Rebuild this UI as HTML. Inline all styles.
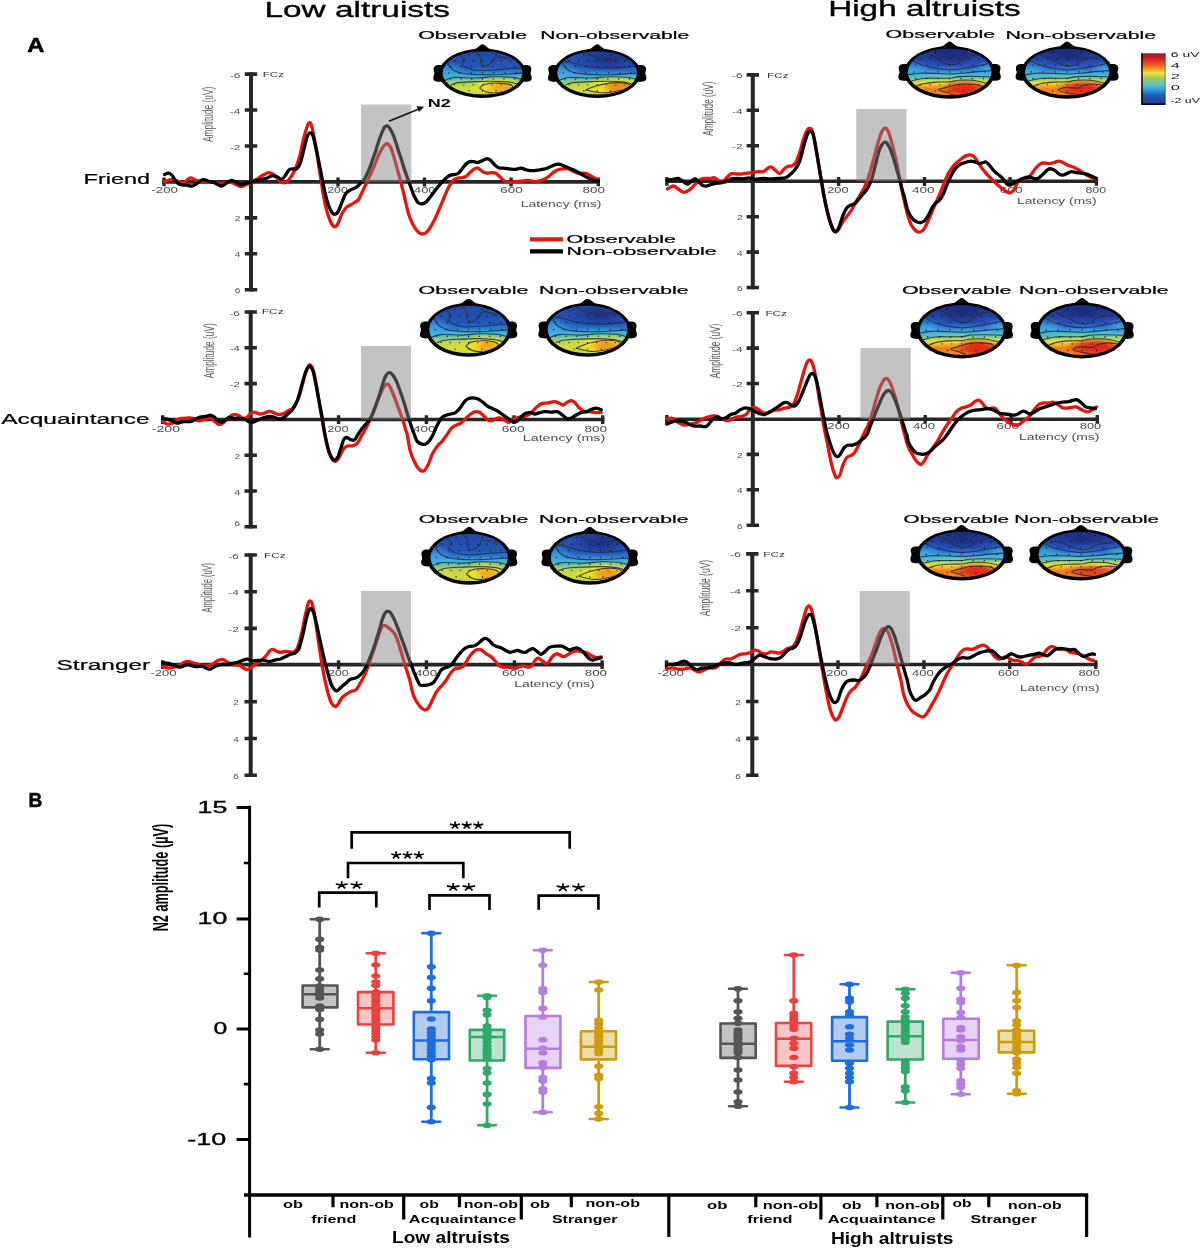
<!DOCTYPE html><html><head><meta charset="utf-8"><title>Figure</title><style>html,body{margin:0;padding:0;background:#fff}svg{display:block;will-change:transform;transform:translateZ(0)}text{font-family:"Liberation Sans",sans-serif}</style></head><body>
<svg width="1200" height="1248" viewBox="0 0 1200 1248">
<rect width="1200" height="1248" fill="#fff"/>
<text x="264.4" y="17.0" font-size="22.6" font-weight="normal" fill="#000" textLength="185.6" lengthAdjust="spacingAndGlyphs" stroke="#000" stroke-width="0.35">Low altruists</text>
<text x="828.2" y="16.2" font-size="22.6" font-weight="normal" fill="#000" textLength="192.4" lengthAdjust="spacingAndGlyphs" stroke="#000" stroke-width="0.35">High altruists</text>
<text x="27.3" y="52.0" font-size="21.0" font-weight="bold" fill="#000" textLength="17.1" lengthAdjust="spacingAndGlyphs" stroke="#000" stroke-width="0.6">A</text>
<text x="28.6" y="807.0" font-size="19.3" font-weight="bold" fill="#000" textLength="13.8" lengthAdjust="spacingAndGlyphs" stroke="#000" stroke-width="0.5">B</text>
<defs>
<clipPath id="tc0"><ellipse cx="482.5" cy="72.9" rx="39.8" ry="21.7"/></clipPath>
<linearGradient id="tg0" x1="0" y1="0" x2="0" y2="1"><stop offset="0" stop-color="#1f4aaa"/><stop offset="0.36" stop-color="#2456b9"/><stop offset="0.47" stop-color="#2a74ce"/><stop offset="0.55" stop-color="#39a9e0"/><stop offset="0.62" stop-color="#56bfb8"/><stop offset="0.7" stop-color="#94cc72"/><stop offset="0.78" stop-color="#c4d84a"/><stop offset="0.9" stop-color="#d4dd38"/><stop offset="1" stop-color="#c2d242"/></linearGradient>
<radialGradient id="th0"><stop offset="0" stop-color="#f6a816"/><stop offset="0.4" stop-color="#f6a816" stop-opacity="0.9"/><stop offset="1" stop-color="#f6a816" stop-opacity="0"/></radialGradient>
<radialGradient id="ty0"><stop offset="0" stop-color="#f4e224"/><stop offset="0.5" stop-color="#f0e026" stop-opacity="0.85"/><stop offset="1" stop-color="#e8e02a" stop-opacity="0"/></radialGradient>
<radialGradient id="tb0"><stop offset="0" stop-color="#3cace6" stop-opacity="0.95"/><stop offset="1" stop-color="#3cace6" stop-opacity="0"/></radialGradient>
<radialGradient id="td0"><stop offset="0" stop-color="#1a2f80" stop-opacity="0.95"/><stop offset="1" stop-color="#1a2f80" stop-opacity="0"/></radialGradient>
</defs>
<g fill="#000">
<path d="M442.1 65.0C434.8 64.4 433.6 66.8 433.6 69.1C433.6 71.1 434.4 72.1 434.4 73.3C434.4 74.5 433.3 75.7 433.3 77.9C433.3 80.3 435.0 82.2 442.1 81.7Z"/>
<path d="M522.9 65.0C530.2 64.4 531.4 66.8 531.4 69.1C531.4 71.1 530.6 72.1 530.6 73.3C530.6 74.5 531.7 75.7 531.7 77.9C531.7 80.3 530.0 82.2 522.9 81.7Z"/>
<path d="M472.5 51.2L480.3 45.2Q482.5 43.4 484.7 45.2L492.5 51.2Z"/>
<ellipse cx="482.5" cy="73.3" rx="43.4" ry="24.7"/>
</g>
<g clip-path="url(#tc0)">
<rect x="439.1" y="51.2" width="86.8" height="43.4" fill="url(#tg0)"/>
<ellipse cx="448.3" cy="72.5" rx="18.3" ry="10.8" fill="url(#tb0)"/>
<ellipse cx="498.4" cy="87.2" rx="28.9" ry="11.8" fill="url(#ty0)"/>
<ellipse cx="500.8" cy="87.7" rx="15.9" ry="7.3" fill="url(#th0)"/>
<g fill="none" stroke="#2b3038" stroke-width="1.1" stroke-opacity="0.9">
<path d="M475.3 51.5C476.1 52.2 479.1 54.0 480.0 55.9C480.9 57.8 480.2 61.0 480.8 62.7C481.4 64.4 482.1 65.5 483.3 65.9C484.6 66.2 486.6 65.7 488.4 64.9C490.2 64.0 492.8 62.0 493.9 60.7C494.9 59.5 493.5 58.2 494.7 57.6C495.9 57.0 498.5 56.8 501.1 57.1C503.6 57.4 508.4 59.1 509.9 59.5"/>
<path d="M460.1 55.4C460.8 56.1 464.1 58.0 464.4 59.5C464.6 61.0 461.3 63.0 461.8 64.4C462.3 65.8 464.6 67.0 467.3 68.0C470.0 69.1 473.4 70.1 477.9 70.5C482.3 70.8 488.3 70.3 493.9 70.0C499.5 69.7 506.8 68.8 511.6 68.5C516.4 68.2 520.8 68.1 522.6 68.0"/>
<path d="M447.5 61.7C448.0 62.8 449.1 66.3 450.9 68.0C452.6 69.8 454.6 71.1 458.0 72.2C461.5 73.2 465.6 73.9 471.5 74.4C477.5 74.8 485.2 75.0 493.9 74.8C502.5 74.6 518.5 73.4 523.4 73.1"/>
<path d="M444.5 80.4C446.1 79.9 448.5 77.9 453.8 77.5C459.1 77.1 469.5 78.1 476.2 78.0C482.9 77.9 488.0 76.9 493.9 76.8C499.8 76.7 507.0 76.8 511.6 77.3C516.3 77.7 520.0 79.1 521.7 79.5"/>
<path d="M450.4 85.1C451.7 84.6 453.7 83.2 458.0 82.6C462.3 82.1 470.2 81.9 476.2 81.6C482.1 81.4 488.3 81.1 493.9 81.2C499.5 81.2 505.9 81.6 509.9 82.1C513.9 82.7 516.6 84.0 517.9 84.3"/>
<path d="M479.5 88.0C480.5 87.4 481.9 85.1 485.0 84.3C488.2 83.5 494.1 82.9 498.5 83.1C503.0 83.3 509.7 84.3 511.6 85.3C513.5 86.3 512.1 87.7 509.9 88.9C507.7 90.2 502.4 92.1 498.5 92.6C494.7 93.1 489.9 92.9 486.7 92.1C483.6 91.3 480.7 88.7 479.5 88.0"/>
</g>
<path d="M469.0 54.7h0.01M496.0 54.7h0.01M454.6 60.7h0.01M463.9 60.7h0.01M473.2 60.7h0.01M482.5 60.7h0.01M491.8 60.7h0.01M501.1 60.7h0.01M510.4 60.7h0.01M450.3 66.6h0.01M461.0 66.6h0.01M471.8 66.6h0.01M482.5 66.6h0.01M493.2 66.6h0.01M504.0 66.6h0.01M514.7 66.6h0.01M448.7 72.9h0.01M459.9 72.9h0.01M471.2 72.9h0.01M482.5 72.9h0.01M493.8 72.9h0.01M505.1 72.9h0.01M516.3 72.9h0.01M450.3 79.0h0.01M461.0 79.0h0.01M471.8 79.0h0.01M482.5 79.0h0.01M493.2 79.0h0.01M504.0 79.0h0.01M514.7 79.0h0.01M454.6 84.8h0.01M463.9 84.8h0.01M473.2 84.8h0.01M482.5 84.8h0.01M491.8 84.8h0.01M501.1 84.8h0.01M510.4 84.8h0.01M469.0 90.7h0.01M482.5 90.7h0.01M496.0 90.7h0.01" stroke="#0c0c10" stroke-width="1.35" stroke-linecap="round" fill="none"/>
</g>
<defs>
<clipPath id="tc1"><ellipse cx="597.2" cy="72.9" rx="39.8" ry="21.7"/></clipPath>
<linearGradient id="tg1" x1="0" y1="0" x2="0" y2="1"><stop offset="0" stop-color="#1f4aaa"/><stop offset="0.36" stop-color="#2456b9"/><stop offset="0.47" stop-color="#2a74ce"/><stop offset="0.55" stop-color="#39a9e0"/><stop offset="0.62" stop-color="#56bfb8"/><stop offset="0.7" stop-color="#94cc72"/><stop offset="0.78" stop-color="#c4d84a"/><stop offset="0.9" stop-color="#d4dd38"/><stop offset="1" stop-color="#c2d242"/></linearGradient>
<radialGradient id="th1"><stop offset="0" stop-color="#f08a16"/><stop offset="0.4" stop-color="#f08a16" stop-opacity="0.9"/><stop offset="1" stop-color="#f08a16" stop-opacity="0"/></radialGradient>
<radialGradient id="ty1"><stop offset="0" stop-color="#f4e224"/><stop offset="0.5" stop-color="#f0e026" stop-opacity="0.85"/><stop offset="1" stop-color="#e8e02a" stop-opacity="0"/></radialGradient>
<radialGradient id="tb1"><stop offset="0" stop-color="#3cace6" stop-opacity="0.95"/><stop offset="1" stop-color="#3cace6" stop-opacity="0"/></radialGradient>
<radialGradient id="td1"><stop offset="0" stop-color="#1a2f80" stop-opacity="0.95"/><stop offset="1" stop-color="#1a2f80" stop-opacity="0"/></radialGradient>
</defs>
<g fill="#000">
<path d="M556.8 65.0C549.5 64.4 548.3 66.8 548.3 69.1C548.3 71.1 549.1 72.1 549.1 73.3C549.1 74.5 548.0 75.7 548.0 77.9C548.0 80.3 549.7 82.2 556.8 81.7Z"/>
<path d="M637.6 65.0C644.9 64.4 646.1 66.8 646.1 69.1C646.1 71.1 645.3 72.1 645.3 73.3C645.3 74.5 646.4 75.7 646.4 77.9C646.4 80.3 644.7 82.2 637.6 81.7Z"/>
<path d="M587.2 51.2L595.0 45.2Q597.2 43.4 599.4 45.2L607.2 51.2Z"/>
<ellipse cx="597.2" cy="73.3" rx="43.4" ry="24.7"/>
</g>
<g clip-path="url(#tc1)">
<rect x="553.8" y="51.2" width="86.8" height="43.4" fill="url(#tg1)"/>
<ellipse cx="563.0" cy="72.5" rx="18.3" ry="10.8" fill="url(#tb1)"/>
<ellipse cx="609.1" cy="59.4" rx="33.8" ry="13.0" fill="url(#td1)"/>
<ellipse cx="616.3" cy="86.8" rx="33.5" ry="11.8" fill="url(#ty1)"/>
<ellipse cx="618.7" cy="87.2" rx="18.5" ry="7.3" fill="url(#th1)"/>
<g fill="none" stroke="#2b3038" stroke-width="1.1" stroke-opacity="0.9">
<path d="M584.5 52.0C586.3 52.8 591.2 55.6 595.1 56.9C599.0 58.1 603.5 59.1 607.7 59.3C612.0 59.5 616.0 57.6 620.4 57.8C624.8 58.1 632.0 60.3 634.3 60.7"/>
<path d="M561.3 60.7C563.4 61.2 569.8 62.2 574.0 63.2C578.2 64.1 581.7 65.5 586.7 66.3C591.6 67.1 597.9 67.8 603.5 68.0C609.2 68.2 614.6 68.0 620.4 67.6C626.2 67.1 635.2 65.9 638.1 65.6"/>
<path d="M562.2 61.7C562.7 62.8 563.8 66.3 565.6 68.0C567.3 69.8 569.3 71.1 572.7 72.2C576.2 73.2 580.3 73.9 586.2 74.4C592.2 74.8 599.9 75.0 608.6 74.8C617.2 74.6 633.2 73.4 638.1 73.1"/>
<path d="M559.2 80.4C560.8 79.9 563.2 77.9 568.5 77.5C573.8 77.1 584.2 78.1 590.9 78.0C597.6 77.9 602.7 76.9 608.6 76.8C614.5 76.7 621.7 76.8 626.3 77.3C631.0 77.7 634.7 79.1 636.4 79.5"/>
<path d="M565.1 85.1C566.4 84.6 568.4 83.2 572.7 82.6C577.0 82.1 584.9 81.9 590.9 81.6C596.8 81.4 603.0 81.1 608.6 81.2C614.2 81.2 620.6 81.6 624.6 82.1C628.6 82.7 631.3 84.0 632.6 84.3"/>
<path d="M585.4 89.9C587.0 89.3 591.0 87.4 595.1 86.3C599.2 85.1 604.9 83.6 609.9 83.1C614.8 82.6 621.8 82.6 625.0 83.1C628.3 83.6 630.4 85.0 629.3 86.3C628.1 87.6 622.9 89.8 618.3 90.9C613.7 92.0 606.9 93.0 601.4 92.8C595.9 92.7 588.1 90.4 585.4 89.9"/>
</g>
<path d="M583.7 54.7h0.01M610.7 54.7h0.01M569.3 60.7h0.01M578.6 60.7h0.01M587.9 60.7h0.01M597.2 60.7h0.01M606.5 60.7h0.01M615.8 60.7h0.01M625.1 60.7h0.01M565.0 66.6h0.01M575.7 66.6h0.01M586.5 66.6h0.01M597.2 66.6h0.01M607.9 66.6h0.01M618.7 66.6h0.01M629.4 66.6h0.01M563.4 72.9h0.01M574.6 72.9h0.01M585.9 72.9h0.01M597.2 72.9h0.01M608.5 72.9h0.01M619.8 72.9h0.01M631.0 72.9h0.01M565.0 79.0h0.01M575.7 79.0h0.01M586.5 79.0h0.01M597.2 79.0h0.01M607.9 79.0h0.01M618.7 79.0h0.01M629.4 79.0h0.01M569.3 84.8h0.01M578.6 84.8h0.01M587.9 84.8h0.01M597.2 84.8h0.01M606.5 84.8h0.01M615.8 84.8h0.01M625.1 84.8h0.01M583.7 90.7h0.01M597.2 90.7h0.01M610.7 90.7h0.01" stroke="#0c0c10" stroke-width="1.35" stroke-linecap="round" fill="none"/>
</g>
<defs>
<clipPath id="tc2"><ellipse cx="949.6" cy="71.9" rx="41.8" ry="23.4"/></clipPath>
<linearGradient id="tg2" x1="0" y1="0" x2="0" y2="1"><stop offset="0" stop-color="#1d2f84"/><stop offset="0.2" stop-color="#20409e"/><stop offset="0.36" stop-color="#2452ba"/><stop offset="0.46" stop-color="#2c7ad2"/><stop offset="0.52" stop-color="#38a9e0"/><stop offset="0.58" stop-color="#52c1c6"/><stop offset="0.64" stop-color="#86ca8c"/><stop offset="0.69" stop-color="#c4d94e"/><stop offset="0.74" stop-color="#f1e02e"/><stop offset="0.8" stop-color="#f8ae20"/><stop offset="0.87" stop-color="#f27a20"/><stop offset="1" stop-color="#f38a22"/></linearGradient>
<radialGradient id="th2"><stop offset="0" stop-color="#e22818"/><stop offset="0.4" stop-color="#e22818" stop-opacity="0.9"/><stop offset="1" stop-color="#e22818" stop-opacity="0"/></radialGradient>
<radialGradient id="ty2"><stop offset="0" stop-color="#f4e224"/><stop offset="0.5" stop-color="#f0e026" stop-opacity="0.85"/><stop offset="1" stop-color="#e8e02a" stop-opacity="0"/></radialGradient>
<radialGradient id="tb2"><stop offset="0" stop-color="#3cace6" stop-opacity="0.95"/><stop offset="1" stop-color="#3cace6" stop-opacity="0"/></radialGradient>
<radialGradient id="td2"><stop offset="0" stop-color="#1b2a78" stop-opacity="0.95"/><stop offset="1" stop-color="#1b2a78" stop-opacity="0"/></radialGradient>
</defs>
<g fill="#000">
<path d="M907.2 64.0C899.9 63.4 898.7 65.8 898.7 68.1C898.7 70.1 899.5 71.1 899.5 72.3C899.5 73.5 898.4 74.7 898.4 76.9C898.4 79.3 900.1 81.2 907.2 80.7Z"/>
<path d="M992.0 64.0C999.3 63.4 1000.5 65.8 1000.5 68.1C1000.5 70.1 999.7 71.1 999.7 72.3C999.7 73.5 1000.8 74.7 1000.8 76.9C1000.8 79.3 999.1 81.2 992.0 80.7Z"/>
<path d="M939.6 48.5L947.4 42.5Q949.6 40.7 951.8 42.5L959.6 48.5Z"/>
<ellipse cx="949.6" cy="72.3" rx="45.4" ry="26.4"/>
</g>
<g clip-path="url(#tc2)">
<rect x="904.2" y="48.5" width="90.8" height="46.8" fill="url(#tg2)"/>
<ellipse cx="913.7" cy="71.4" rx="19.2" ry="11.7" fill="url(#tb2)"/>
<ellipse cx="987.2" cy="69.1" rx="15.0" ry="8.4" fill="url(#tb2)"/>
<ellipse cx="950.9" cy="55.5" rx="25.9" ry="11.7" fill="url(#td2)"/>
<ellipse cx="964.6" cy="88.7" rx="25.9" ry="9.4" fill="url(#th2)"/>
<g fill="none" stroke="#2b3038" stroke-width="1.1" stroke-opacity="0.9">
<path d="M923.9 52.0C925.7 52.9 931.8 55.5 935.0 57.2C938.2 59.0 940.4 61.2 943.0 62.5C945.5 63.7 947.5 64.6 950.0 64.8C952.6 65.0 955.7 64.6 958.0 63.5C960.4 62.4 961.8 59.3 964.2 58.0C966.7 56.7 970.2 56.1 972.6 55.7C975.1 55.2 977.8 55.2 978.8 55.1"/>
<path d="M911.5 59.8C913.4 60.8 918.8 63.9 923.0 65.3C927.2 66.8 932.2 67.8 936.8 68.5C941.3 69.2 945.6 69.8 950.0 69.8C954.5 69.8 958.8 69.1 963.3 68.5C967.8 67.9 972.6 67.0 977.1 66.1C981.6 65.3 988.1 63.7 990.4 63.3"/>
<path d="M906.6 75.0C908.6 74.7 913.6 73.5 918.6 73.2C923.6 72.9 931.5 73.3 936.8 73.5C942.0 73.6 945.6 74.0 950.0 74.0C954.5 74.0 958.8 73.6 963.3 73.2C967.8 72.8 972.2 72.1 977.1 71.6C981.9 71.2 990.0 70.8 992.6 70.6"/>
<path d="M909.7 81.3C911.9 80.9 918.5 79.0 923.0 78.5C927.5 77.9 932.2 78.2 936.8 78.2C941.3 78.1 946.4 78.5 950.0 78.2C953.7 77.9 955.1 76.9 958.9 76.6C962.7 76.3 967.3 76.3 972.6 76.4C978.0 76.4 987.8 76.8 990.8 76.9"/>
<path d="M915.9 86.6C917.1 86.1 919.5 84.4 923.0 83.7C926.5 83.0 932.2 82.4 936.8 82.1C941.3 81.8 946.4 82.2 950.0 81.9C953.7 81.6 955.1 80.5 958.9 80.3C962.7 80.0 968.1 79.8 972.6 80.3C977.1 80.7 983.7 82.5 985.9 82.9"/>
<path d="M953.6 94.7C952.4 94.3 949.0 93.2 946.5 92.3C944.0 91.5 938.5 90.6 938.5 89.7C938.5 88.9 943.4 88.2 946.5 87.4C949.6 86.5 953.6 85.0 957.1 84.5C960.7 83.9 964.1 83.9 967.8 84.0C971.4 84.0 976.5 84.5 978.8 85.0C981.2 85.5 981.4 86.8 981.9 87.1"/>
</g>
<path d="M935.4 52.2h0.01M963.8 52.2h0.01M920.3 58.8h0.01M930.1 58.8h0.01M939.8 58.8h0.01M949.6 58.8h0.01M959.4 58.8h0.01M969.1 58.8h0.01M978.9 58.8h0.01M915.7 65.1h0.01M927.0 65.1h0.01M938.3 65.1h0.01M949.6 65.1h0.01M960.9 65.1h0.01M972.2 65.1h0.01M983.5 65.1h0.01M914.1 71.9h0.01M925.9 71.9h0.01M937.8 71.9h0.01M949.6 71.9h0.01M961.4 71.9h0.01M973.3 71.9h0.01M985.1 71.9h0.01M915.7 78.5h0.01M927.0 78.5h0.01M938.3 78.5h0.01M949.6 78.5h0.01M960.9 78.5h0.01M972.2 78.5h0.01M983.5 78.5h0.01M920.3 84.8h0.01M930.1 84.8h0.01M939.8 84.8h0.01M949.6 84.8h0.01M959.4 84.8h0.01M969.1 84.8h0.01M978.9 84.8h0.01M935.4 91.1h0.01M949.6 91.1h0.01M963.8 91.1h0.01" stroke="#0c0c10" stroke-width="1.35" stroke-linecap="round" fill="none"/>
</g>
<defs>
<clipPath id="tc3"><ellipse cx="1067.1" cy="71.9" rx="42.1" ry="23.4"/></clipPath>
<linearGradient id="tg3" x1="0" y1="0" x2="0" y2="1"><stop offset="0" stop-color="#1d2f84"/><stop offset="0.2" stop-color="#20409e"/><stop offset="0.36" stop-color="#2452ba"/><stop offset="0.46" stop-color="#2c7ad2"/><stop offset="0.52" stop-color="#38a9e0"/><stop offset="0.58" stop-color="#52c1c6"/><stop offset="0.64" stop-color="#86ca8c"/><stop offset="0.69" stop-color="#c4d94e"/><stop offset="0.74" stop-color="#f1e02e"/><stop offset="0.8" stop-color="#f8ae20"/><stop offset="0.87" stop-color="#f27a20"/><stop offset="1" stop-color="#f38a22"/></linearGradient>
<radialGradient id="th3"><stop offset="0" stop-color="#e22818"/><stop offset="0.4" stop-color="#e22818" stop-opacity="0.9"/><stop offset="1" stop-color="#e22818" stop-opacity="0"/></radialGradient>
<radialGradient id="ty3"><stop offset="0" stop-color="#f4e224"/><stop offset="0.5" stop-color="#f0e026" stop-opacity="0.85"/><stop offset="1" stop-color="#e8e02a" stop-opacity="0"/></radialGradient>
<radialGradient id="tb3"><stop offset="0" stop-color="#3cace6" stop-opacity="0.95"/><stop offset="1" stop-color="#3cace6" stop-opacity="0"/></radialGradient>
<radialGradient id="td3"><stop offset="0" stop-color="#1b2a78" stop-opacity="0.95"/><stop offset="1" stop-color="#1b2a78" stop-opacity="0"/></radialGradient>
</defs>
<g fill="#000">
<path d="M1024.4 64.0C1017.1 63.4 1015.9 65.8 1015.9 68.1C1015.9 70.1 1016.7 71.1 1016.7 72.3C1016.7 73.5 1015.6 74.7 1015.6 76.9C1015.6 79.3 1017.3 81.2 1024.4 80.7Z"/>
<path d="M1109.8 64.0C1117.1 63.4 1118.3 65.8 1118.3 68.1C1118.3 70.1 1117.5 71.1 1117.5 72.3C1117.5 73.5 1118.6 74.7 1118.6 76.9C1118.6 79.3 1116.9 81.2 1109.8 80.7Z"/>
<path d="M1057.1 48.5L1064.9 42.5Q1067.1 40.7 1069.3 42.5L1077.1 48.5Z"/>
<ellipse cx="1067.1" cy="72.3" rx="45.7" ry="26.4"/>
</g>
<g clip-path="url(#tc3)">
<rect x="1021.4" y="48.5" width="91.4" height="46.8" fill="url(#tg3)"/>
<ellipse cx="1030.9" cy="71.4" rx="19.4" ry="11.7" fill="url(#tb3)"/>
<ellipse cx="1105.0" cy="69.1" rx="15.2" ry="8.4" fill="url(#tb3)"/>
<ellipse cx="1068.4" cy="55.5" rx="26.1" ry="9.9" fill="url(#td3)"/>
<ellipse cx="1082.3" cy="88.3" rx="27.8" ry="9.4" fill="url(#th3)"/>
<g fill="none" stroke="#2b3038" stroke-width="1.1" stroke-opacity="0.9">
<path d="M1041.2 55.0C1043.1 55.7 1049.2 57.9 1052.4 59.4C1055.6 60.9 1057.9 62.8 1060.4 63.9C1062.9 65.0 1065.0 65.7 1067.5 65.9C1070.1 66.0 1073.2 65.7 1075.6 64.8C1078.0 63.8 1079.4 61.2 1081.8 60.1C1084.3 59.0 1087.9 58.5 1090.3 58.1C1092.8 57.7 1095.5 57.7 1096.6 57.6"/>
<path d="M1028.7 59.8C1030.7 60.8 1036.1 63.9 1040.3 65.3C1044.6 66.8 1049.6 67.8 1054.2 68.5C1058.7 69.2 1063.1 69.8 1067.5 69.8C1072.0 69.8 1076.4 69.1 1080.9 68.5C1085.5 67.9 1090.2 67.0 1094.8 66.1C1099.3 65.3 1105.9 63.7 1108.2 63.3"/>
<path d="M1023.8 75.0C1025.8 74.7 1030.8 73.5 1035.9 73.2C1040.9 72.9 1048.9 73.3 1054.2 73.5C1059.4 73.6 1063.1 74.0 1067.5 74.0C1072.0 74.0 1076.4 73.6 1080.9 73.2C1085.5 72.8 1089.9 72.1 1094.8 71.6C1099.7 71.2 1107.8 70.8 1110.4 70.6"/>
<path d="M1026.9 81.3C1029.2 80.9 1035.8 79.0 1040.3 78.5C1044.9 77.9 1049.6 78.2 1054.2 78.2C1058.7 78.1 1063.8 78.5 1067.5 78.2C1071.3 77.9 1072.7 76.9 1076.5 76.6C1080.3 76.3 1085.0 76.3 1090.3 76.4C1095.7 76.4 1105.6 76.8 1108.6 76.9"/>
<path d="M1033.2 86.6C1034.4 86.1 1036.8 84.4 1040.3 83.7C1043.8 83.0 1049.6 82.4 1054.2 82.1C1058.7 81.8 1063.8 82.2 1067.5 81.9C1071.3 81.6 1072.7 80.5 1076.5 80.3C1080.3 80.0 1085.8 79.8 1090.3 80.3C1094.8 80.7 1101.5 82.5 1103.7 82.9"/>
<path d="M1080.5 95.0C1078.3 94.6 1070.8 93.7 1067.1 92.9C1063.4 92.1 1058.5 91.1 1058.2 90.2C1057.8 89.4 1061.5 88.0 1064.9 87.6C1068.2 87.3 1075.3 88.5 1078.3 88.1C1081.2 87.8 1080.1 86.2 1082.7 85.5C1085.3 84.8 1090.5 84.0 1093.9 84.0C1097.2 83.9 1101.3 84.8 1102.8 85.0"/>
</g>
<path d="M1052.8 52.2h0.01M1081.4 52.2h0.01M1037.6 58.8h0.01M1047.5 58.8h0.01M1057.3 58.8h0.01M1067.1 58.8h0.01M1076.9 58.8h0.01M1086.7 58.8h0.01M1096.6 58.8h0.01M1033.0 65.1h0.01M1044.4 65.1h0.01M1055.7 65.1h0.01M1067.1 65.1h0.01M1078.5 65.1h0.01M1089.8 65.1h0.01M1101.2 65.1h0.01M1031.3 71.9h0.01M1043.2 71.9h0.01M1055.2 71.9h0.01M1067.1 71.9h0.01M1079.0 71.9h0.01M1091.0 71.9h0.01M1102.9 71.9h0.01M1033.0 78.5h0.01M1044.4 78.5h0.01M1055.7 78.5h0.01M1067.1 78.5h0.01M1078.5 78.5h0.01M1089.8 78.5h0.01M1101.2 78.5h0.01M1037.6 84.8h0.01M1047.5 84.8h0.01M1057.3 84.8h0.01M1067.1 84.8h0.01M1076.9 84.8h0.01M1086.7 84.8h0.01M1096.6 84.8h0.01M1052.8 91.1h0.01M1067.1 91.1h0.01M1081.4 91.1h0.01" stroke="#0c0c10" stroke-width="1.35" stroke-linecap="round" fill="none"/>
</g>
<defs>
<clipPath id="tc4"><ellipse cx="468.6" cy="329.5" rx="39.3" ry="23.9"/></clipPath>
<linearGradient id="tg4" x1="0" y1="0" x2="0" y2="1"><stop offset="0" stop-color="#1f4aaa"/><stop offset="0.36" stop-color="#2456b9"/><stop offset="0.47" stop-color="#2a74ce"/><stop offset="0.55" stop-color="#39a9e0"/><stop offset="0.62" stop-color="#56bfb8"/><stop offset="0.7" stop-color="#94cc72"/><stop offset="0.78" stop-color="#c4d84a"/><stop offset="0.9" stop-color="#d4dd38"/><stop offset="1" stop-color="#c2d242"/></linearGradient>
<radialGradient id="th4"><stop offset="0" stop-color="#f6a816"/><stop offset="0.4" stop-color="#f6a816" stop-opacity="0.9"/><stop offset="1" stop-color="#f6a816" stop-opacity="0"/></radialGradient>
<radialGradient id="ty4"><stop offset="0" stop-color="#f4e224"/><stop offset="0.5" stop-color="#f0e026" stop-opacity="0.85"/><stop offset="1" stop-color="#e8e02a" stop-opacity="0"/></radialGradient>
<radialGradient id="tb4"><stop offset="0" stop-color="#3cace6" stop-opacity="0.95"/><stop offset="1" stop-color="#3cace6" stop-opacity="0"/></radialGradient>
<radialGradient id="td4"><stop offset="0" stop-color="#1a2f80" stop-opacity="0.95"/><stop offset="1" stop-color="#1a2f80" stop-opacity="0"/></radialGradient>
</defs>
<g fill="#000">
<path d="M428.7 321.6C421.4 321.0 420.2 323.4 420.2 325.7C420.2 327.7 421.0 328.7 421.0 329.9C421.0 331.1 419.9 332.3 419.9 334.5C419.9 336.9 421.6 338.8 428.7 338.3Z"/>
<path d="M508.5 321.6C515.8 321.0 517.0 323.4 517.0 325.7C517.0 327.7 516.2 328.7 516.2 329.9C516.2 331.1 517.3 332.3 517.3 334.5C517.3 336.9 515.6 338.8 508.5 338.3Z"/>
<path d="M458.6 305.6L466.4 299.6Q468.6 297.8 470.8 299.6L478.6 305.6Z"/>
<ellipse cx="468.6" cy="329.9" rx="42.9" ry="26.9"/>
</g>
<g clip-path="url(#tc4)">
<rect x="425.7" y="305.6" width="85.8" height="47.8" fill="url(#tg4)"/>
<ellipse cx="434.8" cy="329.0" rx="18.1" ry="11.9" fill="url(#tb4)"/>
<ellipse cx="485.1" cy="345.3" rx="25.1" ry="12.4" fill="url(#ty4)"/>
<ellipse cx="487.5" cy="345.8" rx="13.8" ry="7.6" fill="url(#th4)"/>
<g fill="none" stroke="#2b3038" stroke-width="1.1" stroke-opacity="0.9">
<path d="M461.5 305.9C462.3 306.7 465.2 308.7 466.1 310.8C467.0 312.8 466.4 316.4 466.9 318.3C467.5 320.1 468.2 321.3 469.4 321.7C470.7 322.1 472.7 321.6 474.4 320.7C476.2 319.7 478.8 317.5 479.8 316.1C480.9 314.8 479.5 313.3 480.7 312.6C481.9 312.0 484.4 311.7 486.9 312.1C489.4 312.5 494.2 314.3 495.7 314.8"/>
<path d="M446.5 310.2C447.2 311.0 450.4 313.1 450.7 314.8C451.0 316.4 447.7 318.6 448.2 320.1C448.7 321.7 451.0 323.0 453.6 324.1C456.2 325.3 459.6 326.5 464.0 326.8C468.4 327.2 474.3 326.6 479.8 326.3C485.4 325.9 492.6 325.0 497.3 324.7C502.1 324.3 506.4 324.2 508.2 324.1"/>
<path d="M434.0 317.2C434.6 318.3 435.6 322.2 437.4 324.1C439.1 326.1 441.0 327.5 444.4 328.7C447.8 329.9 451.9 330.6 457.8 331.1C463.7 331.6 471.3 331.9 479.8 331.6C488.4 331.4 504.1 330.1 509.0 329.8"/>
<path d="M431.1 337.8C432.6 337.3 435.1 335.0 440.3 334.6C445.5 334.1 455.8 335.3 462.4 335.1C468.9 335.0 474.0 333.9 479.8 333.8C485.7 333.6 492.8 333.8 497.3 334.3C501.9 334.8 505.7 336.3 507.3 336.7"/>
<path d="M436.9 342.9C438.2 342.4 440.2 340.8 444.4 340.2C448.7 339.6 456.4 339.4 462.4 339.1C468.3 338.9 474.3 338.5 479.8 338.6C485.4 338.7 491.7 339.1 495.7 339.7C499.6 340.3 502.3 341.7 503.6 342.1"/>
<path d="M465.7 346.1C466.6 345.4 468.0 343.0 471.1 342.1C474.2 341.2 480.1 340.6 484.4 340.7C488.8 340.9 495.5 342.1 497.3 343.2C499.2 344.2 497.8 345.8 495.7 347.2C493.5 348.5 488.2 350.6 484.4 351.2C480.6 351.8 475.9 351.5 472.8 350.6C469.6 349.8 466.9 346.9 465.7 346.1"/>
</g>
<path d="M455.2 309.4h0.01M482.0 309.4h0.01M441.1 316.1h0.01M450.3 316.1h0.01M459.4 316.1h0.01M468.6 316.1h0.01M477.8 316.1h0.01M486.9 316.1h0.01M496.1 316.1h0.01M436.8 322.6h0.01M447.4 322.6h0.01M458.0 322.6h0.01M468.6 322.6h0.01M479.2 322.6h0.01M489.8 322.6h0.01M500.4 322.6h0.01M435.2 329.5h0.01M446.3 329.5h0.01M457.5 329.5h0.01M468.6 329.5h0.01M479.7 329.5h0.01M490.9 329.5h0.01M502.0 329.5h0.01M436.8 336.2h0.01M447.4 336.2h0.01M458.0 336.2h0.01M468.6 336.2h0.01M479.2 336.2h0.01M489.8 336.2h0.01M500.4 336.2h0.01M441.1 342.6h0.01M450.3 342.6h0.01M459.4 342.6h0.01M468.6 342.6h0.01M477.8 342.6h0.01M486.9 342.6h0.01M496.1 342.6h0.01M455.2 349.1h0.01M468.6 349.1h0.01M482.0 349.1h0.01" stroke="#0c0c10" stroke-width="1.35" stroke-linecap="round" fill="none"/>
</g>
<defs>
<clipPath id="tc5"><ellipse cx="587.6" cy="329.5" rx="39.9" ry="23.9"/></clipPath>
<linearGradient id="tg5" x1="0" y1="0" x2="0" y2="1"><stop offset="0" stop-color="#1f4aaa"/><stop offset="0.36" stop-color="#2456b9"/><stop offset="0.47" stop-color="#2a74ce"/><stop offset="0.55" stop-color="#39a9e0"/><stop offset="0.62" stop-color="#56bfb8"/><stop offset="0.7" stop-color="#94cc72"/><stop offset="0.78" stop-color="#c4d84a"/><stop offset="0.9" stop-color="#d4dd38"/><stop offset="1" stop-color="#c2d242"/></linearGradient>
<radialGradient id="th5"><stop offset="0" stop-color="#f39a16"/><stop offset="0.4" stop-color="#f39a16" stop-opacity="0.9"/><stop offset="1" stop-color="#f39a16" stop-opacity="0"/></radialGradient>
<radialGradient id="ty5"><stop offset="0" stop-color="#f4e224"/><stop offset="0.5" stop-color="#f0e026" stop-opacity="0.85"/><stop offset="1" stop-color="#e8e02a" stop-opacity="0"/></radialGradient>
<radialGradient id="tb5"><stop offset="0" stop-color="#3cace6" stop-opacity="0.95"/><stop offset="1" stop-color="#3cace6" stop-opacity="0"/></radialGradient>
<radialGradient id="td5"><stop offset="0" stop-color="#1a2f80" stop-opacity="0.95"/><stop offset="1" stop-color="#1a2f80" stop-opacity="0"/></radialGradient>
</defs>
<g fill="#000">
<path d="M547.1 321.6C539.8 321.0 538.6 323.4 538.6 325.7C538.6 327.7 539.4 328.7 539.4 329.9C539.4 331.1 538.3 332.3 538.3 334.5C538.3 336.9 540.0 338.8 547.1 338.3Z"/>
<path d="M628.1 321.6C635.4 321.0 636.6 323.4 636.6 325.7C636.6 327.7 635.8 328.7 635.8 329.9C635.8 331.1 636.9 332.3 636.9 334.5C636.9 336.9 635.2 338.8 628.1 338.3Z"/>
<path d="M577.6 305.6L585.4 299.6Q587.6 297.8 589.8 299.6L597.6 305.6Z"/>
<ellipse cx="587.6" cy="329.9" rx="43.5" ry="26.9"/>
</g>
<g clip-path="url(#tc5)">
<rect x="544.1" y="305.6" width="87.0" height="47.8" fill="url(#tg5)"/>
<ellipse cx="553.3" cy="329.0" rx="18.4" ry="11.9" fill="url(#tb5)"/>
<ellipse cx="599.6" cy="314.7" rx="33.9" ry="14.3" fill="url(#td5)"/>
<ellipse cx="603.6" cy="345.3" rx="31.2" ry="12.4" fill="url(#ty5)"/>
<ellipse cx="606.0" cy="345.8" rx="17.2" ry="7.6" fill="url(#th5)"/>
<g fill="none" stroke="#2b3038" stroke-width="1.1" stroke-opacity="0.9">
<path d="M574.9 306.5C576.7 307.4 581.6 310.5 585.5 311.8C589.4 313.2 593.9 314.3 598.2 314.5C602.4 314.7 606.4 312.6 610.9 312.9C615.3 313.2 622.5 315.6 624.8 316.1"/>
<path d="M551.7 316.1C553.8 316.6 560.1 317.8 564.3 318.8C568.6 319.8 572.1 321.4 577.0 322.3C582.0 323.2 588.3 323.9 593.9 324.1C599.6 324.4 605.1 324.1 610.9 323.6C616.6 323.2 625.7 321.8 628.6 321.5"/>
<path d="M552.5 317.2C553.1 318.3 554.1 322.2 555.9 324.1C557.6 326.1 559.6 327.5 563.1 328.7C566.5 329.9 570.6 330.6 576.6 331.1C582.6 331.6 590.3 331.9 599.0 331.6C607.7 331.4 623.7 330.1 628.6 329.8"/>
<path d="M549.5 337.8C551.1 337.3 553.6 335.0 558.8 334.6C564.1 334.1 574.6 335.3 581.3 335.1C588.0 335.0 593.1 333.9 599.0 333.8C604.9 333.6 612.1 333.8 616.8 334.3C621.4 334.8 625.2 336.3 626.9 336.7"/>
<path d="M555.5 342.9C556.7 342.4 558.8 340.8 563.1 340.2C567.4 339.6 575.3 339.4 581.3 339.1C587.2 338.9 593.4 338.5 599.0 338.6C604.7 338.7 611.1 339.1 615.1 339.7C619.1 340.3 621.8 341.7 623.1 342.1"/>
<path d="M575.8 348.2C577.4 347.6 581.4 345.5 585.5 344.2C589.6 343.0 595.3 341.3 600.3 340.7C605.3 340.2 612.3 340.2 615.5 340.7C618.8 341.3 620.9 342.8 619.7 344.2C618.6 345.7 613.4 348.1 608.7 349.3C604.1 350.5 597.3 351.6 591.8 351.4C586.3 351.3 578.4 348.8 575.8 348.2"/>
</g>
<path d="M574.0 309.4h0.01M601.2 309.4h0.01M559.7 316.1h0.01M569.0 316.1h0.01M578.3 316.1h0.01M587.6 316.1h0.01M596.9 316.1h0.01M606.2 316.1h0.01M615.5 316.1h0.01M555.3 322.6h0.01M566.1 322.6h0.01M576.8 322.6h0.01M587.6 322.6h0.01M598.4 322.6h0.01M609.1 322.6h0.01M619.9 322.6h0.01M553.7 329.5h0.01M565.0 329.5h0.01M576.3 329.5h0.01M587.6 329.5h0.01M598.9 329.5h0.01M610.2 329.5h0.01M621.5 329.5h0.01M555.3 336.2h0.01M566.1 336.2h0.01M576.8 336.2h0.01M587.6 336.2h0.01M598.4 336.2h0.01M609.1 336.2h0.01M619.9 336.2h0.01M559.7 342.6h0.01M569.0 342.6h0.01M578.3 342.6h0.01M587.6 342.6h0.01M596.9 342.6h0.01M606.2 342.6h0.01M615.5 342.6h0.01M574.0 349.1h0.01M587.6 349.1h0.01M601.2 349.1h0.01" stroke="#0c0c10" stroke-width="1.35" stroke-linecap="round" fill="none"/>
</g>
<defs>
<clipPath id="tc6"><ellipse cx="961.7" cy="330.0" rx="41.9" ry="25.0"/></clipPath>
<linearGradient id="tg6" x1="0" y1="0" x2="0" y2="1"><stop offset="0" stop-color="#1d2f84"/><stop offset="0.2" stop-color="#20409e"/><stop offset="0.36" stop-color="#2452ba"/><stop offset="0.46" stop-color="#2c7ad2"/><stop offset="0.52" stop-color="#38a9e0"/><stop offset="0.58" stop-color="#52c1c6"/><stop offset="0.64" stop-color="#86ca8c"/><stop offset="0.69" stop-color="#c4d94e"/><stop offset="0.74" stop-color="#f1e02e"/><stop offset="0.8" stop-color="#f8ae20"/><stop offset="0.87" stop-color="#f27a20"/><stop offset="1" stop-color="#f38a22"/></linearGradient>
<radialGradient id="th6"><stop offset="0" stop-color="#e22818"/><stop offset="0.4" stop-color="#e22818" stop-opacity="0.9"/><stop offset="1" stop-color="#e22818" stop-opacity="0"/></radialGradient>
<radialGradient id="ty6"><stop offset="0" stop-color="#f4e224"/><stop offset="0.5" stop-color="#f0e026" stop-opacity="0.85"/><stop offset="1" stop-color="#e8e02a" stop-opacity="0"/></radialGradient>
<radialGradient id="tb6"><stop offset="0" stop-color="#3cace6" stop-opacity="0.95"/><stop offset="1" stop-color="#3cace6" stop-opacity="0"/></radialGradient>
<radialGradient id="td6"><stop offset="0" stop-color="#1b2a78" stop-opacity="0.95"/><stop offset="1" stop-color="#1b2a78" stop-opacity="0"/></radialGradient>
</defs>
<g fill="#000">
<path d="M919.2 322.1C911.9 321.5 910.7 323.9 910.7 326.2C910.7 328.2 911.5 329.2 911.5 330.4C911.5 331.6 910.4 332.8 910.4 335.0C910.4 337.4 912.1 339.3 919.2 338.8Z"/>
<path d="M1004.2 322.1C1011.5 321.5 1012.7 323.9 1012.7 326.2C1012.7 328.2 1011.9 329.2 1011.9 330.4C1011.9 331.6 1013.0 332.8 1013.0 335.0C1013.0 337.4 1011.3 339.3 1004.2 338.8Z"/>
<path d="M951.7 305.0L959.5 299.0Q961.7 297.2 963.9 299.0L971.7 305.0Z"/>
<ellipse cx="961.7" cy="330.4" rx="45.5" ry="28.0"/>
</g>
<g clip-path="url(#tc6)">
<rect x="916.2" y="305.0" width="91.0" height="50.0" fill="url(#tg6)"/>
<ellipse cx="925.7" cy="329.5" rx="19.3" ry="12.5" fill="url(#tb6)"/>
<ellipse cx="999.4" cy="327.0" rx="15.1" ry="9.0" fill="url(#tb6)"/>
<ellipse cx="963.0" cy="312.5" rx="26.0" ry="12.5" fill="url(#td6)"/>
<ellipse cx="977.6" cy="348.0" rx="25.1" ry="10.0" fill="url(#th6)"/>
<g fill="none" stroke="#2b3038" stroke-width="1.1" stroke-opacity="0.9">
<path d="M935.9 308.7C937.8 309.7 943.9 312.5 947.0 314.3C950.2 316.2 952.5 318.6 955.0 319.9C957.6 321.3 959.6 322.3 962.1 322.4C964.7 322.6 967.8 322.3 970.1 321.0C972.5 319.8 973.9 316.6 976.4 315.2C978.8 313.8 982.4 313.2 984.8 312.6C987.2 312.1 990.0 312.2 991.0 312.1"/>
<path d="M923.5 317.1C925.4 318.1 930.8 321.5 935.1 323.0C939.3 324.5 944.3 325.6 948.8 326.4C953.3 327.2 957.7 327.8 962.1 327.8C966.6 327.8 971.0 327.0 975.5 326.4C980.0 325.7 984.7 324.8 989.2 323.8C993.8 322.9 1000.3 321.3 1002.6 320.8"/>
<path d="M918.6 333.4C920.6 333.0 925.6 331.7 930.6 331.4C935.6 331.1 943.6 331.5 948.8 331.7C954.1 331.8 957.7 332.3 962.1 332.2C966.6 332.2 971.0 331.8 975.5 331.4C980.0 331.0 984.4 330.2 989.2 329.7C994.1 329.3 1002.2 328.8 1004.8 328.6"/>
<path d="M921.7 340.1C923.9 339.6 930.5 337.6 935.1 337.0C939.6 336.4 944.3 336.8 948.8 336.7C953.3 336.7 958.4 337.0 962.1 336.7C965.8 336.4 967.3 335.4 971.0 335.0C974.8 334.7 979.5 334.7 984.8 334.8C990.1 334.8 1000.0 335.2 1003.0 335.3"/>
<path d="M927.9 345.7C929.1 345.2 931.6 343.4 935.1 342.6C938.5 341.8 944.3 341.2 948.8 340.9C953.3 340.6 958.4 341.0 962.1 340.6C965.8 340.3 967.3 339.2 971.0 339.0C974.8 338.7 980.3 338.5 984.8 339.0C989.3 339.4 995.9 341.3 998.1 341.8"/>
<path d="M965.7 354.4C964.5 353.9 961.1 352.7 958.6 351.8C956.1 351.0 950.6 349.9 950.6 349.0C950.6 348.2 955.5 347.5 958.6 346.5C961.7 345.6 965.7 344.0 969.3 343.4C972.8 342.8 976.3 342.8 979.9 342.9C983.5 343.0 988.6 343.4 991.0 344.0C993.4 344.6 993.6 345.9 994.1 346.2"/>
</g>
<path d="M947.5 309.0h0.01M975.9 309.0h0.01M932.4 316.0h0.01M942.1 316.0h0.01M951.9 316.0h0.01M961.7 316.0h0.01M971.5 316.0h0.01M981.3 316.0h0.01M991.0 316.0h0.01M927.8 322.8h0.01M939.1 322.8h0.01M950.4 322.8h0.01M961.7 322.8h0.01M973.0 322.8h0.01M984.3 322.8h0.01M995.6 322.8h0.01M926.1 330.0h0.01M938.0 330.0h0.01M949.8 330.0h0.01M961.7 330.0h0.01M973.6 330.0h0.01M985.4 330.0h0.01M997.3 330.0h0.01M927.8 337.0h0.01M939.1 337.0h0.01M950.4 337.0h0.01M961.7 337.0h0.01M973.0 337.0h0.01M984.3 337.0h0.01M995.6 337.0h0.01M932.4 343.8h0.01M942.1 343.8h0.01M951.9 343.8h0.01M961.7 343.8h0.01M971.5 343.8h0.01M981.3 343.8h0.01M991.0 343.8h0.01M947.5 350.5h0.01M961.7 350.5h0.01M975.9 350.5h0.01" stroke="#0c0c10" stroke-width="1.35" stroke-linecap="round" fill="none"/>
</g>
<defs>
<clipPath id="tc7"><ellipse cx="1082.1" cy="330.0" rx="42.3" ry="25.0"/></clipPath>
<linearGradient id="tg7" x1="0" y1="0" x2="0" y2="1"><stop offset="0" stop-color="#1d2f84"/><stop offset="0.2" stop-color="#20409e"/><stop offset="0.36" stop-color="#2452ba"/><stop offset="0.46" stop-color="#2c7ad2"/><stop offset="0.52" stop-color="#38a9e0"/><stop offset="0.58" stop-color="#52c1c6"/><stop offset="0.64" stop-color="#86ca8c"/><stop offset="0.69" stop-color="#c4d94e"/><stop offset="0.74" stop-color="#f1e02e"/><stop offset="0.8" stop-color="#f8ae20"/><stop offset="0.87" stop-color="#f27a20"/><stop offset="1" stop-color="#f38a22"/></linearGradient>
<radialGradient id="th7"><stop offset="0" stop-color="#e02418"/><stop offset="0.4" stop-color="#e02418" stop-opacity="0.9"/><stop offset="1" stop-color="#e02418" stop-opacity="0"/></radialGradient>
<radialGradient id="ty7"><stop offset="0" stop-color="#f4e224"/><stop offset="0.5" stop-color="#f0e026" stop-opacity="0.85"/><stop offset="1" stop-color="#e8e02a" stop-opacity="0"/></radialGradient>
<radialGradient id="tb7"><stop offset="0" stop-color="#3cace6" stop-opacity="0.95"/><stop offset="1" stop-color="#3cace6" stop-opacity="0"/></radialGradient>
<radialGradient id="td7"><stop offset="0" stop-color="#1b2a78" stop-opacity="0.95"/><stop offset="1" stop-color="#1b2a78" stop-opacity="0"/></radialGradient>
</defs>
<g fill="#000">
<path d="M1039.2 322.1C1031.9 321.5 1030.7 323.9 1030.7 326.2C1030.7 328.2 1031.5 329.2 1031.5 330.4C1031.5 331.6 1030.4 332.8 1030.4 335.0C1030.4 337.4 1032.1 339.3 1039.2 338.8Z"/>
<path d="M1125.0 322.1C1132.3 321.5 1133.5 323.9 1133.5 326.2C1133.5 328.2 1132.7 329.2 1132.7 330.4C1132.7 331.6 1133.8 332.8 1133.8 335.0C1133.8 337.4 1132.1 339.3 1125.0 338.8Z"/>
<path d="M1072.1 305.0L1079.9 299.0Q1082.1 297.2 1084.3 299.0L1092.1 305.0Z"/>
<ellipse cx="1082.1" cy="330.4" rx="45.9" ry="28.0"/>
</g>
<g clip-path="url(#tc7)">
<rect x="1036.2" y="305.0" width="91.8" height="50.0" fill="url(#tg7)"/>
<ellipse cx="1045.7" cy="329.5" rx="19.5" ry="12.5" fill="url(#tb7)"/>
<ellipse cx="1120.2" cy="327.0" rx="15.2" ry="9.0" fill="url(#tb7)"/>
<ellipse cx="1083.4" cy="312.5" rx="26.2" ry="10.0" fill="url(#td7)"/>
<ellipse cx="1094.8" cy="347.0" rx="30.5" ry="10.0" fill="url(#th7)"/>
<g fill="none" stroke="#2b3038" stroke-width="1.1" stroke-opacity="0.9">
<path d="M1056.1 313.0C1058.0 313.7 1064.1 316.0 1067.3 317.5C1070.5 318.9 1072.8 320.9 1075.4 321.9C1077.9 323.0 1080.0 323.8 1082.5 324.0C1085.1 324.1 1088.2 323.8 1090.6 322.8C1093.0 321.9 1094.4 319.2 1096.9 318.1C1099.4 317.0 1102.9 316.5 1105.4 316.1C1107.9 315.7 1110.6 315.7 1111.7 315.7"/>
<path d="M1043.5 317.1C1045.5 318.1 1050.9 321.5 1055.2 323.0C1059.5 324.5 1064.5 325.6 1069.1 326.4C1073.7 327.2 1078.1 327.8 1082.5 327.8C1087.0 327.8 1091.4 327.0 1096.0 326.4C1100.6 325.7 1105.3 324.8 1109.9 323.8C1114.5 322.9 1121.1 321.3 1123.4 320.8"/>
<path d="M1038.6 333.4C1040.6 333.0 1045.6 331.7 1050.7 331.4C1055.8 331.1 1063.8 331.5 1069.1 331.7C1074.4 331.8 1078.1 332.3 1082.5 332.2C1087.0 332.2 1091.4 331.8 1096.0 331.4C1100.6 331.0 1105.0 330.2 1109.9 329.7C1114.8 329.3 1123.0 328.8 1125.6 328.6"/>
<path d="M1041.7 340.1C1044.0 339.6 1050.6 337.6 1055.2 337.0C1059.8 336.4 1064.5 336.8 1069.1 336.7C1073.7 336.7 1078.8 337.0 1082.5 336.7C1086.3 336.4 1087.7 335.4 1091.5 335.0C1095.3 334.7 1100.0 334.7 1105.4 334.8C1110.8 334.8 1120.7 335.2 1123.8 335.3"/>
<path d="M1048.0 345.7C1049.2 345.2 1051.7 343.4 1055.2 342.6C1058.7 341.8 1064.5 341.2 1069.1 340.9C1073.7 340.6 1078.8 341.0 1082.5 340.6C1086.3 340.3 1087.7 339.2 1091.5 339.0C1095.3 338.7 1100.9 338.5 1105.4 339.0C1110.0 339.4 1116.6 341.3 1118.9 341.8"/>
<path d="M1095.6 354.6C1093.3 354.3 1085.8 353.2 1082.1 352.4C1078.4 351.6 1073.5 350.5 1073.1 349.6C1072.8 348.7 1076.5 347.2 1079.9 346.8C1083.2 346.4 1090.3 347.7 1093.3 347.4C1096.3 347.0 1095.2 345.3 1097.8 344.6C1100.4 343.8 1105.6 343.0 1109.0 342.9C1112.4 342.8 1116.5 343.8 1118.0 344.0"/>
</g>
<path d="M1067.7 309.0h0.01M1096.5 309.0h0.01M1052.5 316.0h0.01M1062.4 316.0h0.01M1072.2 316.0h0.01M1082.1 316.0h0.01M1092.0 316.0h0.01M1101.8 316.0h0.01M1111.7 316.0h0.01M1047.8 322.8h0.01M1059.3 322.8h0.01M1070.7 322.8h0.01M1082.1 322.8h0.01M1093.5 322.8h0.01M1104.9 322.8h0.01M1116.4 322.8h0.01M1046.1 330.0h0.01M1058.1 330.0h0.01M1070.1 330.0h0.01M1082.1 330.0h0.01M1094.1 330.0h0.01M1106.1 330.0h0.01M1118.1 330.0h0.01M1047.8 337.0h0.01M1059.3 337.0h0.01M1070.7 337.0h0.01M1082.1 337.0h0.01M1093.5 337.0h0.01M1104.9 337.0h0.01M1116.4 337.0h0.01M1052.5 343.8h0.01M1062.4 343.8h0.01M1072.2 343.8h0.01M1082.1 343.8h0.01M1092.0 343.8h0.01M1101.8 343.8h0.01M1111.7 343.8h0.01M1067.7 350.5h0.01M1082.1 350.5h0.01M1096.5 350.5h0.01" stroke="#0c0c10" stroke-width="1.35" stroke-linecap="round" fill="none"/>
</g>
<defs>
<clipPath id="tc8"><ellipse cx="469.2" cy="557.5" rx="38.7" ry="23.8"/></clipPath>
<linearGradient id="tg8" x1="0" y1="0" x2="0" y2="1"><stop offset="0" stop-color="#1f4aaa"/><stop offset="0.36" stop-color="#2456b9"/><stop offset="0.47" stop-color="#2a74ce"/><stop offset="0.55" stop-color="#39a9e0"/><stop offset="0.62" stop-color="#56bfb8"/><stop offset="0.7" stop-color="#94cc72"/><stop offset="0.78" stop-color="#c4d84a"/><stop offset="0.9" stop-color="#d4dd38"/><stop offset="1" stop-color="#c2d242"/></linearGradient>
<radialGradient id="th8"><stop offset="0" stop-color="#f6a816"/><stop offset="0.4" stop-color="#f6a816" stop-opacity="0.9"/><stop offset="1" stop-color="#f6a816" stop-opacity="0"/></radialGradient>
<radialGradient id="ty8"><stop offset="0" stop-color="#f4e224"/><stop offset="0.5" stop-color="#f0e026" stop-opacity="0.85"/><stop offset="1" stop-color="#e8e02a" stop-opacity="0"/></radialGradient>
<radialGradient id="tb8"><stop offset="0" stop-color="#3cace6" stop-opacity="0.95"/><stop offset="1" stop-color="#3cace6" stop-opacity="0"/></radialGradient>
<radialGradient id="td8"><stop offset="0" stop-color="#1a2f80" stop-opacity="0.95"/><stop offset="1" stop-color="#1a2f80" stop-opacity="0"/></radialGradient>
</defs>
<g fill="#000">
<path d="M429.9 549.6C422.6 549.0 421.4 551.4 421.4 553.7C421.4 555.7 422.2 556.7 422.2 557.9C422.2 559.1 421.1 560.3 421.1 562.5C421.1 564.9 422.8 566.8 429.9 566.3Z"/>
<path d="M508.5 549.6C515.8 549.0 517.0 551.4 517.0 553.7C517.0 555.7 516.2 556.7 516.2 557.9C516.2 559.1 517.3 560.3 517.3 562.5C517.3 564.9 515.6 566.8 508.5 566.3Z"/>
<path d="M459.2 533.7L467.0 527.7Q469.2 525.9 471.4 527.7L479.2 533.7Z"/>
<ellipse cx="469.2" cy="557.9" rx="42.3" ry="26.8"/>
</g>
<g clip-path="url(#tc8)">
<rect x="426.9" y="533.7" width="84.6" height="47.6" fill="url(#tg8)"/>
<ellipse cx="435.9" cy="557.0" rx="17.8" ry="11.9" fill="url(#tb8)"/>
<ellipse cx="485.5" cy="573.2" rx="24.7" ry="12.4" fill="url(#ty8)"/>
<ellipse cx="487.8" cy="573.7" rx="13.6" ry="7.6" fill="url(#th8)"/>
<g fill="none" stroke="#2b3038" stroke-width="1.1" stroke-opacity="0.9">
<path d="M462.2 534.0C463.0 534.8 465.8 536.8 466.7 538.8C467.6 540.9 467.0 544.5 467.6 546.3C468.1 548.1 468.8 549.4 470.0 549.8C471.3 550.2 473.2 549.6 474.9 548.7C476.7 547.8 479.3 545.5 480.3 544.2C481.3 542.8 479.9 541.4 481.1 540.7C482.3 540.0 484.8 539.8 487.2 540.2C489.7 540.5 494.4 542.4 495.9 542.8"/>
<path d="M447.5 538.3C448.1 539.1 451.3 541.2 451.6 542.8C451.8 544.5 448.6 546.6 449.1 548.2C449.6 549.7 451.8 551.1 454.4 552.2C457.0 553.3 460.4 554.5 464.7 554.8C469.0 555.2 474.8 554.7 480.3 554.3C485.7 553.9 492.9 553.1 497.5 552.7C502.2 552.3 506.4 552.3 508.2 552.2"/>
<path d="M435.2 545.2C435.7 546.4 436.7 550.3 438.4 552.2C440.1 554.1 442.1 555.5 445.4 556.7C448.8 557.9 452.7 558.6 458.5 559.1C464.3 559.6 471.9 559.9 480.3 559.6C488.7 559.4 504.2 558.1 509.0 557.8"/>
<path d="M432.3 565.8C433.8 565.2 436.2 563.0 441.3 562.6C446.4 562.1 456.6 563.2 463.0 563.1C469.5 563.0 474.5 561.9 480.3 561.8C486.0 561.6 493.0 561.8 497.5 562.3C502.0 562.8 505.7 564.3 507.4 564.7"/>
<path d="M438.0 570.8C439.3 570.4 441.2 568.8 445.4 568.2C449.6 567.5 457.2 567.4 463.0 567.1C468.9 566.8 474.8 566.5 480.3 566.6C485.7 566.7 492.0 567.1 495.9 567.6C499.8 568.2 502.4 569.6 503.7 570.0"/>
<path d="M466.3 574.0C467.2 573.4 468.6 570.9 471.7 570.0C474.7 569.1 480.5 568.5 484.8 568.7C489.1 568.9 495.7 570.0 497.5 571.1C499.4 572.2 498.0 573.8 495.9 575.1C493.7 576.4 488.5 578.5 484.8 579.1C481.0 579.7 476.4 579.4 473.3 578.6C470.2 577.7 467.5 574.8 466.3 574.0"/>
</g>
<path d="M456.0 537.5h0.01M482.4 537.5h0.01M442.1 544.2h0.01M451.1 544.2h0.01M460.2 544.2h0.01M469.2 544.2h0.01M478.2 544.2h0.01M487.3 544.2h0.01M496.3 544.2h0.01M437.9 550.6h0.01M448.3 550.6h0.01M458.8 550.6h0.01M469.2 550.6h0.01M479.6 550.6h0.01M490.1 550.6h0.01M500.5 550.6h0.01M436.3 557.5h0.01M447.3 557.5h0.01M458.2 557.5h0.01M469.2 557.5h0.01M480.2 557.5h0.01M491.1 557.5h0.01M502.1 557.5h0.01M437.9 564.2h0.01M448.3 564.2h0.01M458.8 564.2h0.01M469.2 564.2h0.01M479.6 564.2h0.01M490.1 564.2h0.01M500.5 564.2h0.01M442.1 570.6h0.01M451.1 570.6h0.01M460.2 570.6h0.01M469.2 570.6h0.01M478.2 570.6h0.01M487.3 570.6h0.01M496.3 570.6h0.01M456.0 577.0h0.01M469.2 577.0h0.01M482.4 577.0h0.01" stroke="#0c0c10" stroke-width="1.35" stroke-linecap="round" fill="none"/>
</g>
<defs>
<clipPath id="tc9"><ellipse cx="589.8" cy="557.5" rx="38.9" ry="23.8"/></clipPath>
<linearGradient id="tg9" x1="0" y1="0" x2="0" y2="1"><stop offset="0" stop-color="#1f4aaa"/><stop offset="0.36" stop-color="#2456b9"/><stop offset="0.47" stop-color="#2a74ce"/><stop offset="0.55" stop-color="#39a9e0"/><stop offset="0.62" stop-color="#56bfb8"/><stop offset="0.7" stop-color="#94cc72"/><stop offset="0.78" stop-color="#c4d84a"/><stop offset="0.9" stop-color="#d4dd38"/><stop offset="1" stop-color="#c2d242"/></linearGradient>
<radialGradient id="th9"><stop offset="0" stop-color="#f39a16"/><stop offset="0.4" stop-color="#f39a16" stop-opacity="0.9"/><stop offset="1" stop-color="#f39a16" stop-opacity="0"/></radialGradient>
<radialGradient id="ty9"><stop offset="0" stop-color="#f4e224"/><stop offset="0.5" stop-color="#f0e026" stop-opacity="0.85"/><stop offset="1" stop-color="#e8e02a" stop-opacity="0"/></radialGradient>
<radialGradient id="tb9"><stop offset="0" stop-color="#3cace6" stop-opacity="0.95"/><stop offset="1" stop-color="#3cace6" stop-opacity="0"/></radialGradient>
<radialGradient id="td9"><stop offset="0" stop-color="#1a2f80" stop-opacity="0.95"/><stop offset="1" stop-color="#1a2f80" stop-opacity="0"/></radialGradient>
</defs>
<g fill="#000">
<path d="M550.3 549.6C543.0 549.0 541.8 551.4 541.8 553.7C541.8 555.7 542.6 556.7 542.6 557.9C542.6 559.1 541.5 560.3 541.5 562.5C541.5 564.9 543.2 566.8 550.3 566.3Z"/>
<path d="M629.3 549.6C636.6 549.0 637.8 551.4 637.8 553.7C637.8 555.7 637.0 556.7 637.0 557.9C637.0 559.1 638.1 560.3 638.1 562.5C638.1 564.9 636.4 566.8 629.3 566.3Z"/>
<path d="M579.8 533.7L587.6 527.7Q589.8 525.9 592.0 527.7L599.8 533.7Z"/>
<ellipse cx="589.8" cy="557.9" rx="42.5" ry="26.8"/>
</g>
<g clip-path="url(#tc9)">
<rect x="547.3" y="533.7" width="85.0" height="47.6" fill="url(#tg9)"/>
<ellipse cx="556.3" cy="557.0" rx="17.9" ry="11.9" fill="url(#tb9)"/>
<ellipse cx="601.5" cy="542.7" rx="33.1" ry="14.3" fill="url(#td9)"/>
<ellipse cx="605.4" cy="573.2" rx="31.6" ry="12.4" fill="url(#ty9)"/>
<ellipse cx="607.7" cy="573.7" rx="17.4" ry="7.6" fill="url(#th9)"/>
<g fill="none" stroke="#2b3038" stroke-width="1.1" stroke-opacity="0.9">
<path d="M577.4 534.6C579.1 535.5 584.0 538.6 587.7 539.9C591.5 541.2 596.0 542.4 600.1 542.6C604.2 542.8 608.1 540.7 612.5 541.0C616.8 541.2 623.8 543.6 626.1 544.2"/>
<path d="M554.8 544.2C556.8 544.6 563.0 545.8 567.1 546.8C571.2 547.9 574.7 549.4 579.5 550.3C584.3 551.2 590.5 551.9 596.0 552.2C601.5 552.4 606.8 552.1 612.5 551.6C618.1 551.2 626.9 549.9 629.8 549.5"/>
<path d="M555.6 545.2C556.1 546.4 557.2 550.3 558.9 552.2C560.6 554.1 562.5 555.5 565.9 556.7C569.3 557.9 573.2 558.6 579.1 559.1C584.9 559.6 592.5 559.9 600.9 559.6C609.4 559.4 625.0 558.1 629.8 557.8"/>
<path d="M552.7 565.8C554.2 565.2 556.6 563.0 561.8 562.6C566.9 562.1 577.1 563.2 583.6 563.1C590.1 563.0 595.2 561.9 600.9 561.8C606.7 561.6 613.7 561.8 618.3 562.3C622.8 562.8 626.5 564.3 628.1 564.7"/>
<path d="M558.5 570.8C559.7 570.4 561.7 568.8 565.9 568.2C570.1 567.5 577.8 567.4 583.6 567.1C589.5 566.8 595.4 566.5 600.9 566.6C606.4 566.7 612.7 567.1 616.6 567.6C620.5 568.2 623.1 569.6 624.4 570.0"/>
<path d="M578.3 576.2C579.8 575.5 583.8 573.4 587.7 572.2C591.7 570.9 597.3 569.3 602.2 568.7C607.0 568.1 613.9 568.1 617.0 568.7C620.2 569.3 622.2 570.7 621.1 572.2C620.0 573.6 615.0 576.0 610.4 577.2C605.9 578.4 599.3 579.5 593.9 579.4C588.6 579.2 580.9 576.7 578.3 576.2"/>
</g>
<path d="M576.6 537.5h0.01M603.0 537.5h0.01M562.6 544.2h0.01M571.6 544.2h0.01M580.7 544.2h0.01M589.8 544.2h0.01M598.9 544.2h0.01M608.0 544.2h0.01M617.0 544.2h0.01M558.3 550.6h0.01M568.8 550.6h0.01M579.3 550.6h0.01M589.8 550.6h0.01M600.3 550.6h0.01M610.8 550.6h0.01M621.3 550.6h0.01M556.7 557.5h0.01M567.8 557.5h0.01M578.8 557.5h0.01M589.8 557.5h0.01M600.8 557.5h0.01M611.8 557.5h0.01M622.9 557.5h0.01M558.3 564.2h0.01M568.8 564.2h0.01M579.3 564.2h0.01M589.8 564.2h0.01M600.3 564.2h0.01M610.8 564.2h0.01M621.3 564.2h0.01M562.6 570.6h0.01M571.6 570.6h0.01M580.7 570.6h0.01M589.8 570.6h0.01M598.9 570.6h0.01M608.0 570.6h0.01M617.0 570.6h0.01M576.6 577.0h0.01M589.8 577.0h0.01M603.0 577.0h0.01" stroke="#0c0c10" stroke-width="1.35" stroke-linecap="round" fill="none"/>
</g>
<defs>
<clipPath id="tc10"><ellipse cx="961.7" cy="554.4" rx="41.9" ry="22.6"/></clipPath>
<linearGradient id="tg10" x1="0" y1="0" x2="0" y2="1"><stop offset="0" stop-color="#1d2f84"/><stop offset="0.2" stop-color="#20409e"/><stop offset="0.36" stop-color="#2452ba"/><stop offset="0.46" stop-color="#2c7ad2"/><stop offset="0.52" stop-color="#38a9e0"/><stop offset="0.58" stop-color="#52c1c6"/><stop offset="0.64" stop-color="#86ca8c"/><stop offset="0.69" stop-color="#c4d94e"/><stop offset="0.74" stop-color="#f1e02e"/><stop offset="0.8" stop-color="#f8ae20"/><stop offset="0.87" stop-color="#f27a20"/><stop offset="1" stop-color="#f38a22"/></linearGradient>
<radialGradient id="th10"><stop offset="0" stop-color="#e22818"/><stop offset="0.4" stop-color="#e22818" stop-opacity="0.9"/><stop offset="1" stop-color="#e22818" stop-opacity="0"/></radialGradient>
<radialGradient id="ty10"><stop offset="0" stop-color="#f4e224"/><stop offset="0.5" stop-color="#f0e026" stop-opacity="0.85"/><stop offset="1" stop-color="#e8e02a" stop-opacity="0"/></radialGradient>
<radialGradient id="tb10"><stop offset="0" stop-color="#3cace6" stop-opacity="0.95"/><stop offset="1" stop-color="#3cace6" stop-opacity="0"/></radialGradient>
<radialGradient id="td10"><stop offset="0" stop-color="#1b2a78" stop-opacity="0.95"/><stop offset="1" stop-color="#1b2a78" stop-opacity="0"/></radialGradient>
</defs>
<g fill="#000">
<path d="M919.2 546.5C911.9 545.9 910.7 548.3 910.7 550.6C910.7 552.6 911.5 553.6 911.5 554.8C911.5 556.0 910.4 557.2 910.4 559.4C910.4 561.8 912.1 563.7 919.2 563.2Z"/>
<path d="M1004.2 546.5C1011.5 545.9 1012.7 548.3 1012.7 550.6C1012.7 552.6 1011.9 553.6 1011.9 554.8C1011.9 556.0 1013.0 557.2 1013.0 559.4C1013.0 561.8 1011.3 563.7 1004.2 563.2Z"/>
<path d="M951.7 531.8L959.5 525.8Q961.7 524.0 963.9 525.8L971.7 531.8Z"/>
<ellipse cx="961.7" cy="554.8" rx="45.5" ry="25.6"/>
</g>
<g clip-path="url(#tc10)">
<rect x="916.2" y="531.8" width="91.0" height="45.2" fill="url(#tg10)"/>
<ellipse cx="925.7" cy="553.9" rx="19.3" ry="11.3" fill="url(#tb10)"/>
<ellipse cx="999.4" cy="551.7" rx="15.1" ry="8.1" fill="url(#tb10)"/>
<ellipse cx="963.0" cy="538.6" rx="26.0" ry="11.3" fill="url(#td10)"/>
<ellipse cx="976.4" cy="571.1" rx="25.1" ry="8.6" fill="url(#th10)"/>
<g fill="none" stroke="#2b3038" stroke-width="1.1" stroke-opacity="0.9">
<path d="M935.9 535.2C937.8 536.0 943.9 538.5 947.0 540.2C950.2 541.9 952.5 544.1 955.0 545.3C957.6 546.5 959.6 547.4 962.1 547.6C964.7 547.7 967.8 547.4 970.1 546.3C972.5 545.2 973.9 542.3 976.4 541.0C978.8 539.7 982.4 539.2 984.8 538.7C987.2 538.2 990.0 538.3 991.0 538.2"/>
<path d="M923.5 542.8C925.4 543.6 930.8 546.7 935.1 548.1C939.3 549.5 944.3 550.4 948.8 551.1C953.3 551.8 957.7 552.4 962.1 552.4C966.6 552.4 971.0 551.7 975.5 551.1C980.0 550.5 984.7 549.7 989.2 548.8C993.8 548.0 1000.3 546.5 1002.6 546.0"/>
<path d="M918.6 557.4C920.6 557.1 925.6 555.9 930.6 555.7C935.6 555.4 943.6 555.8 948.8 555.9C954.1 556.0 957.7 556.5 962.1 556.4C966.6 556.4 971.0 556.0 975.5 555.7C980.0 555.3 984.4 554.6 989.2 554.1C994.1 553.7 1002.2 553.3 1004.8 553.1"/>
<path d="M921.7 563.5C923.9 563.0 930.5 561.2 935.1 560.7C939.6 560.2 944.3 560.5 948.8 560.5C953.3 560.4 958.4 560.7 962.1 560.5C965.8 560.2 967.3 559.3 971.0 559.0C974.8 558.7 979.5 558.7 984.8 558.7C990.1 558.7 1000.0 559.1 1003.0 559.2"/>
<path d="M927.9 568.6C929.1 568.1 931.6 566.5 935.1 565.8C938.5 565.1 944.3 564.6 948.8 564.3C953.3 564.0 958.4 564.3 962.1 564.0C965.8 563.7 967.3 562.8 971.0 562.5C974.8 562.2 980.3 562.1 984.8 562.5C989.3 562.9 995.9 564.6 998.1 565.0"/>
<path d="M965.7 576.4C964.5 576.0 961.1 574.9 958.6 574.1C956.1 573.3 950.6 572.4 950.6 571.6C950.6 570.8 955.5 570.2 958.6 569.3C961.7 568.5 965.7 567.1 969.3 566.5C972.8 566.0 976.3 566.0 979.9 566.0C983.5 566.1 988.6 566.5 991.0 567.1C993.4 567.6 993.6 568.7 994.1 569.1"/>
</g>
<path d="M947.5 535.4h0.01M975.9 535.4h0.01M932.4 541.7h0.01M942.1 541.7h0.01M951.9 541.7h0.01M961.7 541.7h0.01M971.5 541.7h0.01M981.3 541.7h0.01M991.0 541.7h0.01M927.8 547.8h0.01M939.1 547.8h0.01M950.4 547.8h0.01M961.7 547.8h0.01M973.0 547.8h0.01M984.3 547.8h0.01M995.6 547.8h0.01M926.1 554.4h0.01M938.0 554.4h0.01M949.8 554.4h0.01M961.7 554.4h0.01M973.6 554.4h0.01M985.4 554.4h0.01M997.3 554.4h0.01M927.8 560.7h0.01M939.1 560.7h0.01M950.4 560.7h0.01M961.7 560.7h0.01M973.0 560.7h0.01M984.3 560.7h0.01M995.6 560.7h0.01M932.4 566.8h0.01M942.1 566.8h0.01M951.9 566.8h0.01M961.7 566.8h0.01M971.5 566.8h0.01M981.3 566.8h0.01M991.0 566.8h0.01M947.5 572.9h0.01M961.7 572.9h0.01M975.9 572.9h0.01" stroke="#0c0c10" stroke-width="1.35" stroke-linecap="round" fill="none"/>
</g>
<defs>
<clipPath id="tc11"><ellipse cx="1080.9" cy="554.4" rx="42.3" ry="22.6"/></clipPath>
<linearGradient id="tg11" x1="0" y1="0" x2="0" y2="1"><stop offset="0" stop-color="#1d2f84"/><stop offset="0.2" stop-color="#20409e"/><stop offset="0.36" stop-color="#2452ba"/><stop offset="0.46" stop-color="#2c7ad2"/><stop offset="0.52" stop-color="#38a9e0"/><stop offset="0.58" stop-color="#52c1c6"/><stop offset="0.64" stop-color="#86ca8c"/><stop offset="0.69" stop-color="#c4d94e"/><stop offset="0.74" stop-color="#f1e02e"/><stop offset="0.8" stop-color="#f8ae20"/><stop offset="0.87" stop-color="#f27a20"/><stop offset="1" stop-color="#f38a22"/></linearGradient>
<radialGradient id="th11"><stop offset="0" stop-color="#e8401a"/><stop offset="0.4" stop-color="#e8401a" stop-opacity="0.9"/><stop offset="1" stop-color="#e8401a" stop-opacity="0"/></radialGradient>
<radialGradient id="ty11"><stop offset="0" stop-color="#f4e224"/><stop offset="0.5" stop-color="#f0e026" stop-opacity="0.85"/><stop offset="1" stop-color="#e8e02a" stop-opacity="0"/></radialGradient>
<radialGradient id="tb11"><stop offset="0" stop-color="#3cace6" stop-opacity="0.95"/><stop offset="1" stop-color="#3cace6" stop-opacity="0"/></radialGradient>
<radialGradient id="td11"><stop offset="0" stop-color="#1b2a78" stop-opacity="0.95"/><stop offset="1" stop-color="#1b2a78" stop-opacity="0"/></radialGradient>
</defs>
<g fill="#000">
<path d="M1038.0 546.5C1030.7 545.9 1029.5 548.3 1029.5 550.6C1029.5 552.6 1030.3 553.6 1030.3 554.8C1030.3 556.0 1029.2 557.2 1029.2 559.4C1029.2 561.8 1030.9 563.7 1038.0 563.2Z"/>
<path d="M1123.8 546.5C1131.1 545.9 1132.3 548.3 1132.3 550.6C1132.3 552.6 1131.5 553.6 1131.5 554.8C1131.5 556.0 1132.6 557.2 1132.6 559.4C1132.6 561.8 1130.9 563.7 1123.8 563.2Z"/>
<path d="M1070.9 531.8L1078.7 525.8Q1080.9 524.0 1083.1 525.8L1090.9 531.8Z"/>
<ellipse cx="1080.9" cy="554.8" rx="45.9" ry="25.6"/>
</g>
<g clip-path="url(#tc11)">
<rect x="1035.0" y="531.8" width="91.8" height="45.2" fill="url(#tg11)"/>
<ellipse cx="1044.5" cy="553.9" rx="19.5" ry="11.3" fill="url(#tb11)"/>
<ellipse cx="1119.0" cy="551.7" rx="15.2" ry="8.1" fill="url(#tb11)"/>
<ellipse cx="1082.2" cy="538.6" rx="26.2" ry="7.9" fill="url(#td11)"/>
<ellipse cx="1090.2" cy="571.6" rx="27.9" ry="7.7" fill="url(#th11)"/>
<g fill="none" stroke="#2b3038" stroke-width="1.1" stroke-opacity="0.9">
<path d="M1054.9 540.9C1056.8 541.5 1062.9 543.3 1066.1 544.5C1069.3 545.7 1071.6 547.2 1074.2 548.0C1076.7 548.9 1078.8 549.5 1081.3 549.6C1083.9 549.7 1087.0 549.5 1089.4 548.7C1091.8 548.0 1093.2 545.9 1095.7 545.0C1098.2 544.1 1101.7 543.7 1104.2 543.4C1106.7 543.1 1109.4 543.1 1110.5 543.1"/>
<path d="M1042.3 542.8C1044.3 543.6 1049.7 546.7 1054.0 548.1C1058.3 549.5 1063.3 550.4 1067.9 551.1C1072.5 551.8 1076.9 552.4 1081.3 552.4C1085.8 552.4 1090.2 551.7 1094.8 551.1C1099.4 550.5 1104.1 549.7 1108.7 548.8C1113.3 548.0 1119.9 546.5 1122.2 546.0"/>
<path d="M1037.4 557.4C1039.4 557.1 1044.4 555.9 1049.5 555.7C1054.6 555.4 1062.6 555.8 1067.9 555.9C1073.2 556.0 1076.9 556.5 1081.3 556.4C1085.8 556.4 1090.2 556.0 1094.8 555.7C1099.4 555.3 1103.8 554.6 1108.7 554.1C1113.6 553.7 1121.8 553.3 1124.4 553.1"/>
<path d="M1040.5 563.5C1042.8 563.0 1049.4 561.2 1054.0 560.7C1058.6 560.2 1063.3 560.5 1067.9 560.5C1072.5 560.4 1077.6 560.7 1081.3 560.5C1085.1 560.2 1086.5 559.3 1090.3 559.0C1094.1 558.7 1098.8 558.7 1104.2 558.7C1109.6 558.7 1119.5 559.1 1122.6 559.2"/>
<path d="M1046.8 568.6C1048.0 568.1 1050.5 566.5 1054.0 565.8C1057.5 565.1 1063.3 564.6 1067.9 564.3C1072.5 564.0 1077.6 564.3 1081.3 564.0C1085.1 563.7 1086.5 562.8 1090.3 562.5C1094.1 562.2 1099.7 562.1 1104.2 562.5C1108.8 562.9 1115.4 564.6 1117.7 565.0"/>
<path d="M1094.4 576.7C1092.1 576.3 1084.6 575.4 1080.9 574.6C1077.2 573.9 1072.3 573.0 1071.9 572.1C1071.6 571.3 1075.3 569.9 1078.7 569.6C1082.0 569.2 1089.1 570.4 1092.1 570.1C1095.1 569.8 1094.0 568.2 1096.6 567.6C1099.2 566.9 1104.4 566.1 1107.8 566.0C1111.2 566.0 1115.3 566.9 1116.8 567.1"/>
</g>
<path d="M1066.5 535.4h0.01M1095.3 535.4h0.01M1051.3 541.7h0.01M1061.2 541.7h0.01M1071.0 541.7h0.01M1080.9 541.7h0.01M1090.8 541.7h0.01M1100.6 541.7h0.01M1110.5 541.7h0.01M1046.6 547.8h0.01M1058.1 547.8h0.01M1069.5 547.8h0.01M1080.9 547.8h0.01M1092.3 547.8h0.01M1103.7 547.8h0.01M1115.2 547.8h0.01M1044.9 554.4h0.01M1056.9 554.4h0.01M1068.9 554.4h0.01M1080.9 554.4h0.01M1092.9 554.4h0.01M1104.9 554.4h0.01M1116.9 554.4h0.01M1046.6 560.7h0.01M1058.1 560.7h0.01M1069.5 560.7h0.01M1080.9 560.7h0.01M1092.3 560.7h0.01M1103.7 560.7h0.01M1115.2 560.7h0.01M1051.3 566.8h0.01M1061.2 566.8h0.01M1071.0 566.8h0.01M1080.9 566.8h0.01M1090.8 566.8h0.01M1100.6 566.8h0.01M1110.5 566.8h0.01M1066.5 572.9h0.01M1080.9 572.9h0.01M1095.3 572.9h0.01" stroke="#0c0c10" stroke-width="1.35" stroke-linecap="round" fill="none"/>
</g>
<text x="418.3" y="39.2" font-size="10.7" font-weight="normal" fill="#000" textLength="108.9" lengthAdjust="spacingAndGlyphs" stroke="#000" stroke-width="0.22">Observable</text>
<text x="540.3" y="39.2" font-size="10.7" font-weight="normal" fill="#000" textLength="148.9" lengthAdjust="spacingAndGlyphs" stroke="#000" stroke-width="0.22">Non-observable</text>
<text x="885.6" y="37.6" font-size="10.7" font-weight="normal" fill="#000" textLength="109.6" lengthAdjust="spacingAndGlyphs" stroke="#000" stroke-width="0.22">Observable</text>
<text x="1005.4" y="38.6" font-size="10.7" font-weight="normal" fill="#000" textLength="150.8" lengthAdjust="spacingAndGlyphs" stroke="#000" stroke-width="0.22">Non-observable</text>
<text x="418.6" y="293.6" font-size="10.7" font-weight="normal" fill="#000" textLength="109.8" lengthAdjust="spacingAndGlyphs" stroke="#000" stroke-width="0.22">Observable</text>
<text x="539.1" y="293.6" font-size="10.7" font-weight="normal" fill="#000" textLength="149.5" lengthAdjust="spacingAndGlyphs" stroke="#000" stroke-width="0.22">Non-observable</text>
<text x="901.9" y="293.6" font-size="10.7" font-weight="normal" fill="#000" textLength="109.6" lengthAdjust="spacingAndGlyphs" stroke="#000" stroke-width="0.22">Observable</text>
<text x="1019.1" y="293.6" font-size="10.7" font-weight="normal" fill="#000" textLength="149.5" lengthAdjust="spacingAndGlyphs" stroke="#000" stroke-width="0.22">Non-observable</text>
<text x="418.8" y="523.2" font-size="10.7" font-weight="normal" fill="#000" textLength="109.6" lengthAdjust="spacingAndGlyphs" stroke="#000" stroke-width="0.22">Observable</text>
<text x="539.1" y="523.2" font-size="10.7" font-weight="normal" fill="#000" textLength="149.5" lengthAdjust="spacingAndGlyphs" stroke="#000" stroke-width="0.22">Non-observable</text>
<text x="903.6" y="523.2" font-size="10.7" font-weight="normal" fill="#000" textLength="105.5" lengthAdjust="spacingAndGlyphs" stroke="#000" stroke-width="0.22">Observable</text>
<text x="1014.3" y="523.2" font-size="10.7" font-weight="normal" fill="#000" textLength="144.7" lengthAdjust="spacingAndGlyphs" stroke="#000" stroke-width="0.22">Non-observable</text>
<g stroke="#262626" stroke-width="4" fill="none">
<path d="M251.0 72.3V291.5"/>
<path d="M162.4 181.9H599.9" stroke-width="3.6"/>
<path d="M244.8 74.1h12.4M244.8 110.0h12.4M244.8 146.0h12.4M244.8 217.9h12.4M244.8 253.8h12.4M244.8 289.7h12.4" stroke-width="3.6"/>
<path d="M338.0 177.6v8.9M424.5 177.6v8.9M511.1 177.6v8.9M164.0 177.6v8.7M598.3 177.6v8.7" stroke-width="3.4"/>
</g>
<text x="229.8" y="77.6" font-size="7.7" font-weight="normal" fill="#4d4d4d" textLength="10.6" lengthAdjust="spacingAndGlyphs">-6</text>
<text x="229.8" y="113.5" font-size="7.7" font-weight="normal" fill="#4d4d4d" textLength="10.6" lengthAdjust="spacingAndGlyphs">-4</text>
<text x="229.8" y="149.5" font-size="7.7" font-weight="normal" fill="#4d4d4d" textLength="10.6" lengthAdjust="spacingAndGlyphs">-2</text>
<text x="234.8" y="221.4" font-size="7.7" font-weight="normal" fill="#4d4d4d" textLength="5.6" lengthAdjust="spacingAndGlyphs">2</text>
<text x="234.8" y="257.3" font-size="7.7" font-weight="normal" fill="#4d4d4d" textLength="5.6" lengthAdjust="spacingAndGlyphs">4</text>
<text x="234.8" y="293.2" font-size="7.7" font-weight="normal" fill="#4d4d4d" textLength="5.6" lengthAdjust="spacingAndGlyphs">6</text>
<text x="262.7" y="76.7" font-size="7.4" font-weight="normal" fill="#333" textLength="21.5" lengthAdjust="spacingAndGlyphs">FCz</text>
<text transform="translate(213.3,142.0) rotate(-90)" font-size="14.0" font-weight="normal" fill="#5a5a5a" textLength="55.3" lengthAdjust="spacingAndGlyphs">Amplitude (uV)</text>
<text x="151.5" y="193.0" font-size="8.5" font-weight="normal" fill="#4d4d4d" textLength="26.2" lengthAdjust="spacingAndGlyphs">-200</text>
<text x="327.2" y="193.0" font-size="8.5" font-weight="normal" fill="#4d4d4d" textLength="20.6" lengthAdjust="spacingAndGlyphs">200</text>
<text x="414.0" y="193.0" font-size="8.5" font-weight="normal" fill="#4d4d4d" textLength="21.5" lengthAdjust="spacingAndGlyphs">400</text>
<text x="500.2" y="193.0" font-size="8.5" font-weight="normal" fill="#4d4d4d" textLength="22.5" lengthAdjust="spacingAndGlyphs">600</text>
<text x="582.6" y="193.0" font-size="8.5" font-weight="normal" fill="#4d4d4d" textLength="22.5" lengthAdjust="spacingAndGlyphs">800</text>
<text x="520.8" y="207.1" font-size="8.7" font-weight="normal" fill="#4d4d4d" textLength="80.6" lengthAdjust="spacingAndGlyphs">Latency (ms)</text>
<path d="M164.6 181.6C165.9 181.2 169.9 179.3 172.2 179.3C174.6 179.3 177.0 181.2 179.0 181.6C180.9 182.1 181.8 182.8 183.8 182.2C185.7 181.6 188.4 178.1 190.5 177.8C192.5 177.5 194.1 179.6 196.2 180.3C198.3 181.0 200.2 181.9 202.9 182.2C205.6 182.5 209.6 182.0 212.5 182.2C215.4 182.4 217.5 183.6 220.2 183.6C222.9 183.6 226.4 182.2 228.8 182.2C231.2 182.2 232.5 182.8 234.5 183.6C236.6 184.3 238.9 186.7 241.2 186.6C243.6 186.6 246.4 184.4 248.9 183.2C251.5 182.0 254.3 180.6 256.6 179.3C258.8 178.1 260.3 176.6 262.3 175.5C264.4 174.4 267.0 172.6 269.0 172.6C271.1 172.6 273.0 174.1 274.8 175.5C276.5 176.9 278.0 179.7 279.6 180.9C281.2 182.1 282.8 183.0 284.4 182.8C286.0 182.5 287.4 181.5 289.2 179.3C290.9 177.2 293.2 173.6 294.9 169.8C296.7 165.9 298.3 161.4 299.7 156.3C301.1 151.2 302.3 144.2 303.5 139.1C304.8 134.0 306.4 128.4 307.4 125.7C308.3 123.0 308.7 123.0 309.3 122.8C309.9 122.6 310.4 122.3 311.2 124.7C312.0 127.1 313.0 131.3 314.1 137.2C315.2 143.1 316.6 152.2 317.9 160.2C319.2 168.2 320.5 177.4 321.8 185.1C323.0 192.7 324.1 200.1 325.6 206.2C327.0 212.2 328.9 218.1 330.4 221.5C331.9 224.9 333.3 226.5 334.6 226.9C335.9 227.2 336.8 225.6 338.0 223.4C339.3 221.2 340.4 216.5 341.9 213.8C343.3 211.1 344.9 208.8 346.7 207.1C348.4 205.5 350.5 205.0 352.4 203.9C354.3 202.7 356.8 201.5 358.2 200.0C359.6 198.6 359.7 197.3 360.8 195.0C361.9 192.8 363.6 188.9 364.8 186.4C366.0 183.9 367.0 182.2 368.0 180.0C369.1 177.7 370.2 175.0 371.2 172.8C372.2 170.5 373.1 168.6 374.0 166.3C375.0 164.1 375.9 161.4 376.9 159.1C377.8 156.9 378.8 154.5 379.7 152.7C380.5 150.9 381.3 149.6 382.1 148.3C382.9 147.0 383.7 145.9 384.5 145.1C385.2 144.3 385.9 143.9 386.5 143.7C387.1 143.6 387.5 143.6 388.1 144.1C388.7 144.5 389.4 145.1 390.1 146.3C390.7 147.5 391.4 149.2 392.1 151.1C392.8 153.0 393.4 155.3 394.1 157.5C394.8 159.8 395.4 162.3 396.1 164.7C396.8 167.1 397.4 169.5 398.1 172.0C398.8 174.4 399.5 176.9 400.1 179.2C400.7 181.4 401.2 183.4 401.7 185.6C402.2 187.7 402.9 190.4 403.3 192.0C403.7 193.6 403.2 191.4 404.1 195.0C405.0 198.7 407.0 208.8 408.5 213.8C410.1 218.9 411.7 222.3 413.3 225.3C414.9 228.4 416.6 230.6 418.1 232.0C419.7 233.5 421.1 234.0 422.5 234.0C424.0 234.0 425.2 233.5 426.8 232.0C428.3 230.6 429.9 228.0 431.5 225.3C433.1 222.6 434.6 219.6 436.3 215.8C438.1 211.9 440.2 206.8 442.1 202.3C444.0 197.9 446.1 192.4 447.8 188.9C449.6 185.4 451.2 183.0 452.6 181.2C454.1 179.5 455.0 178.9 456.5 178.4C457.9 177.8 459.7 178.1 461.2 177.8C462.8 177.5 464.4 177.5 466.0 176.5C467.6 175.4 469.4 172.9 470.8 171.7C472.3 170.4 473.5 169.4 474.7 168.8C475.8 168.2 476.6 168.1 477.5 168.2C478.5 168.4 479.3 169.0 480.4 169.8C481.5 170.5 483.0 172.1 484.2 172.6C485.5 173.2 486.8 173.2 488.1 173.2C489.4 173.2 490.6 172.6 491.9 172.6C493.2 172.6 494.5 172.6 495.8 173.2C497.0 173.8 498.3 175.3 499.6 176.5C500.9 177.6 502.1 179.3 503.4 180.3C504.7 181.3 505.7 181.9 507.2 182.2C508.8 182.5 510.8 182.4 513.0 182.2C515.2 182.0 518.1 181.6 520.7 181.2C523.2 180.9 525.8 180.2 528.3 180.3C530.9 180.4 533.8 181.6 536.0 181.6C538.2 181.6 539.8 181.0 541.8 180.3C543.7 179.6 545.6 178.7 547.5 177.4C549.4 176.1 551.5 173.9 553.2 172.6C555.0 171.3 556.3 170.4 558.0 169.8C559.8 169.1 562.0 169.0 563.8 168.8C565.5 168.6 566.8 168.3 568.6 168.8C570.3 169.3 572.6 170.9 574.3 171.7C576.1 172.5 577.5 173.3 579.1 173.6C580.7 173.8 582.3 173.0 583.9 173.2C585.5 173.4 587.1 173.8 588.7 174.5C590.3 175.2 591.9 176.6 593.5 177.4C595.1 178.3 597.5 179.3 598.3 179.7" fill="none" stroke="#e4140e" stroke-width="3.3" stroke-linecap="round" stroke-linejoin="round"/>
<path d="M164.6 174.5C165.2 174.3 167.1 173.0 168.4 173.2C169.7 173.4 171.0 174.1 172.2 175.5C173.5 176.9 174.6 180.1 176.1 181.6C177.5 183.2 179.1 184.1 180.9 184.7C182.6 185.3 184.7 184.9 186.6 185.1C188.5 185.3 190.6 186.4 192.4 186.0C194.1 185.7 195.4 184.2 197.2 183.2C198.9 182.1 201.0 180.0 202.9 179.7C204.8 179.4 206.8 180.7 208.7 181.2C210.6 181.8 212.3 182.0 214.4 182.8C216.5 183.6 219.0 186.0 221.1 186.0C223.2 186.0 225.1 183.7 226.9 182.8C228.6 181.8 230.2 180.4 231.7 180.3C233.1 180.2 234.1 181.5 235.5 182.2C236.9 182.9 238.7 184.5 240.3 184.7C241.9 184.9 243.3 184.0 245.1 183.6C246.8 183.1 248.6 182.8 250.8 182.2C253.1 181.7 255.9 180.9 258.5 180.3C261.1 179.7 263.9 179.1 266.2 178.4C268.4 177.6 270.2 176.2 271.9 175.9C273.7 175.6 275.1 175.9 276.7 176.5C278.3 177.0 280.1 179.5 281.5 179.3C282.9 179.2 284.1 177.1 285.3 175.5C286.6 173.9 287.9 170.9 289.2 169.8C290.4 168.6 291.7 169.0 293.0 168.8C294.3 168.6 295.6 169.9 296.8 168.8C298.1 167.7 299.4 165.8 300.7 162.1C301.9 158.4 303.4 151.1 304.5 146.8C305.6 142.4 306.4 138.5 307.4 136.2C308.3 133.9 309.3 132.9 310.2 132.9C311.2 132.9 312.0 133.0 313.1 136.2C314.2 139.5 315.7 146.6 317.0 152.5C318.2 158.4 319.5 165.3 320.8 171.7C322.1 178.1 323.3 185.2 324.6 190.8C325.9 196.4 327.2 201.5 328.5 205.2C329.7 208.9 331.2 211.4 332.3 212.9C333.4 214.4 334.2 214.4 335.2 214.2C336.1 214.1 336.9 213.9 338.0 211.9C339.2 209.9 340.6 205.4 341.9 202.3C343.2 199.3 344.3 195.8 345.7 193.7C347.1 191.6 348.7 190.9 350.5 189.9C352.3 188.8 354.3 188.7 356.2 187.4C358.2 186.1 360.7 183.3 362.0 182.0C363.4 180.6 363.7 180.3 364.4 179.2C365.2 178.0 365.5 177.2 366.4 175.2C367.4 173.2 369.0 169.8 370.0 167.1C371.1 164.5 371.9 161.8 372.8 159.1C373.8 156.5 374.8 153.8 375.7 151.1C376.5 148.4 377.2 145.8 378.1 143.1C378.9 140.4 379.9 137.5 380.9 135.1C381.8 132.7 382.9 130.1 383.7 128.7C384.4 127.2 384.9 127.0 385.4 126.5C386.0 126.0 386.4 125.9 386.9 125.9C387.4 125.9 387.8 126.0 388.3 126.5C388.9 127.0 389.3 127.2 390.1 128.7C390.9 130.1 392.3 132.7 393.3 135.1C394.3 137.5 395.2 140.4 396.1 143.1C397.0 145.8 397.6 148.4 398.5 151.1C399.4 153.8 400.4 156.5 401.3 159.1C402.2 161.8 402.8 164.5 403.7 167.1C404.6 169.8 405.6 172.7 406.5 175.2C407.4 177.6 408.0 179.6 408.9 182.0C409.8 184.4 410.9 187.4 411.7 189.6C412.5 191.8 412.7 192.9 413.7 195.0C414.8 197.2 416.8 201.2 418.1 202.7C419.5 204.2 420.7 203.9 422.0 203.9C423.2 203.8 424.4 203.5 425.8 202.3C427.2 201.1 428.8 198.8 430.6 196.6C432.3 194.3 434.4 191.3 436.3 188.9C438.2 186.5 440.3 184.1 442.1 182.2C443.8 180.3 445.4 178.6 446.9 177.4C448.3 176.2 449.4 175.6 450.7 175.1C452.0 174.6 453.3 174.9 454.5 174.5C455.8 174.2 457.1 174.2 458.4 173.2C459.7 172.2 460.9 170.3 462.2 168.8C463.5 167.3 464.8 165.2 466.0 164.0C467.3 162.8 468.6 162.1 469.9 161.7C471.2 161.3 472.4 161.6 473.7 161.7C475.0 161.8 476.3 162.6 477.5 162.5C478.8 162.4 480.1 161.7 481.4 161.1C482.7 160.6 484.1 159.6 485.2 159.2C486.3 158.8 487.1 158.6 488.1 158.8C489.0 159.0 489.8 159.5 491.0 160.6C492.1 161.6 493.5 163.7 494.8 165.0C496.1 166.2 497.2 167.3 498.6 167.8C500.1 168.4 501.7 168.1 503.4 168.2C505.2 168.4 507.2 168.6 509.2 168.8C511.1 169.0 513.0 169.5 514.9 169.4C516.8 169.3 518.8 168.2 520.7 168.2C522.6 168.3 524.5 169.3 526.4 169.8C528.3 170.2 529.9 170.7 532.2 170.7C534.4 170.7 537.6 170.1 539.8 169.8C542.1 169.4 543.7 169.4 545.6 168.8C547.5 168.2 549.6 167.0 551.3 166.3C553.1 165.6 554.7 164.7 556.1 164.4C557.6 164.1 558.5 164.1 560.0 164.4C561.4 164.7 563.0 165.6 564.8 166.3C566.5 167.0 568.6 168.0 570.5 168.8C572.4 169.6 574.3 170.3 576.2 171.3C578.2 172.2 580.1 173.5 582.0 174.5C583.9 175.6 585.8 176.8 587.8 177.8C589.7 178.8 591.7 179.8 593.5 180.3C595.3 180.8 597.5 180.8 598.3 180.9" fill="none" stroke="#000" stroke-width="3.3" stroke-linecap="round" stroke-linejoin="round"/>
<rect x="361.0" y="104.5" width="50.3" height="77.4" fill="#848484" fill-opacity="0.49"/>
<g stroke="#262626" stroke-width="4" fill="none">
<path d="M752.8 73.1V289.3"/>
<path d="M665.3 181.3H1098.0" stroke-width="3.6"/>
<path d="M746.6 74.9h12.4M746.6 110.3h12.4M746.6 145.8h12.4M746.6 216.7h12.4M746.6 252.1h12.4M746.6 287.5h12.4" stroke-width="3.6"/>
<path d="M838.6 177.0v8.9M924.5 177.0v8.9M1010.1 177.0v8.9M666.9 177.0v8.7M1096.4 177.0v8.7" stroke-width="3.4"/>
</g>
<text x="732.1" y="78.4" font-size="7.7" font-weight="normal" fill="#4d4d4d" textLength="10.6" lengthAdjust="spacingAndGlyphs">-6</text>
<text x="732.1" y="113.8" font-size="7.7" font-weight="normal" fill="#4d4d4d" textLength="10.6" lengthAdjust="spacingAndGlyphs">-4</text>
<text x="732.1" y="149.3" font-size="7.7" font-weight="normal" fill="#4d4d4d" textLength="10.6" lengthAdjust="spacingAndGlyphs">-2</text>
<text x="737.1" y="220.2" font-size="7.7" font-weight="normal" fill="#4d4d4d" textLength="5.6" lengthAdjust="spacingAndGlyphs">2</text>
<text x="737.1" y="255.6" font-size="7.7" font-weight="normal" fill="#4d4d4d" textLength="5.6" lengthAdjust="spacingAndGlyphs">4</text>
<text x="737.1" y="291.0" font-size="7.7" font-weight="normal" fill="#4d4d4d" textLength="5.6" lengthAdjust="spacingAndGlyphs">6</text>
<text x="767.1" y="77.9" font-size="7.4" font-weight="normal" fill="#333" textLength="21.7" lengthAdjust="spacingAndGlyphs">FCz</text>
<text transform="translate(712.5,135.8) rotate(-90)" font-size="14.0" font-weight="normal" fill="#5a5a5a" textLength="54.3" lengthAdjust="spacingAndGlyphs">Amplitude (uV)</text>
<text x="827.2" y="192.8" font-size="8.5" font-weight="normal" fill="#4d4d4d" textLength="21.5" lengthAdjust="spacingAndGlyphs">200</text>
<text x="912.0" y="192.8" font-size="8.5" font-weight="normal" fill="#4d4d4d" textLength="22.6" lengthAdjust="spacingAndGlyphs">400</text>
<text x="999.7" y="192.8" font-size="8.5" font-weight="normal" fill="#4d4d4d" textLength="23.0" lengthAdjust="spacingAndGlyphs">600</text>
<text x="1085.5" y="192.8" font-size="8.5" font-weight="normal" fill="#4d4d4d" textLength="20.6" lengthAdjust="spacingAndGlyphs">800</text>
<text x="1017.0" y="204.3" font-size="8.7" font-weight="normal" fill="#4d4d4d" textLength="79.6" lengthAdjust="spacingAndGlyphs">Latency (ms)</text>
<path d="M667.5 188.9C668.4 188.4 671.5 186.0 673.2 186.0C675.0 186.0 676.2 187.9 678.0 188.9C679.8 190.0 681.8 192.2 683.8 192.4C685.7 192.5 687.6 191.2 689.5 189.9C691.4 188.5 693.5 185.8 695.2 184.1C697.0 182.4 698.4 180.7 700.0 179.7C701.6 178.8 703.1 178.6 704.8 178.4C706.6 178.2 709.0 178.5 710.6 178.4C712.2 178.3 713.0 177.4 714.4 177.8C715.9 178.2 717.8 180.2 719.2 180.9C720.6 181.5 721.6 182.4 723.0 181.6C724.5 180.9 726.4 177.8 727.8 176.5C729.3 175.1 730.2 174.0 731.7 173.6C733.1 173.2 734.9 173.9 736.5 174.0C738.1 174.0 739.5 174.1 741.2 174.0C743.0 173.8 745.1 173.4 747.0 173.2C748.9 173.0 751.0 172.9 752.8 172.6C754.5 172.4 755.8 171.8 757.5 171.7C759.3 171.5 761.7 172.1 763.3 171.7C764.9 171.2 765.8 169.6 767.1 168.8C768.4 168.0 769.7 166.7 771.0 166.9C772.2 167.0 773.4 168.6 774.8 169.8C776.2 170.9 778.0 173.7 779.6 173.6C781.2 173.4 782.9 170.0 784.4 168.8C785.8 167.6 786.9 166.8 788.2 166.3C789.5 165.8 790.8 166.6 792.0 165.9C793.3 165.2 794.6 164.3 795.9 162.1C797.2 159.8 798.4 156.3 799.7 152.5C801.0 148.7 802.3 142.9 803.5 139.1C804.8 135.3 806.3 131.6 807.4 129.9C808.4 128.1 809.1 128.4 809.9 128.5C810.7 128.6 811.3 128.1 812.2 130.5C813.0 132.9 814.1 138.0 815.0 142.9C816.0 147.9 817.0 154.4 817.9 160.2C818.9 165.9 819.8 171.7 820.8 177.4C821.8 183.2 822.5 188.9 823.7 194.7C824.8 200.4 826.2 206.8 827.5 211.9C828.8 217.0 830.1 222.1 831.3 225.3C832.6 228.6 834.0 230.7 835.2 231.5C836.3 232.3 836.9 231.5 838.0 230.1C839.2 228.8 840.4 225.7 841.9 223.4C843.3 221.2 845.1 218.9 846.7 216.7C848.3 214.5 849.9 212.6 851.5 210.0C853.1 207.4 854.8 203.9 856.2 201.4C857.7 198.9 858.9 197.3 860.2 195.0C861.6 192.8 863.0 190.5 864.2 188.0C865.4 185.5 866.4 182.8 867.4 180.0C868.4 177.2 869.4 174.1 870.3 171.2C871.1 168.2 871.9 165.3 872.7 162.3C873.5 159.4 874.3 156.5 875.1 153.5C875.9 150.6 876.7 147.5 877.5 144.7C878.3 141.9 879.1 138.9 879.9 136.7C880.6 134.5 881.2 132.8 881.9 131.5C882.5 130.1 883.3 129.2 883.9 128.7C884.4 128.1 884.6 128.0 885.1 128.1C885.5 128.2 886.1 128.3 886.7 129.1C887.3 129.8 888.0 131.1 888.7 132.7C889.4 134.3 890.0 136.4 890.7 138.7C891.4 141.0 892.0 143.7 892.7 146.3C893.4 148.9 894.0 151.5 894.7 154.3C895.4 157.1 896.1 160.3 896.7 163.1C897.3 165.9 897.8 168.5 898.3 171.2C898.8 173.8 899.4 176.8 899.9 179.2C900.4 181.6 900.7 183.4 901.1 185.6C901.5 187.7 902.0 190.4 902.3 192.0C902.6 193.6 902.0 191.2 902.9 195.0C903.8 198.8 906.2 209.7 907.6 214.8C909.0 219.8 910.0 222.6 911.4 225.3C912.9 228.0 914.8 230.0 916.2 231.1C917.6 232.2 918.8 232.4 920.0 232.0C921.3 231.7 922.4 231.2 923.9 229.2C925.3 227.1 927.1 223.1 928.7 219.6C930.3 216.1 931.9 211.8 933.5 208.1C935.1 204.4 936.7 201.2 938.2 197.5C939.8 193.9 941.4 189.9 943.0 186.0C944.6 182.2 946.2 177.7 947.8 174.5C949.4 171.3 951.0 169.0 952.6 166.9C954.2 164.8 955.8 163.5 957.4 162.1C959.0 160.6 960.6 159.4 962.2 158.2C963.8 157.1 965.6 155.9 967.0 155.4C968.4 154.8 969.6 154.7 970.8 155.0C972.1 155.3 973.4 155.9 974.7 157.3C975.9 158.6 977.2 161.1 978.5 163.0C979.8 165.0 980.9 166.9 982.3 168.8C983.8 170.7 985.5 172.8 987.1 174.5C988.7 176.3 990.3 177.7 991.9 179.3C993.5 180.9 995.1 182.7 996.7 184.1C998.3 185.6 999.9 186.7 1001.5 188.0C1003.1 189.2 1004.9 191.0 1006.3 191.8C1007.7 192.6 1008.8 193.1 1010.1 192.8C1011.4 192.4 1012.7 191.6 1014.0 189.9C1015.2 188.1 1016.4 184.0 1017.8 182.2C1019.2 180.4 1021.0 179.6 1022.6 178.9C1024.2 178.3 1025.9 179.1 1027.4 178.4C1028.8 177.6 1029.8 176.3 1031.2 174.5C1032.6 172.8 1034.4 169.7 1036.0 167.8C1037.6 166.0 1039.4 164.4 1040.8 163.6C1042.2 162.8 1043.2 163.0 1044.6 163.0C1046.1 163.0 1047.8 163.7 1049.4 163.6C1051.0 163.5 1052.6 162.9 1054.2 162.5C1055.8 162.1 1057.4 161.0 1059.0 161.1C1060.6 161.2 1062.2 162.3 1063.8 163.0C1065.4 163.8 1066.8 164.8 1068.6 165.5C1070.3 166.3 1072.4 166.6 1074.3 167.4C1076.2 168.3 1078.2 169.5 1080.1 170.7C1082.0 171.9 1083.9 173.4 1085.8 174.5C1087.8 175.7 1089.8 176.7 1091.6 177.4C1093.3 178.2 1095.6 178.7 1096.4 178.9" fill="none" stroke="#e4140e" stroke-width="3.3" stroke-linecap="round" stroke-linejoin="round"/>
<path d="M667.5 180.3C668.4 180.1 671.5 179.7 673.2 179.3C675.0 179.0 676.4 178.1 678.0 178.4C679.6 178.7 681.2 180.3 682.8 181.2C684.4 182.2 686.0 184.3 687.6 184.1C689.2 184.0 691.1 181.2 692.4 180.3C693.7 179.4 694.1 178.6 695.2 178.9C696.4 179.3 697.8 181.1 699.1 182.2C700.4 183.3 701.6 184.8 702.9 185.5C704.2 186.1 705.2 186.3 706.8 186.0C708.3 185.8 710.3 184.7 712.5 184.1C714.7 183.6 717.9 183.2 720.2 182.8C722.4 182.4 724.0 182.3 725.9 181.6C727.8 181.0 729.8 179.5 731.7 178.9C733.6 178.4 735.5 178.4 737.4 178.4C739.3 178.4 741.2 179.0 743.2 178.9C745.1 178.9 747.0 177.7 748.9 177.8C750.8 177.9 752.4 179.2 754.7 179.3C756.9 179.4 759.8 178.4 762.3 178.4C764.9 178.3 767.4 178.9 770.0 178.9C772.6 178.9 775.1 178.6 777.7 178.4C780.2 178.2 783.3 178.4 785.3 177.8C787.4 177.2 788.5 175.9 790.1 174.5C791.7 173.2 793.3 172.0 794.9 169.8C796.5 167.5 798.3 165.0 799.7 161.1C801.1 157.3 802.3 151.2 803.5 146.8C804.8 142.3 806.3 136.8 807.4 134.3C808.5 131.7 809.3 131.4 810.2 131.4C811.2 131.4 812.2 131.4 813.1 134.3C814.1 137.2 815.0 143.4 816.0 148.7C817.0 153.9 817.9 160.2 818.9 165.9C819.8 171.7 820.6 176.8 821.8 183.2C822.9 189.6 824.3 198.2 825.6 204.2C826.9 210.3 828.1 215.3 829.4 219.6C830.7 223.9 832.1 228.1 833.2 230.1C834.4 232.1 835.2 231.9 836.1 231.5C837.1 231.0 837.9 229.9 839.0 227.2C840.1 224.6 841.6 218.9 842.8 215.8C844.1 212.6 845.4 209.8 846.7 208.1C847.9 206.3 849.1 206.0 850.5 205.2C851.9 204.4 853.7 204.6 855.3 203.3C856.9 202.0 858.9 198.9 860.1 197.5C861.2 196.2 861.2 196.2 862.2 195.0C863.3 193.8 865.0 192.1 866.2 190.4C867.4 188.7 868.5 186.8 869.4 184.8C870.4 182.8 871.1 180.6 871.9 178.4C872.6 176.1 873.2 173.7 873.9 171.2C874.5 168.6 875.2 165.8 875.9 163.1C876.5 160.5 877.2 157.5 877.9 155.1C878.5 152.7 879.2 150.4 879.9 148.7C880.5 147.0 881.2 145.7 881.9 144.7C882.5 143.7 883.3 142.9 883.9 142.5C884.4 142.0 884.6 142.1 885.1 142.1C885.5 142.2 886.1 142.3 886.7 142.9C887.3 143.6 888.0 144.5 888.7 145.9C889.4 147.3 890.3 149.0 891.1 151.1C891.9 153.2 892.7 155.8 893.5 158.3C894.3 160.9 895.2 163.8 895.9 166.3C896.6 168.9 897.2 171.2 897.9 173.6C898.6 176.0 899.3 178.5 899.9 180.8C900.5 183.0 901.0 185.2 901.5 187.2C902.0 189.2 902.7 191.5 903.1 192.8C903.5 194.1 903.2 192.2 903.9 195.0C904.7 197.9 906.2 206.1 907.6 210.0C909.0 213.9 910.8 216.6 912.4 218.6C914.0 220.6 915.7 221.2 917.2 221.9C918.6 222.5 919.7 222.7 921.0 222.5C922.3 222.2 923.6 221.8 924.8 220.5C926.1 219.3 927.4 217.0 928.7 214.8C929.9 212.6 931.4 209.0 932.5 207.1C933.6 205.2 934.3 204.4 935.4 203.3C936.5 202.2 937.9 201.9 939.2 200.4C940.5 199.0 941.8 197.2 943.0 194.7C944.3 192.1 945.6 188.1 946.9 185.1C948.2 182.0 949.4 179.0 950.7 176.5C952.0 173.9 953.1 171.7 954.5 169.8C956.0 167.8 957.6 166.2 959.3 165.0C961.1 163.7 963.2 163.1 965.1 162.5C967.0 161.8 969.1 161.2 970.8 161.1C972.6 161.1 974.2 161.7 975.6 162.1C977.1 162.5 978.2 163.6 979.5 163.6C980.7 163.7 982.2 162.7 983.3 162.5C984.4 162.2 985.0 161.5 986.2 162.1C987.3 162.7 988.6 164.3 990.0 165.9C991.4 167.5 993.2 170.1 994.8 171.7C996.4 173.3 998.1 174.2 999.6 175.5C1001.0 176.8 1002.1 177.9 1003.4 179.3C1004.7 180.8 1006.1 183.2 1007.2 184.1C1008.4 185.1 1009.0 185.2 1010.1 185.1C1011.2 184.9 1012.5 184.0 1014.0 183.2C1015.4 182.4 1017.0 181.2 1018.8 180.3C1020.5 179.4 1022.7 178.3 1024.5 177.8C1026.3 177.3 1027.7 176.9 1029.3 177.0C1030.9 177.1 1032.6 178.2 1034.1 178.4C1035.5 178.6 1036.5 179.0 1037.9 178.4C1039.4 177.7 1041.1 176.0 1042.7 174.5C1044.3 173.1 1046.1 170.7 1047.5 169.8C1048.9 168.8 1050.1 168.6 1051.3 168.8C1052.6 169.0 1053.9 169.8 1055.2 170.7C1056.4 171.6 1057.7 173.2 1059.0 174.0C1060.3 174.7 1061.6 175.2 1062.8 175.1C1064.1 175.1 1065.2 174.2 1066.7 173.6C1068.1 173.0 1069.9 171.8 1071.5 171.7C1073.1 171.5 1074.5 172.4 1076.2 172.6C1078.0 172.9 1080.1 172.9 1082.0 173.2C1083.9 173.5 1085.8 173.9 1087.8 174.5C1089.7 175.2 1092.1 176.4 1093.5 177.0C1094.9 177.7 1095.9 178.2 1096.4 178.4" fill="none" stroke="#000" stroke-width="3.3" stroke-linecap="round" stroke-linejoin="round"/>
<rect x="856.3" y="109.0" width="50.3" height="72.3" fill="#848484" fill-opacity="0.49"/>
<g stroke="#262626" stroke-width="4" fill="none">
<path d="M250.7 310.2V528.6"/>
<path d="M161.1 419.5H604.3" stroke-width="3.6"/>
<path d="M244.5 312.0h12.4M244.5 347.8h12.4M244.5 383.6h12.4M244.5 455.2h12.4M244.5 491.0h12.4M244.5 526.8h12.4" stroke-width="3.6"/>
<path d="M338.6 415.2v8.9M426.4 415.2v8.9M514.0 415.2v8.9M162.7 415.2v8.7M602.7 415.2v8.7" stroke-width="3.4"/>
</g>
<text x="229.4" y="315.5" font-size="7.7" font-weight="normal" fill="#4d4d4d" textLength="10.6" lengthAdjust="spacingAndGlyphs">-6</text>
<text x="229.4" y="351.3" font-size="7.7" font-weight="normal" fill="#4d4d4d" textLength="10.6" lengthAdjust="spacingAndGlyphs">-4</text>
<text x="229.4" y="387.1" font-size="7.7" font-weight="normal" fill="#4d4d4d" textLength="10.6" lengthAdjust="spacingAndGlyphs">-2</text>
<text x="234.4" y="458.7" font-size="7.7" font-weight="normal" fill="#4d4d4d" textLength="5.6" lengthAdjust="spacingAndGlyphs">2</text>
<text x="234.4" y="494.5" font-size="7.7" font-weight="normal" fill="#4d4d4d" textLength="5.6" lengthAdjust="spacingAndGlyphs">4</text>
<text x="234.4" y="525.7" font-size="7.7" font-weight="normal" fill="#4d4d4d" textLength="5.6" lengthAdjust="spacingAndGlyphs">6</text>
<text x="261.7" y="314.2" font-size="7.4" font-weight="normal" fill="#333" textLength="22.1" lengthAdjust="spacingAndGlyphs">FCz</text>
<text transform="translate(213.8,378.2) rotate(-90)" font-size="14.0" font-weight="normal" fill="#5a5a5a" textLength="54.9" lengthAdjust="spacingAndGlyphs">Amplitude (uV)</text>
<text x="151.7" y="432.1" font-size="8.5" font-weight="normal" fill="#4d4d4d" textLength="28.4" lengthAdjust="spacingAndGlyphs">-200</text>
<text x="327.2" y="432.1" font-size="8.5" font-weight="normal" fill="#4d4d4d" textLength="21.5" lengthAdjust="spacingAndGlyphs">200</text>
<text x="413.0" y="432.1" font-size="8.5" font-weight="normal" fill="#4d4d4d" textLength="22.5" lengthAdjust="spacingAndGlyphs">400</text>
<text x="501.7" y="432.1" font-size="8.5" font-weight="normal" fill="#4d4d4d" textLength="23.0" lengthAdjust="spacingAndGlyphs">600</text>
<text x="584.6" y="432.1" font-size="8.5" font-weight="normal" fill="#4d4d4d" textLength="22.5" lengthAdjust="spacingAndGlyphs">800</text>
<text x="522.8" y="441.4" font-size="8.7" font-weight="normal" fill="#4d4d4d" textLength="82.4" lengthAdjust="spacingAndGlyphs">Latency (ms)</text>
<path d="M162.7 421.6C163.5 422.0 165.9 423.9 167.5 424.1C169.1 424.4 170.7 423.9 172.2 423.2C173.8 422.4 175.3 420.5 177.0 419.7C178.8 418.9 180.7 418.7 182.8 418.4C184.9 418.1 187.6 417.7 189.5 417.8C191.4 417.9 192.7 418.4 194.3 418.9C195.9 419.5 197.3 420.8 199.1 420.9C200.8 420.9 202.9 419.8 204.8 419.3C206.8 418.8 209.0 417.5 210.6 417.8C212.2 418.1 213.0 420.1 214.4 421.2C215.9 422.4 217.6 424.5 219.2 424.7C220.8 424.9 222.4 423.4 224.0 422.2C225.6 421.0 227.2 418.7 228.8 417.4C230.4 416.1 232.0 414.9 233.6 414.5C235.2 414.2 236.8 414.9 238.4 415.5C240.0 416.1 241.7 418.1 243.2 418.4C244.6 418.7 245.7 418.2 247.0 417.4C248.3 416.6 249.6 414.4 250.8 413.6C252.1 412.7 253.2 412.2 254.7 412.2C256.1 412.3 257.9 413.8 259.5 414.0C261.1 414.1 262.7 413.6 264.2 413.2C265.8 412.8 267.4 411.4 269.0 411.3C270.6 411.2 272.2 412.1 273.8 412.6C275.4 413.2 277.0 414.4 278.6 414.5C280.2 414.7 281.8 414.2 283.4 413.6C285.0 412.9 286.6 411.7 288.2 410.7C289.8 409.8 291.4 409.6 293.0 407.8C294.6 406.1 296.4 403.5 297.8 400.2C299.2 396.8 300.3 392.2 301.6 387.7C302.9 383.2 304.3 376.9 305.5 373.3C306.6 369.7 307.5 367.4 308.3 366.1C309.1 364.7 309.5 364.5 310.2 365.1C311.0 365.7 312.2 366.5 313.1 369.5C314.1 372.5 315.0 377.8 316.0 382.9C317.0 388.0 317.9 394.4 318.9 400.2C319.8 405.9 320.6 411.0 321.8 417.4C322.9 423.8 324.3 432.4 325.6 438.5C326.9 444.6 328.1 450.2 329.4 453.8C330.7 457.5 332.1 459.3 333.2 460.5C334.4 461.8 335.2 461.6 336.1 461.1C337.1 460.6 337.9 459.5 339.0 457.7C340.1 455.8 341.6 451.9 342.8 450.0C344.1 448.1 345.1 446.9 346.7 446.2C348.3 445.5 350.7 446.3 352.4 445.8C354.2 445.3 355.6 445.1 357.2 443.3C358.8 441.5 360.6 437.6 362.0 435.0C363.5 432.5 364.8 430.4 366.0 428.0C367.3 425.6 368.5 423.3 369.6 420.8C370.8 418.2 371.8 415.3 372.8 412.8C373.8 410.2 374.7 407.9 375.7 405.5C376.6 403.1 377.5 400.6 378.5 398.3C379.4 396.1 380.4 393.8 381.3 391.9C382.1 390.0 382.9 388.3 383.7 387.1C384.4 385.9 385.1 385.2 385.7 384.7C386.3 384.2 386.7 384.0 387.3 384.1C387.8 384.1 388.3 384.3 388.9 385.1C389.5 385.9 390.1 387.2 390.9 388.7C391.6 390.2 392.5 392.3 393.3 394.3C394.1 396.3 394.9 398.6 395.7 400.7C396.5 402.9 397.3 405.0 398.1 407.1C398.9 409.3 399.8 411.6 400.5 413.6C401.2 415.6 401.8 417.2 402.5 419.2C403.2 421.2 403.9 423.6 404.5 425.6C405.1 427.6 405.6 429.6 406.1 431.2C406.6 432.8 406.6 431.6 407.3 435.0C408.0 438.5 409.3 447.5 410.5 451.9C411.6 456.3 413.0 458.8 414.3 461.5C415.6 464.2 416.8 466.6 418.1 468.2C419.4 469.8 420.8 470.8 422.0 471.1C423.1 471.4 423.7 471.4 424.8 470.1C426.0 468.8 427.4 466.1 428.7 463.4C429.9 460.7 431.1 456.7 432.5 453.8C433.9 451.0 435.7 448.2 437.3 446.2C438.9 444.1 440.5 443.3 442.1 441.4C443.7 439.5 445.3 436.9 446.9 434.7C448.5 432.4 450.1 429.6 451.7 428.0C453.3 426.4 454.9 425.9 456.5 425.1C458.1 424.2 459.7 423.9 461.2 422.8C462.8 421.7 464.4 419.8 466.0 418.4C467.6 416.9 469.2 415.1 470.8 414.0C472.4 412.8 474.2 412.0 475.6 411.7C477.1 411.4 478.2 411.6 479.5 412.2C480.7 412.9 482.0 414.3 483.3 415.5C484.6 416.7 485.8 418.4 487.1 419.3C488.4 420.2 489.7 420.9 491.0 420.9C492.2 420.9 493.5 419.8 494.8 419.3C496.1 418.8 497.3 417.9 498.6 417.8C499.9 417.7 501.2 418.4 502.5 418.9C503.7 419.5 505.2 420.7 506.3 421.2C507.4 421.8 508.0 422.5 509.2 422.2C510.3 421.9 511.4 420.1 513.0 419.3C514.6 418.5 516.8 417.9 518.8 417.4C520.7 416.9 522.6 417.1 524.5 416.5C526.4 415.8 528.3 415.0 530.2 413.6C532.2 412.1 534.1 409.5 536.0 407.8C537.9 406.2 539.8 404.4 541.8 403.6C543.7 402.8 545.4 403.4 547.5 403.0C549.6 402.7 552.3 401.7 554.2 401.7C556.1 401.7 557.6 402.5 559.0 403.0C560.4 403.6 561.4 405.1 562.8 405.0C564.3 404.8 566.2 402.8 567.6 402.1C569.1 401.4 570.2 400.6 571.5 400.7C572.7 400.9 574.0 401.9 575.3 403.0C576.6 404.2 577.7 406.5 579.1 407.8C580.6 409.2 582.2 410.6 583.9 411.3C585.7 411.9 587.8 411.4 589.7 411.7C591.6 411.9 593.5 412.5 595.4 412.6C597.3 412.8 600.2 412.6 601.2 412.6" fill="none" stroke="#e4140e" stroke-width="3.3" stroke-linecap="round" stroke-linejoin="round"/>
<path d="M162.7 418.4C163.6 418.5 166.7 418.9 168.4 419.3C170.2 419.8 171.8 420.6 173.2 421.2C174.6 421.9 175.3 423.1 177.0 423.2C178.8 423.2 181.5 421.9 183.8 421.6C186.0 421.4 188.5 422.0 190.5 421.6C192.4 421.2 193.7 420.1 195.2 419.3C196.8 418.6 198.3 417.5 200.0 417.0C201.8 416.6 204.0 416.8 205.8 416.5C207.5 416.1 209.1 415.0 210.6 415.1C212.0 415.2 213.1 416.0 214.4 417.0C215.7 418.1 217.0 420.4 218.2 421.2C219.5 422.1 220.8 422.5 222.1 422.2C223.4 421.9 224.6 420.1 225.9 419.3C227.2 418.5 228.3 417.6 229.8 417.4C231.2 417.3 232.8 418.2 234.5 418.4C236.3 418.5 238.5 418.2 240.3 418.4C242.0 418.5 243.6 418.8 245.1 419.3C246.5 419.9 247.6 421.2 248.9 421.6C250.2 422.1 251.3 422.4 252.8 422.2C254.2 422.0 255.8 421.0 257.5 420.3C259.3 419.6 261.4 418.4 263.3 417.8C265.2 417.2 267.3 416.6 269.0 416.5C270.8 416.3 272.2 416.6 273.8 417.0C275.4 417.4 277.0 418.8 278.6 418.9C280.2 419.1 281.8 418.7 283.4 417.8C285.0 416.9 286.6 415.1 288.2 413.6C289.8 412.1 291.4 411.2 293.0 408.8C294.6 406.4 296.4 403.0 297.8 399.2C299.2 395.4 300.3 390.3 301.6 385.8C302.9 381.3 304.3 375.5 305.5 372.4C306.6 369.3 307.5 368.2 308.3 367.2C309.2 366.2 309.8 365.9 310.6 366.6C311.4 367.3 312.2 368.4 313.1 371.4C314.0 374.5 315.0 380.0 316.0 384.8C317.0 389.6 317.9 395.1 318.9 400.2C319.8 405.3 320.8 410.1 321.8 415.5C322.7 420.9 323.5 427.0 324.6 432.8C325.7 438.5 327.2 445.7 328.5 450.0C329.7 454.3 331.2 457.0 332.3 458.6C333.4 460.3 334.2 460.3 335.2 460.0C336.1 459.6 337.1 458.7 338.0 456.7C339.0 454.7 340.0 451.0 340.9 448.1C341.9 445.2 342.8 441.2 343.8 439.5C344.7 437.7 345.5 437.5 346.7 437.5C347.8 437.5 349.2 439.0 350.5 439.5C351.8 439.9 353.1 440.8 354.3 440.0C355.5 439.3 356.5 436.8 357.6 435.0C358.8 433.3 360.0 431.3 361.2 429.6C362.5 427.9 364.0 426.2 365.2 424.8C366.5 423.3 367.8 422.2 368.8 420.8C369.9 419.3 370.7 417.8 371.6 416.0C372.6 414.1 373.5 412.0 374.4 409.5C375.4 407.1 376.3 404.3 377.3 401.5C378.2 398.7 379.2 395.5 380.1 392.7C380.9 389.9 381.7 387.0 382.5 384.7C383.2 382.4 383.8 380.4 384.5 378.7C385.1 377.0 385.8 375.7 386.5 374.7C387.1 373.7 387.9 373.2 388.5 372.8C389.0 372.5 389.2 372.6 389.7 372.7C390.1 372.8 390.6 372.9 391.3 373.5C392.0 374.1 392.8 374.9 393.7 376.3C394.6 377.6 395.6 379.4 396.5 381.5C397.4 383.6 398.4 386.2 399.3 388.7C400.2 391.2 401.2 393.9 402.1 396.7C403.0 399.5 404.0 402.7 404.9 405.5C405.8 408.3 406.6 411.2 407.3 413.6C408.0 416.0 408.7 417.8 409.3 420.0C410.0 422.1 410.7 424.4 411.3 426.4C412.0 428.4 412.8 430.6 413.3 432.0C413.9 433.4 413.9 433.5 414.5 435.0C415.2 436.6 415.9 439.8 417.2 441.4C418.4 442.9 420.5 443.8 422.0 444.2C423.4 444.7 424.5 444.5 425.8 443.9C427.1 443.2 428.3 442.1 429.6 440.4C430.9 438.7 432.2 436.3 433.5 433.7C434.7 431.2 436.0 427.6 437.3 425.1C438.6 422.5 439.8 420.0 441.1 418.4C442.4 416.8 443.4 416.2 445.0 415.5C446.6 414.8 449.0 414.4 450.7 414.0C452.5 413.5 453.9 413.6 455.5 412.6C457.1 411.6 458.9 409.6 460.3 407.8C461.7 406.1 462.8 403.6 464.1 402.1C465.4 400.6 466.5 399.5 468.0 398.8C469.4 398.1 471.2 397.9 472.8 397.9C474.3 397.9 475.9 398.2 477.5 398.8C479.1 399.5 480.7 400.5 482.3 401.7C483.9 402.9 485.4 404.7 487.1 405.9C488.9 407.1 491.0 407.8 492.9 408.8C494.8 409.8 496.7 410.5 498.6 411.7C500.5 412.8 502.6 414.6 504.4 415.9C506.1 417.2 507.7 418.4 509.2 419.3C510.6 420.3 511.7 421.3 513.0 421.6C514.3 422.0 515.6 422.0 516.8 421.2C518.1 420.5 519.2 418.8 520.7 417.4C522.1 416.1 523.9 414.0 525.5 413.2C527.1 412.4 528.7 412.5 530.2 412.6C531.8 412.8 533.4 414.0 535.0 414.0C536.6 414.0 538.1 413.0 539.8 412.6C541.6 412.2 543.7 411.8 545.6 411.7C547.5 411.6 549.4 412.1 551.3 412.1C553.2 412.1 555.3 411.3 557.1 411.7C558.8 412.1 560.3 413.4 561.9 414.5C563.5 415.7 565.2 417.7 566.7 418.4C568.1 419.0 569.1 418.9 570.5 418.4C571.9 417.9 573.5 416.5 575.3 415.5C577.0 414.5 579.1 413.3 581.0 412.6C583.0 412.0 585.0 412.2 586.8 411.7C588.5 411.1 590.0 409.9 591.6 409.4C593.2 408.8 594.8 408.2 596.4 408.2C598.0 408.3 600.4 409.5 601.2 409.8" fill="none" stroke="#000" stroke-width="3.3" stroke-linecap="round" stroke-linejoin="round"/>
<rect x="361.0" y="346.0" width="50.0" height="73.5" fill="#848484" fill-opacity="0.49"/>
<g stroke="#262626" stroke-width="4" fill="none">
<path d="M752.8 310.9V527.0"/>
<path d="M665.3 419.2H1098.9" stroke-width="3.6"/>
<path d="M746.6 312.7h12.4M746.6 348.1h12.4M746.6 383.5h12.4M746.6 454.4h12.4M746.6 489.8h12.4M746.6 525.2h12.4" stroke-width="3.6"/>
<path d="M839.0 414.9v8.9M925.2 414.9v8.9M1011.0 414.9v8.9M666.9 414.9v8.7M1097.3 414.9v8.7" stroke-width="3.4"/>
</g>
<text x="732.1" y="316.2" font-size="7.7" font-weight="normal" fill="#4d4d4d" textLength="10.6" lengthAdjust="spacingAndGlyphs">-6</text>
<text x="732.1" y="351.6" font-size="7.7" font-weight="normal" fill="#4d4d4d" textLength="10.6" lengthAdjust="spacingAndGlyphs">-4</text>
<text x="732.1" y="387.0" font-size="7.7" font-weight="normal" fill="#4d4d4d" textLength="10.6" lengthAdjust="spacingAndGlyphs">-2</text>
<text x="737.1" y="457.9" font-size="7.7" font-weight="normal" fill="#4d4d4d" textLength="5.6" lengthAdjust="spacingAndGlyphs">2</text>
<text x="737.1" y="493.3" font-size="7.7" font-weight="normal" fill="#4d4d4d" textLength="5.6" lengthAdjust="spacingAndGlyphs">4</text>
<text x="737.1" y="528.7" font-size="7.7" font-weight="normal" fill="#4d4d4d" textLength="5.6" lengthAdjust="spacingAndGlyphs">6</text>
<text x="765.4" y="315.7" font-size="7.4" font-weight="normal" fill="#333" textLength="21.6" lengthAdjust="spacingAndGlyphs">FCz</text>
<text transform="translate(719.6,378.2) rotate(-90)" font-size="14.0" font-weight="normal" fill="#5a5a5a" textLength="54.4" lengthAdjust="spacingAndGlyphs">Amplitude (uV)</text>
<text x="827.2" y="428.9" font-size="8.5" font-weight="normal" fill="#4d4d4d" textLength="22.5" lengthAdjust="spacingAndGlyphs">200</text>
<text x="913.0" y="428.9" font-size="8.5" font-weight="normal" fill="#4d4d4d" textLength="22.1" lengthAdjust="spacingAndGlyphs">400</text>
<text x="996.4" y="428.9" font-size="8.5" font-weight="normal" fill="#4d4d4d" textLength="22.5" lengthAdjust="spacingAndGlyphs">600</text>
<text x="1079.7" y="428.9" font-size="8.5" font-weight="normal" fill="#4d4d4d" textLength="21.6" lengthAdjust="spacingAndGlyphs">800</text>
<text x="1018.9" y="440.4" font-size="8.7" font-weight="normal" fill="#4d4d4d" textLength="80.6" lengthAdjust="spacingAndGlyphs">Latency (ms)</text>
<path d="M666.9 418.9C667.8 418.9 670.4 417.8 672.2 418.4C674.1 418.9 676.1 421.1 678.0 422.2C679.9 423.3 681.7 424.8 683.8 425.1C685.8 425.4 688.2 424.6 690.5 424.1C692.7 423.6 694.9 423.2 697.2 422.2C699.4 421.2 701.8 419.3 703.9 418.4C706.0 417.4 707.7 416.9 709.6 416.5C711.5 416.0 713.5 415.6 715.4 415.9C717.3 416.2 719.2 417.5 721.1 418.4C723.0 419.2 725.1 420.7 726.9 420.9C728.6 421.0 730.1 420.0 731.7 419.3C733.3 418.7 734.9 417.5 736.5 417.0C738.1 416.6 739.7 416.9 741.2 416.5C742.8 416.0 744.6 415.7 746.0 414.5C747.5 413.4 748.6 410.9 749.9 409.8C751.2 408.6 752.4 407.6 753.7 407.4C755.0 407.3 756.3 408.1 757.5 408.8C758.8 409.5 760.1 410.9 761.4 411.7C762.7 412.4 763.8 413.2 765.2 413.2C766.6 413.2 768.4 412.2 770.0 411.7C771.6 411.2 773.2 410.5 774.8 410.1C776.4 409.8 778.0 410.1 779.6 409.8C781.2 409.4 782.8 408.6 784.4 408.2C786.0 407.8 787.7 408.0 789.2 407.4C790.6 406.9 791.7 406.8 793.0 405.0C794.3 403.1 795.6 400.0 796.8 396.3C798.1 392.7 799.4 387.4 800.7 382.9C801.9 378.4 803.4 373.0 804.5 369.5C805.6 366.0 806.5 363.4 807.4 361.8C808.3 360.2 809.1 359.8 809.9 359.9C810.7 360.1 811.3 360.6 812.2 362.8C813.0 365.0 814.1 368.7 815.0 373.3C816.0 378.0 817.0 384.8 817.9 390.6C818.9 396.3 819.8 402.1 820.8 407.8C821.8 413.6 822.5 419.0 823.7 425.1C824.8 431.2 826.2 437.9 827.5 444.2C828.8 450.6 830.1 458.1 831.3 463.4C832.6 468.7 834.2 473.5 835.2 475.9C836.1 478.3 836.3 478.0 837.1 477.8C837.9 477.6 839.0 477.0 840.0 474.9C840.9 472.8 841.7 468.2 842.8 465.3C844.0 462.5 845.4 459.3 846.7 457.7C847.9 456.1 849.2 456.5 850.5 455.8C851.8 455.0 852.9 454.8 854.3 452.9C855.8 451.0 857.6 447.2 859.1 444.2C860.6 441.3 861.9 437.9 863.2 435.0C864.6 432.2 866.0 429.8 867.2 427.2C868.4 424.5 869.5 421.8 870.4 419.2C871.4 416.5 872.0 414.0 872.8 411.2C873.7 408.3 874.5 405.1 875.3 402.3C876.1 399.5 876.9 396.9 877.7 394.3C878.5 391.8 879.3 389.1 880.1 387.1C880.9 385.1 881.7 383.6 882.5 382.3C883.2 381.0 883.9 379.9 884.5 379.2C885.1 378.6 885.5 378.5 886.1 378.4C886.6 378.4 887.1 378.5 887.7 379.1C888.3 379.7 889.0 380.7 889.7 381.9C890.4 383.1 891.0 384.6 891.7 386.3C892.4 388.0 893.0 389.8 893.7 391.9C894.4 394.1 895.0 396.7 895.7 399.1C896.4 401.5 897.1 404.1 897.7 406.3C898.3 408.6 898.8 410.5 899.3 412.8C899.8 415.0 900.4 417.7 900.9 420.0C901.4 422.2 902.0 424.2 902.5 426.4C903.0 428.5 903.7 431.4 904.1 432.8C904.5 434.2 904.2 433.0 904.8 435.0C905.3 437.1 906.5 442.2 907.6 445.2C908.7 448.2 910.1 450.5 911.4 452.9C912.7 455.3 914.0 457.8 915.2 459.6C916.5 461.4 918.1 463.0 919.1 463.8C920.0 464.6 920.2 464.8 921.0 464.4C921.8 464.0 922.8 463.1 923.9 461.5C925.0 459.9 926.3 457.0 927.7 454.8C929.1 452.6 930.9 450.3 932.5 448.1C934.1 445.8 935.7 443.9 937.3 441.4C938.9 438.8 940.5 435.5 942.1 432.8C943.7 430.0 945.3 427.5 946.9 425.1C948.5 422.7 950.1 420.6 951.7 418.4C953.3 416.1 954.9 413.4 956.5 411.7C958.1 410.0 959.7 409.0 961.2 408.2C962.8 407.4 964.4 407.4 966.0 406.9C967.6 406.3 969.4 405.8 970.8 405.0C972.3 404.1 973.4 402.5 974.7 401.7C975.9 400.9 977.4 400.1 978.5 400.2C979.6 400.2 980.3 401.0 981.4 402.1C982.5 403.2 983.9 405.8 985.2 406.9C986.5 408.0 987.8 408.6 989.0 408.8C990.3 409.0 991.8 407.8 992.9 407.8C994.0 407.8 994.6 407.8 995.8 408.8C996.9 409.8 998.3 412.0 999.6 413.6C1000.9 415.2 1002.0 416.9 1003.4 418.4C1004.9 419.8 1006.8 421.2 1008.2 422.2C1009.6 423.2 1010.8 423.6 1012.0 424.1C1013.3 424.7 1014.6 425.5 1015.9 425.5C1017.2 425.5 1018.3 425.0 1019.7 424.1C1021.1 423.3 1022.9 421.6 1024.5 420.3C1026.1 419.0 1027.7 418.2 1029.3 416.5C1030.9 414.7 1032.5 411.8 1034.1 409.8C1035.7 407.7 1037.3 405.5 1038.9 404.4C1040.5 403.3 1042.1 403.3 1043.7 403.0C1045.3 402.8 1046.9 403.2 1048.5 403.0C1050.1 402.9 1051.8 401.9 1053.2 402.1C1054.7 402.2 1055.6 403.1 1057.1 404.0C1058.5 404.9 1060.3 406.7 1061.9 407.4C1063.5 408.2 1065.1 408.2 1066.7 408.2C1068.3 408.2 1069.9 407.7 1071.5 407.4C1073.1 407.2 1074.7 406.6 1076.2 406.9C1077.8 407.2 1079.4 408.6 1081.0 409.4C1082.6 410.2 1084.4 411.3 1085.8 411.7C1087.3 412.0 1088.4 411.8 1089.7 411.3C1090.9 410.8 1092.4 409.5 1093.5 408.8C1094.6 408.1 1095.9 407.2 1096.4 406.9" fill="none" stroke="#e4140e" stroke-width="3.3" stroke-linecap="round" stroke-linejoin="round"/>
<path d="M666.9 424.1C667.6 423.8 669.8 422.8 671.3 422.2C672.8 421.7 674.3 421.0 676.1 420.9C677.8 420.7 679.9 420.9 681.8 421.2C683.8 421.6 685.7 422.4 687.6 423.2C689.5 424.0 691.3 425.6 693.3 426.0C695.4 426.5 698.0 425.9 700.0 426.0C702.1 426.1 704.2 427.1 705.8 426.6C707.4 426.1 708.3 424.5 709.6 423.2C710.9 421.8 712.2 419.4 713.5 418.4C714.7 417.4 716.0 416.9 717.3 417.0C718.6 417.1 719.7 418.8 721.1 418.9C722.6 419.1 724.3 418.5 725.9 417.8C727.5 417.1 729.1 415.3 730.7 414.5C732.3 413.8 733.9 414.0 735.5 413.2C737.1 412.4 738.7 410.6 740.3 409.8C741.9 408.9 743.5 408.0 745.1 407.8C746.7 407.7 748.3 408.2 749.9 408.8C751.5 409.4 753.1 410.5 754.7 411.3C756.3 412.1 757.9 413.0 759.5 413.6C761.1 414.1 762.7 414.7 764.2 414.5C765.8 414.4 767.4 413.5 769.0 412.6C770.6 411.8 772.2 410.4 773.8 409.4C775.4 408.3 777.0 407.4 778.6 406.3C780.2 405.2 782.0 403.7 783.4 403.0C784.9 402.4 786.0 402.1 787.2 402.5C788.5 402.8 789.8 404.4 791.1 405.0C792.4 405.5 793.6 406.6 794.9 405.9C796.2 405.3 797.5 403.4 798.8 401.1C800.0 398.9 801.3 395.5 802.6 392.5C803.9 389.5 805.2 385.8 806.4 382.9C807.6 380.0 808.9 376.8 809.9 375.2C810.8 373.7 811.3 373.2 812.2 373.3C813.0 373.5 814.1 374.0 815.0 376.2C816.0 378.4 817.0 382.4 817.9 386.8C818.9 391.1 819.8 397.0 820.8 402.1C821.8 407.2 822.7 412.6 823.7 417.4C824.6 422.2 825.4 426.4 826.5 430.8C827.7 435.3 829.1 440.4 830.4 444.2C831.7 448.1 833.1 451.8 834.2 453.8C835.3 455.9 836.1 456.5 837.1 456.7C838.0 456.9 838.8 456.2 840.0 454.8C841.1 453.4 842.5 449.7 843.8 448.1C845.1 446.5 846.2 445.7 847.6 445.2C849.1 444.7 850.8 445.5 852.4 445.2C854.0 444.9 855.6 444.2 857.2 443.3C858.8 442.3 860.4 440.8 862.0 439.5C863.6 438.1 865.4 437.4 866.8 435.0C868.2 432.7 869.3 428.5 870.4 425.6C871.6 422.7 872.6 420.1 873.7 417.6C874.7 415.0 875.5 412.6 876.5 410.4C877.4 408.1 878.4 405.9 879.3 403.9C880.1 401.9 880.9 400.0 881.7 398.3C882.5 396.7 883.3 395.1 884.1 393.9C884.8 392.8 885.4 392.1 886.1 391.5C886.7 390.9 887.5 390.6 888.1 390.5C888.7 390.4 889.1 390.5 889.7 391.0C890.3 391.4 891.0 392.2 891.7 393.1C892.4 394.1 893.0 395.3 893.7 396.7C894.4 398.1 895.0 399.8 895.7 401.5C896.4 403.3 897.0 405.3 897.7 407.1C898.4 409.0 899.0 410.8 899.7 412.8C900.4 414.8 901.0 417.0 901.7 419.2C902.4 421.3 903.0 423.4 903.7 425.6C904.4 427.7 905.2 430.4 905.7 432.0C906.2 433.6 906.4 433.3 906.9 435.0C907.4 436.8 907.6 440.0 908.5 442.3C909.5 444.7 911.1 447.3 912.4 449.0C913.7 450.8 914.8 452.0 916.2 452.9C917.6 453.7 919.4 454.1 921.0 454.2C922.6 454.4 924.2 454.4 925.8 453.8C927.4 453.3 929.0 452.2 930.6 451.0C932.2 449.7 933.8 447.6 935.4 446.2C937.0 444.7 938.6 443.8 940.2 442.3C941.8 440.9 943.4 439.5 945.0 437.5C946.6 435.6 948.2 433.1 949.8 430.8C951.3 428.6 952.9 426.2 954.5 424.1C956.1 422.0 957.7 420.0 959.3 418.4C960.9 416.8 962.5 415.7 964.1 414.5C965.7 413.4 967.3 412.4 968.9 411.7C970.5 411.0 972.0 410.6 973.7 410.3C975.5 410.0 977.5 410.0 979.5 409.8C981.4 409.5 983.5 409.0 985.2 408.8C987.0 408.6 988.4 408.5 990.0 408.8C991.6 409.1 993.2 410.0 994.8 410.7C996.4 411.4 998.0 412.7 999.6 413.2C1001.2 413.7 1002.8 413.7 1004.4 414.0C1006.0 414.2 1007.6 414.4 1009.2 414.5C1010.8 414.7 1012.5 415.2 1014.0 415.1C1015.4 415.0 1016.5 414.5 1017.8 414.0C1019.1 413.4 1020.5 412.1 1021.6 411.7C1022.7 411.2 1023.4 411.0 1024.5 411.3C1025.6 411.5 1027.2 412.8 1028.3 413.2C1029.5 413.6 1030.1 414.2 1031.2 414.0C1032.3 413.7 1033.6 412.5 1035.0 411.7C1036.5 410.8 1038.1 409.6 1039.8 408.8C1041.6 408.0 1043.7 407.5 1045.6 406.9C1047.5 406.2 1049.4 405.6 1051.3 405.0C1053.2 404.3 1055.2 403.5 1057.1 403.0C1059.0 402.6 1060.9 402.3 1062.8 402.1C1064.8 401.9 1066.8 402.0 1068.6 401.7C1070.3 401.4 1071.9 400.5 1073.4 400.2C1074.8 399.8 1075.9 399.4 1077.2 399.8C1078.5 400.2 1079.6 401.3 1081.0 402.5C1082.5 403.6 1084.2 406.0 1085.8 406.9C1087.4 407.8 1089.0 407.5 1090.6 407.8C1092.2 408.2 1094.6 408.6 1095.4 408.8" fill="none" stroke="#000" stroke-width="3.3" stroke-linecap="round" stroke-linejoin="round"/>
<rect x="860.5" y="348.0" width="50.2" height="71.2" fill="#848484" fill-opacity="0.49"/>
<g stroke="#262626" stroke-width="4" fill="none">
<path d="M250.7 553.2V777.0"/>
<path d="M161.1 664.6H603.7" stroke-width="3.6"/>
<path d="M244.5 555.0h12.4M244.5 591.7h12.4M244.5 628.4h12.4M244.5 701.8h12.4M244.5 738.5h12.4M244.5 775.2h12.4" stroke-width="3.6"/>
<path d="M338.6 660.3v8.9M426.4 660.3v8.9M514.4 660.3v8.9M162.7 660.3v8.7M602.1 660.3v8.7" stroke-width="3.4"/>
</g>
<text x="228.2" y="558.5" font-size="7.7" font-weight="normal" fill="#4d4d4d" textLength="10.6" lengthAdjust="spacingAndGlyphs">-6</text>
<text x="228.2" y="595.2" font-size="7.7" font-weight="normal" fill="#4d4d4d" textLength="10.6" lengthAdjust="spacingAndGlyphs">-4</text>
<text x="228.2" y="631.9" font-size="7.7" font-weight="normal" fill="#4d4d4d" textLength="10.6" lengthAdjust="spacingAndGlyphs">-2</text>
<text x="233.2" y="705.3" font-size="7.7" font-weight="normal" fill="#4d4d4d" textLength="5.6" lengthAdjust="spacingAndGlyphs">2</text>
<text x="233.2" y="742.0" font-size="7.7" font-weight="normal" fill="#4d4d4d" textLength="5.6" lengthAdjust="spacingAndGlyphs">4</text>
<text x="233.2" y="778.7" font-size="7.7" font-weight="normal" fill="#4d4d4d" textLength="5.6" lengthAdjust="spacingAndGlyphs">6</text>
<text x="264.0" y="557.7" font-size="7.4" font-weight="normal" fill="#333" textLength="21.7" lengthAdjust="spacingAndGlyphs">FCz</text>
<text transform="translate(211.7,612.5) rotate(-90)" font-size="14.0" font-weight="normal" fill="#5a5a5a" textLength="49.6" lengthAdjust="spacingAndGlyphs">Amplitude (uV)</text>
<text x="150.4" y="675.7" font-size="8.5" font-weight="normal" fill="#4d4d4d" textLength="26.2" lengthAdjust="spacingAndGlyphs">-200</text>
<text x="328.1" y="675.7" font-size="8.5" font-weight="normal" fill="#4d4d4d" textLength="20.6" lengthAdjust="spacingAndGlyphs">200</text>
<text x="414.9" y="675.7" font-size="8.5" font-weight="normal" fill="#4d4d4d" textLength="22.2" lengthAdjust="spacingAndGlyphs">400</text>
<text x="502.1" y="675.7" font-size="8.5" font-weight="normal" fill="#4d4d4d" textLength="22.6" lengthAdjust="spacingAndGlyphs">600</text>
<text x="584.7" y="675.7" font-size="8.5" font-weight="normal" fill="#4d4d4d" textLength="22.4" lengthAdjust="spacingAndGlyphs">800</text>
<text x="514.2" y="687.3" font-size="8.7" font-weight="normal" fill="#4d4d4d" textLength="80.5" lengthAdjust="spacingAndGlyphs">Latency (ms)</text>
<path d="M162.7 666.6C163.6 666.9 166.5 668.1 168.4 668.2C170.3 668.3 172.2 667.7 174.2 667.2C176.1 666.7 178.0 666.2 179.9 665.3C181.8 664.3 183.9 662.0 185.7 661.5C187.4 660.9 188.9 661.7 190.5 662.0C192.1 662.4 193.5 662.8 195.2 663.4C197.0 663.9 199.1 664.8 201.0 665.3C202.9 665.8 204.8 666.5 206.8 666.2C208.7 666.0 210.6 664.9 212.5 664.0C214.4 663.0 216.5 661.2 218.2 660.5C220.0 659.8 221.4 659.2 223.0 659.5C224.6 659.9 226.1 661.6 227.8 662.4C229.6 663.2 231.7 663.9 233.6 664.3C235.5 664.8 237.6 664.6 239.3 665.3C241.1 666.0 242.7 667.8 244.1 668.5C245.6 669.3 246.7 669.9 248.0 669.7C249.2 669.5 250.4 668.3 251.8 667.2C253.2 666.2 255.0 664.5 256.6 663.4C258.2 662.3 259.8 661.8 261.4 660.5C263.0 659.2 264.7 657.4 266.2 655.7C267.6 654.0 268.9 651.6 270.0 650.5C271.1 649.5 271.8 649.3 272.9 649.4C274.0 649.5 275.4 650.8 276.7 651.3C278.0 651.8 279.1 652.5 280.5 652.5C282.0 652.5 283.7 651.4 285.3 651.3C286.9 651.2 288.7 651.8 290.1 651.9C291.6 652.0 292.7 652.7 294.0 651.9C295.2 651.1 296.5 650.1 297.8 647.1C299.1 644.0 300.3 639.1 301.6 633.7C302.9 628.2 304.3 619.6 305.5 614.5C306.6 609.4 307.5 605.2 308.3 603.0C309.1 600.8 309.6 600.9 310.2 601.1C310.9 601.2 311.4 601.1 312.2 604.0C313.0 606.8 314.1 612.7 315.0 618.3C316.0 623.9 317.0 631.1 317.9 637.5C318.9 643.9 319.8 650.6 320.8 656.7C321.7 662.7 322.5 668.2 323.7 673.9C324.8 679.7 326.2 686.4 327.5 691.2C328.8 696.0 330.1 700.1 331.3 702.7C332.6 705.2 334.0 706.2 335.2 706.5C336.3 706.8 336.9 705.6 338.0 704.2C339.2 702.8 340.4 699.6 341.9 697.9C343.3 696.2 345.1 695.2 346.7 694.0C348.3 692.9 349.9 691.9 351.5 691.2C353.1 690.4 354.5 691.5 356.2 689.6C358.0 687.8 360.5 682.7 362.0 680.0C363.5 677.4 364.2 676.0 365.2 673.8C366.2 671.5 367.1 669.1 368.0 666.6C369.0 664.0 369.9 661.2 370.8 658.6C371.8 655.9 372.7 653.3 373.6 650.5C374.6 647.7 375.6 644.4 376.5 641.7C377.3 639.1 378.1 636.6 378.9 634.5C379.6 632.4 380.3 630.3 380.9 628.9C381.5 627.5 381.9 626.7 382.5 626.1C383.0 625.5 383.5 625.3 384.1 625.3C384.7 625.3 385.3 625.5 386.1 625.9C386.8 626.3 387.5 626.9 388.5 627.7C389.4 628.5 390.7 629.5 391.7 630.5C392.7 631.5 393.7 632.5 394.5 633.7C395.3 634.9 395.8 636.1 396.5 637.7C397.2 639.3 397.8 641.3 398.5 643.3C399.2 645.3 399.8 647.6 400.5 649.7C401.2 651.9 401.8 653.9 402.5 656.2C403.2 658.4 403.8 661.1 404.5 663.4C405.2 665.6 405.8 667.6 406.5 669.8C407.2 671.9 408.0 674.5 408.5 676.2C409.1 677.9 408.9 676.9 409.7 680.0C410.5 683.2 412.1 691.2 413.3 695.0C414.6 698.8 415.7 700.4 417.2 702.7C418.6 704.9 420.6 707.2 422.0 708.4C423.3 709.6 424.1 710.1 425.2 710.0C426.3 709.8 427.5 709.2 428.7 707.5C429.9 705.8 431.2 702.3 432.5 699.8C433.8 697.2 434.9 694.4 436.3 692.1C437.8 689.9 439.5 688.3 441.1 686.4C442.7 684.5 444.3 682.9 445.9 680.6C447.5 678.4 449.3 674.9 450.7 673.0C452.1 671.0 453.1 669.9 454.5 669.1C456.0 668.3 457.9 668.6 459.3 668.2C460.8 667.7 461.9 667.5 463.2 666.2C464.4 665.0 465.7 662.4 467.0 660.5C468.3 658.6 469.6 656.3 470.8 654.8C472.1 653.2 473.4 651.8 474.7 650.9C475.9 650.0 477.2 649.4 478.5 649.4C479.8 649.3 481.1 649.8 482.3 650.5C483.6 651.3 484.7 652.8 486.2 653.8C487.6 654.8 489.5 655.5 491.0 656.7C492.4 657.8 493.5 659.1 494.8 660.5C496.1 661.9 497.3 664.2 498.6 665.3C499.9 666.4 501.0 666.9 502.5 667.2C503.9 667.5 505.7 667.1 507.2 667.2C508.8 667.3 510.6 667.6 512.0 667.8C513.5 667.9 514.6 668.4 515.9 668.2C517.2 668.0 518.4 667.0 519.7 666.6C521.0 666.2 522.3 665.8 523.5 665.9C524.8 666.0 526.1 667.1 527.4 667.2C528.7 667.3 529.9 667.4 531.2 666.2C532.5 665.1 533.9 661.8 535.0 660.5C536.2 659.2 536.8 658.2 537.9 658.2C539.0 658.2 540.5 659.6 541.8 660.5C543.0 661.4 544.5 663.1 545.6 663.4C546.7 663.7 547.3 663.5 548.5 662.4C549.6 661.3 551.0 658.1 552.3 656.7C553.6 655.2 554.8 654.0 556.1 653.8C557.4 653.5 558.7 654.7 560.0 655.1C561.2 655.6 562.5 656.7 563.8 656.7C565.1 656.6 566.2 655.5 567.6 654.8C569.1 654.0 570.8 652.5 572.4 651.9C574.0 651.2 575.6 650.9 577.2 650.9C578.8 650.9 580.4 651.6 582.0 651.9C583.6 652.2 585.2 652.2 586.8 652.8C588.4 653.5 590.0 654.9 591.6 655.7C593.2 656.5 594.8 657.4 596.4 657.6C598.0 657.8 600.4 657.1 601.2 657.0" fill="none" stroke="#e4140e" stroke-width="3.3" stroke-linecap="round" stroke-linejoin="round"/>
<path d="M162.7 662.8C163.6 662.9 166.5 663.0 168.4 663.4C170.3 663.8 172.4 664.7 174.2 665.3C175.9 665.9 177.4 667.1 179.0 667.2C180.6 667.3 182.3 666.3 183.8 665.9C185.2 665.4 186.1 664.3 187.6 664.3C189.0 664.3 190.8 665.5 192.4 665.9C194.0 666.2 195.6 666.6 197.2 666.6C198.8 666.7 200.4 665.9 202.0 666.2C203.6 666.6 205.3 668.1 206.8 668.5C208.2 669.0 209.1 669.5 210.6 669.1C212.0 668.7 213.6 667.0 215.4 666.2C217.1 665.5 219.2 664.7 221.1 664.3C223.0 664.0 225.0 664.5 226.9 664.3C228.8 664.2 230.7 663.8 232.6 663.4C234.5 663.0 236.6 662.6 238.4 662.0C240.1 661.5 241.6 660.6 243.2 660.1C244.8 659.6 246.4 659.0 248.0 659.2C249.6 659.3 251.2 660.7 252.8 660.9C254.3 661.1 255.8 660.6 257.5 660.5C259.3 660.4 261.4 660.0 263.3 660.1C265.2 660.3 267.1 661.5 269.0 661.5C271.0 661.5 272.9 660.5 274.8 660.1C276.7 659.7 278.8 659.5 280.5 659.0C282.3 658.4 283.7 657.4 285.3 656.7C286.9 655.9 288.5 654.9 290.1 654.4C291.7 653.8 293.5 654.1 294.9 653.2C296.4 652.3 297.5 651.9 298.8 649.0C300.0 646.1 301.3 640.7 302.6 635.6C303.9 630.5 305.3 622.6 306.4 618.3C307.5 614.0 308.5 611.3 309.3 609.7C310.1 608.1 310.5 608.3 311.2 608.8C311.9 609.2 312.7 609.7 313.7 612.6C314.7 615.5 315.9 621.5 317.0 626.0C318.0 630.5 318.7 634.3 319.8 639.4C321.0 644.5 322.4 651.2 323.7 656.7C324.9 662.1 326.2 667.4 327.5 672.0C328.8 676.6 330.1 681.4 331.3 684.5C332.6 687.5 334.0 689.2 335.2 690.2C336.3 691.2 336.9 690.8 338.0 690.2C339.2 689.6 340.4 687.7 341.9 686.4C343.3 685.1 345.3 683.7 346.7 682.5C348.0 681.4 348.6 680.1 350.0 679.4C351.4 678.7 353.3 678.7 354.8 678.2C356.3 677.7 357.6 677.1 358.8 676.2C360.0 675.3 361.0 674.2 362.0 673.0C363.0 671.8 364.0 670.4 364.8 669.0C365.7 667.5 366.4 665.9 367.2 664.2C368.0 662.4 368.8 660.7 369.6 658.6C370.5 656.4 371.5 653.9 372.4 651.3C373.4 648.8 374.4 646.0 375.3 643.3C376.1 640.7 376.9 638.0 377.7 635.3C378.5 632.6 379.3 629.8 380.1 627.3C380.8 624.8 381.4 622.2 382.1 620.1C382.7 618.0 383.4 616.2 384.1 614.9C384.7 613.5 385.5 612.5 386.1 611.9C386.7 611.3 387.1 611.2 387.7 611.3C388.3 611.3 388.9 611.4 389.7 612.1C390.4 612.7 391.2 613.6 392.1 615.1C393.0 616.6 393.9 618.6 394.9 620.9C395.9 623.2 397.0 626.1 398.1 628.9C399.2 631.7 400.2 634.8 401.3 637.7C402.4 640.7 403.5 643.7 404.5 646.5C405.5 649.3 406.4 652.1 407.3 654.5C408.2 657.0 409.0 659.0 409.7 661.0C410.5 662.9 411.1 664.4 411.7 666.2C412.4 667.9 413.1 669.7 413.7 671.4C414.4 673.1 415.1 674.7 415.7 676.2C416.3 677.6 416.6 678.6 417.3 680.0C418.1 681.5 418.8 684.1 420.0 685.0C421.3 685.9 423.2 685.5 424.8 685.4C426.4 685.3 428.2 684.9 429.6 684.5C431.1 684.0 432.2 683.8 433.5 682.5C434.7 681.3 436.0 678.9 437.3 676.8C438.6 674.7 439.8 671.6 441.1 670.1C442.4 668.6 443.7 668.4 445.0 667.8C446.2 667.2 447.5 667.4 448.8 666.6C450.1 665.9 451.3 664.9 452.6 663.4C453.9 661.9 455.2 659.4 456.5 657.6C457.7 655.9 459.0 654.3 460.3 652.8C461.6 651.4 462.8 650.0 464.1 649.0C465.4 648.0 466.7 647.2 468.0 646.7C469.2 646.2 470.5 646.4 471.8 646.1C473.1 645.9 474.3 645.8 475.6 645.2C476.9 644.5 478.2 643.3 479.5 642.3C480.7 641.3 482.2 639.7 483.3 639.0C484.4 638.4 485.0 638.1 486.2 638.5C487.3 638.8 488.7 640.2 490.0 641.3C491.3 642.5 492.6 644.3 493.8 645.2C495.1 646.1 496.4 646.2 497.7 646.7C498.9 647.2 500.1 647.3 501.5 648.0C502.9 648.7 504.9 650.2 506.3 650.9C507.7 651.6 508.8 652.2 510.1 652.3C511.4 652.3 512.7 651.6 514.0 651.3C515.2 651.0 516.5 650.4 517.8 650.5C519.1 650.6 520.3 651.6 521.6 651.9C522.9 652.2 524.2 652.6 525.5 652.3C526.7 651.9 528.0 650.6 529.3 650.0C530.6 649.4 531.8 648.4 533.1 648.6C534.4 648.8 535.7 650.3 537.0 651.3C538.2 652.3 539.5 654.3 540.8 654.4C542.1 654.5 543.3 652.9 544.6 651.9C545.9 650.8 547.2 648.9 548.5 648.0C549.7 647.1 550.9 646.8 552.3 646.5C553.7 646.2 555.5 646.2 557.1 646.1C558.7 646.1 560.4 645.8 561.9 646.1C563.3 646.4 564.4 647.4 565.7 648.0C567.0 648.7 568.3 649.9 569.5 650.0C570.8 650.1 572.1 648.9 573.4 648.6C574.7 648.3 575.9 647.8 577.2 648.0C578.5 648.3 579.8 649.0 581.0 650.0C582.3 650.9 583.6 652.4 584.9 653.8C586.2 655.2 587.4 657.1 588.7 658.2C590.0 659.3 591.3 660.0 592.5 660.1C593.8 660.2 594.9 659.4 596.4 659.0C597.8 658.6 600.4 657.8 601.2 657.6" fill="none" stroke="#000" stroke-width="3.3" stroke-linecap="round" stroke-linejoin="round"/>
<rect x="361.0" y="591.0" width="50.0" height="73.6" fill="#848484" fill-opacity="0.49"/>
<g stroke="#262626" stroke-width="4" fill="none">
<path d="M752.3 552.1V777.1"/>
<path d="M664.9 664.5H1097.4" stroke-width="3.6"/>
<path d="M746.1 553.9h12.4M746.1 590.8h12.4M746.1 627.7h12.4M746.1 701.5h12.4M746.1 738.4h12.4M746.1 775.3h12.4" stroke-width="3.6"/>
<path d="M838.0 660.2v8.9M923.9 660.2v8.9M1009.8 660.2v8.9M666.5 660.2v8.7M1095.8 660.2v8.7" stroke-width="3.4"/>
</g>
<text x="730.2" y="557.4" font-size="7.7" font-weight="normal" fill="#4d4d4d" textLength="10.6" lengthAdjust="spacingAndGlyphs">-6</text>
<text x="730.2" y="594.3" font-size="7.7" font-weight="normal" fill="#4d4d4d" textLength="10.6" lengthAdjust="spacingAndGlyphs">-4</text>
<text x="730.2" y="631.2" font-size="7.7" font-weight="normal" fill="#4d4d4d" textLength="10.6" lengthAdjust="spacingAndGlyphs">-2</text>
<text x="735.2" y="705.0" font-size="7.7" font-weight="normal" fill="#4d4d4d" textLength="5.6" lengthAdjust="spacingAndGlyphs">2</text>
<text x="735.2" y="741.9" font-size="7.7" font-weight="normal" fill="#4d4d4d" textLength="5.6" lengthAdjust="spacingAndGlyphs">4</text>
<text x="735.2" y="778.8" font-size="7.7" font-weight="normal" fill="#4d4d4d" textLength="5.6" lengthAdjust="spacingAndGlyphs">6</text>
<text x="763.3" y="557.0" font-size="7.4" font-weight="normal" fill="#333" textLength="21.7" lengthAdjust="spacingAndGlyphs">FCz</text>
<text transform="translate(710.0,616.3) rotate(-90)" font-size="14.0" font-weight="normal" fill="#5a5a5a" textLength="56.5" lengthAdjust="spacingAndGlyphs">Amplitude (uV)</text>
<text x="657.5" y="676.3" font-size="8.5" font-weight="normal" fill="#4d4d4d" textLength="26.4" lengthAdjust="spacingAndGlyphs">-200</text>
<text x="826.2" y="676.3" font-size="8.5" font-weight="normal" fill="#4d4d4d" textLength="21.6" lengthAdjust="spacingAndGlyphs">200</text>
<text x="912.0" y="676.3" font-size="8.5" font-weight="normal" fill="#4d4d4d" textLength="21.6" lengthAdjust="spacingAndGlyphs">400</text>
<text x="997.9" y="676.3" font-size="8.5" font-weight="normal" fill="#4d4d4d" textLength="21.0" lengthAdjust="spacingAndGlyphs">600</text>
<text x="1078.4" y="676.3" font-size="8.5" font-weight="normal" fill="#4d4d4d" textLength="21.6" lengthAdjust="spacingAndGlyphs">800</text>
<text x="1019.9" y="690.8" font-size="8.7" font-weight="normal" fill="#4d4d4d" textLength="79.6" lengthAdjust="spacingAndGlyphs">Latency (ms)</text>
<path d="M666.9 669.1C667.8 668.9 670.4 667.8 672.2 667.8C674.1 667.8 676.1 668.9 678.0 669.1C679.9 669.3 681.8 669.3 683.8 669.1C685.7 668.9 687.7 667.6 689.5 667.8C691.3 667.9 692.7 669.4 694.3 670.1C695.9 670.8 697.5 672.0 699.1 672.0C700.7 672.0 702.3 670.8 703.9 670.1C705.5 669.4 707.1 668.1 708.7 667.8C710.3 667.5 712.0 668.4 713.5 668.2C714.9 668.0 716.0 667.6 717.3 666.6C718.6 665.7 719.7 663.7 721.1 662.4C722.6 661.1 724.3 659.5 725.9 659.0C727.5 658.4 729.1 659.4 730.7 659.0C732.3 658.6 733.9 657.4 735.5 656.7C737.1 655.9 738.7 654.8 740.3 654.4C741.9 653.9 743.5 654.0 745.1 653.8C746.7 653.5 748.4 653.4 749.9 652.8C751.3 652.3 752.4 650.9 753.7 650.5C755.0 650.1 756.3 650.1 757.5 650.5C758.8 651.0 759.9 652.7 761.4 653.2C762.8 653.8 764.6 654.0 766.2 653.8C767.8 653.6 769.4 652.1 771.0 651.9C772.6 651.7 774.3 652.2 775.8 652.5C777.2 652.7 778.3 653.4 779.6 653.2C780.9 653.0 782.1 652.1 783.4 651.3C784.7 650.5 785.8 649.3 787.2 648.6C788.7 647.9 790.6 648.1 792.0 647.1C793.5 646.0 794.6 644.8 795.9 642.3C797.2 639.7 798.4 635.7 799.7 631.8C801.0 627.8 802.4 622.2 803.5 618.3C804.7 614.5 805.5 610.8 806.4 608.8C807.3 606.7 808.1 605.9 808.9 605.9C809.7 605.9 810.3 606.4 811.2 608.8C812.1 611.1 813.1 615.5 814.1 620.2C815.0 625.0 816.0 631.8 817.0 637.5C817.9 643.2 818.9 649.0 819.8 654.8C820.8 660.5 821.6 665.6 822.7 672.0C823.8 678.4 825.3 686.7 826.5 693.1C827.8 699.5 829.1 706.0 830.4 710.3C831.7 714.6 833.2 717.4 834.2 719.0C835.2 720.6 835.3 720.2 836.1 719.9C836.9 719.6 837.9 719.1 839.0 717.0C840.1 715.0 841.6 710.7 842.8 707.5C844.1 704.3 845.4 700.6 846.7 697.9C847.9 695.2 849.1 692.9 850.5 691.2C851.9 689.4 853.6 689.4 855.3 687.3C857.0 685.2 859.4 681.3 860.8 678.6C862.3 675.9 863.0 673.7 864.0 671.4C865.0 669.1 865.9 667.0 866.8 665.0C867.8 663.0 868.7 661.4 869.6 659.4C870.6 657.4 871.6 655.2 872.4 652.9C873.3 650.7 874.1 648.1 874.9 645.7C875.7 643.3 876.5 640.7 877.3 638.5C878.1 636.4 878.9 634.4 879.7 632.9C880.4 631.4 881.0 630.4 881.7 629.7C882.3 629.0 883.0 628.6 883.7 628.5C884.3 628.4 885.0 628.4 885.7 628.9C886.3 629.4 887.0 630.1 887.7 631.3C888.3 632.5 889.0 634.2 889.7 636.1C890.4 638.0 891.0 640.3 891.7 642.5C892.4 644.8 893.1 647.3 893.7 649.7C894.3 652.1 894.8 654.5 895.3 657.0C895.8 659.4 896.4 661.9 896.9 664.2C897.4 666.4 898.0 668.4 898.5 670.6C899.0 672.7 899.7 675.4 900.1 677.0C900.5 678.6 900.3 677.0 900.9 680.0C901.5 683.0 902.6 690.9 903.8 695.0C904.9 699.1 906.3 702.0 907.6 704.6C908.9 707.1 910.0 708.7 911.4 710.3C912.9 711.9 914.6 713.1 916.2 714.2C917.8 715.2 919.7 716.1 921.0 716.5C922.3 716.9 922.8 717.2 923.9 716.5C925.0 715.8 926.3 714.4 927.7 712.2C929.1 710.1 930.9 706.5 932.5 703.6C934.1 700.8 935.7 698.2 937.3 695.0C938.9 691.8 940.5 688.0 942.1 684.5C943.7 680.9 945.3 677.0 946.9 673.9C948.5 670.9 950.1 668.8 951.7 666.2C953.3 663.7 955.0 660.8 956.5 658.6C957.9 656.3 959.0 654.4 960.3 652.8C961.6 651.3 962.8 650.0 964.1 649.4C965.4 648.7 966.7 649.0 968.0 649.0C969.2 649.0 970.5 649.5 971.8 649.4C973.1 649.2 974.3 648.6 975.6 648.0C976.9 647.5 978.2 646.6 979.5 646.1C980.7 645.6 982.0 645.0 983.3 645.2C984.6 645.3 985.8 646.0 987.1 647.1C988.4 648.2 989.7 650.3 991.0 651.9C992.2 653.5 993.5 655.5 994.8 656.7C996.1 657.8 997.3 658.7 998.6 659.0C999.9 659.2 1001.2 658.6 1002.5 658.2C1003.7 657.8 1005.0 656.5 1006.3 656.7C1007.6 656.8 1008.8 658.3 1010.1 659.0C1011.4 659.6 1012.7 660.2 1014.0 660.5C1015.2 660.8 1016.5 660.2 1017.8 660.5C1019.1 660.8 1020.3 661.5 1021.6 662.0C1022.9 662.6 1024.3 663.7 1025.5 664.0C1026.6 664.2 1027.2 664.1 1028.3 663.4C1029.5 662.6 1030.9 660.7 1032.2 659.5C1033.4 658.4 1034.7 657.2 1036.0 656.7C1037.3 656.1 1038.6 656.8 1039.8 656.3C1041.1 655.8 1042.4 655.0 1043.7 653.8C1044.9 652.6 1046.2 650.2 1047.5 649.0C1048.8 647.8 1050.1 647.0 1051.3 646.7C1052.6 646.4 1053.9 647.0 1055.2 647.5C1056.4 647.9 1057.7 649.1 1059.0 649.4C1060.3 649.6 1061.6 648.9 1062.8 649.0C1064.1 649.1 1065.4 649.4 1066.7 650.0C1067.9 650.5 1069.1 651.9 1070.5 652.5C1071.9 653.0 1073.7 652.9 1075.3 653.2C1076.9 653.5 1078.5 653.8 1080.1 654.4C1081.7 654.9 1083.3 655.8 1084.9 656.7C1086.5 657.5 1088.2 658.9 1089.7 659.5C1091.1 660.2 1092.9 660.3 1093.5 660.5" fill="none" stroke="#e4140e" stroke-width="3.3" stroke-linecap="round" stroke-linejoin="round"/>
<path d="M666.9 664.3C667.8 664.3 670.4 664.5 672.2 664.3C674.1 664.2 676.4 663.9 678.0 663.4C679.6 662.9 680.6 661.8 681.8 661.5C683.1 661.1 684.4 661.0 685.7 661.5C686.9 661.9 688.2 663.2 689.5 664.3C690.8 665.5 692.1 667.3 693.3 668.2C694.6 669.1 695.7 669.7 697.2 669.7C698.6 669.7 700.2 668.5 702.0 668.2C703.7 667.8 705.8 668.0 707.7 667.8C709.6 667.5 711.5 667.2 713.5 666.6C715.4 666.1 717.3 665.0 719.2 664.3C721.1 663.7 723.2 663.1 725.0 662.8C726.7 662.5 728.2 662.5 729.8 662.8C731.3 663.1 732.9 664.1 734.5 664.3C736.1 664.5 737.7 664.2 739.3 664.0C740.9 663.7 742.4 663.1 744.1 662.8C745.9 662.5 748.1 662.7 749.9 662.0C751.6 661.3 753.1 659.7 754.7 658.6C756.3 657.4 757.9 655.5 759.5 655.1C761.1 654.8 762.5 656.1 764.2 656.7C766.0 657.2 768.1 658.2 770.0 658.6C771.9 659.0 774.0 659.1 775.8 659.0C777.5 658.8 778.9 658.6 780.5 657.6C782.1 656.6 783.9 654.2 785.3 652.8C786.8 651.5 787.9 650.2 789.2 649.4C790.4 648.6 791.7 648.8 793.0 648.0C794.3 647.3 795.6 646.9 796.8 644.8C798.1 642.7 799.4 639.2 800.7 635.6C801.9 632.0 803.3 626.5 804.5 623.1C805.7 619.8 807.0 616.9 808.0 615.5C808.9 614.0 809.5 614.2 810.2 614.5C811.0 614.8 811.6 614.5 812.5 617.4C813.5 620.2 814.9 626.8 816.0 631.8C817.1 636.7 817.9 642.0 818.9 647.1C819.8 652.2 820.8 657.6 821.8 662.4C822.7 667.2 823.5 671.0 824.6 675.8C825.7 680.6 827.2 687.0 828.5 691.2C829.7 695.3 831.2 698.8 832.3 700.8C833.4 702.7 834.2 702.8 835.2 702.7C836.1 702.5 837.1 701.7 838.0 699.8C839.0 697.9 839.8 693.9 840.9 691.2C842.0 688.5 843.5 685.3 844.8 683.5C846.0 681.7 847.0 681.2 848.6 680.6C850.2 680.0 852.6 680.0 854.3 680.0C856.1 680.0 857.6 681.0 859.1 680.6C860.6 680.2 862.0 678.9 863.2 677.8C864.4 676.7 865.4 675.4 866.4 673.8C867.4 672.2 868.3 670.3 869.2 668.2C870.2 666.0 871.1 663.4 872.0 661.0C873.0 658.6 873.9 656.2 874.9 653.7C875.8 651.3 876.8 648.9 877.7 646.5C878.5 644.1 879.3 641.5 880.1 639.3C880.9 637.2 881.7 635.4 882.5 633.7C883.3 632.0 884.1 630.4 884.9 629.3C885.6 628.2 886.3 627.7 886.9 627.3C887.5 626.9 887.9 626.7 888.5 626.7C889.0 626.7 889.5 626.7 890.1 627.3C890.7 627.9 891.4 628.6 892.1 630.1C892.8 631.6 893.7 633.8 894.5 636.1C895.3 638.5 896.1 641.5 896.9 644.1C897.7 646.8 898.6 649.6 899.3 652.1C900.0 654.7 900.6 657.0 901.3 659.4C902.0 661.8 902.7 664.4 903.3 666.6C903.9 668.7 904.4 670.3 904.9 672.2C905.4 674.1 906.1 676.5 906.5 677.8C906.9 679.1 906.8 678.0 907.3 680.0C907.8 682.1 908.5 687.1 909.5 690.2C910.5 693.3 912.2 696.8 913.3 698.5C914.5 700.1 915.1 700.5 916.2 700.4C917.3 700.3 918.6 698.8 920.0 697.9C921.5 697.0 923.2 696.3 924.8 695.0C926.4 693.7 928.2 692.4 929.6 690.2C931.1 688.0 932.0 684.3 933.5 681.6C934.9 678.9 936.7 676.0 938.2 673.9C939.8 671.8 941.4 670.5 943.0 669.1C944.6 667.8 946.2 666.8 947.8 665.9C949.4 664.9 951.0 664.4 952.6 663.4C954.2 662.3 955.8 660.5 957.4 659.5C959.0 658.6 960.5 657.8 962.2 657.6C964.0 657.4 966.2 658.4 968.0 658.2C969.7 658.0 971.0 657.1 972.8 656.3C974.5 655.5 976.6 654.0 978.5 653.2C980.4 652.4 982.3 651.9 984.2 651.5C986.2 651.0 988.4 650.5 990.0 650.5C991.6 650.6 992.6 651.0 993.8 651.9C995.1 652.7 996.4 654.7 997.7 655.7C998.9 656.8 1000.2 657.9 1001.5 658.2C1002.8 658.5 1004.1 658.2 1005.3 657.6C1006.6 657.0 1008.0 655.4 1009.2 654.8C1010.3 654.1 1010.9 653.6 1012.0 653.8C1013.2 654.0 1014.6 655.2 1015.9 655.7C1017.2 656.3 1018.3 657.0 1019.7 657.0C1021.1 657.1 1022.9 656.6 1024.5 656.3C1026.1 656.0 1027.7 655.5 1029.3 655.1C1030.9 654.8 1032.5 654.7 1034.1 654.4C1035.7 654.0 1037.3 653.2 1038.9 653.2C1040.5 653.3 1042.2 654.3 1043.7 654.8C1045.1 655.2 1046.2 656.0 1047.5 655.7C1048.8 655.4 1049.9 654.0 1051.3 652.8C1052.8 651.7 1054.5 649.7 1056.1 649.0C1057.7 648.3 1059.3 648.4 1060.9 648.4C1062.5 648.4 1064.1 648.7 1065.7 649.0C1067.3 649.3 1069.1 649.9 1070.5 650.0C1071.9 650.0 1073.1 648.9 1074.3 649.4C1075.6 649.9 1076.7 651.7 1078.2 652.8C1079.6 654.0 1081.4 655.9 1083.0 656.3C1084.6 656.7 1086.2 655.5 1087.8 655.1C1089.3 654.7 1091.4 653.9 1092.5 653.8C1093.7 653.7 1094.1 654.3 1094.5 654.4" fill="none" stroke="#000" stroke-width="3.3" stroke-linecap="round" stroke-linejoin="round"/>
<rect x="859.7" y="591.0" width="50.2" height="73.5" fill="#848484" fill-opacity="0.49"/>
<path d="M388.9 121.2L419.5 108.7" stroke="#111" stroke-width="1.7" fill="none"/>
<path d="M424.2 106.8L416.6 106.3L418.9 111.9Z" fill="#111"/>
<text x="427.7" y="107.0" font-size="11.6" font-weight="bold" fill="#000" textLength="23.0" lengthAdjust="spacingAndGlyphs">N2</text>
<text x="83.6" y="183.8" font-size="15.1" font-weight="normal" fill="#000" textLength="66.6" lengthAdjust="spacingAndGlyphs" stroke="#000" stroke-width="0.22">Friend</text>
<text x="1.2" y="423.8" font-size="15.1" font-weight="normal" fill="#000" textLength="148.4" lengthAdjust="spacingAndGlyphs" stroke="#000" stroke-width="0.22">Acquaintance</text>
<text x="56.6" y="669.9" font-size="15.1" font-weight="normal" fill="#000" textLength="93.6" lengthAdjust="spacingAndGlyphs" stroke="#000" stroke-width="0.22">Stranger</text>
<path d="M530 239.3H563" stroke="#d62016" stroke-width="4.2"/>
<path d="M530 251.3H563" stroke="#000" stroke-width="4.2"/>
<text x="566.6" y="242.6" font-size="10.0" font-weight="normal" fill="#000" textLength="109.4" lengthAdjust="spacingAndGlyphs" stroke="#000" stroke-width="0.22">Observable</text>
<text x="566.6" y="255.1" font-size="10.0" font-weight="normal" fill="#000" textLength="150.0" lengthAdjust="spacingAndGlyphs" stroke="#000" stroke-width="0.22">Non-observable</text>
<defs><linearGradient id="cb" x1="0" y1="0" x2="0" y2="1"><stop offset="0" stop-color="#8e1a1c"/><stop offset="0.12" stop-color="#dc2320"/><stop offset="0.25" stop-color="#f06a22"/><stop offset="0.38" stop-color="#efe235"/><stop offset="0.5" stop-color="#9ac963"/><stop offset="0.62" stop-color="#62c2bd"/><stop offset="0.70" stop-color="#32a7e2"/><stop offset="0.82" stop-color="#2258b6"/><stop offset="1" stop-color="#1a3b8c"/></linearGradient></defs>
<rect x="1141.3" y="53.3" width="24.1" height="51.3" fill="url(#cb)"/>
<path d="M1142 53.3V104.6M1141.3 104.2H1165.4" stroke="#000" stroke-width="1.4" fill="none"/>
<path d="M1165.2 53.3V104.6" stroke="#222" stroke-width="0.5" fill="none"/>
<text x="1170.8" y="57.3" font-size="7.5" font-weight="normal" fill="#111" textLength="28.8" lengthAdjust="spacingAndGlyphs">6 uV</text>
<text x="1170.8" y="68.0" font-size="7.5" font-weight="normal" fill="#111" textLength="9.2" lengthAdjust="spacingAndGlyphs">4</text>
<text x="1170.8" y="78.8" font-size="7.5" font-weight="normal" fill="#111" textLength="9.2" lengthAdjust="spacingAndGlyphs">2</text>
<text x="1170.8" y="89.6" font-size="7.5" font-weight="normal" fill="#111" textLength="9.2" lengthAdjust="spacingAndGlyphs">0</text>
<text x="1170.4" y="102.6" font-size="7.5" font-weight="normal" fill="#111" textLength="29.6" lengthAdjust="spacingAndGlyphs">-2 uV</text>
<g stroke="#000" fill="none">
<path d="M249.6 805.8V1237.4" stroke-width="3"/>
<path d="M244 1195H1088.2" stroke-width="3.4"/>
<path d="M236.6 807.4H249.6M236.6 918.9H249.6M236.6 1029H249.6M236.6 1139.5H249.6" stroke-width="3"/>
<path d="M243.8 863H249.6M243.8 973.8H249.6M243.8 1084.1H249.6" stroke-width="2.6"/>
<path d="M333 1195V1207.2M459.5 1195V1207.2M571.3 1195V1207.2M755.8 1195V1207.2M876.9 1195V1207.2M988.8 1195V1207.2M403.7 1195V1219.5M521.3 1195V1219.5M820.9 1195V1219.5M942.8 1195V1219.5M668.8 1195V1237M1086.6 1195V1237" stroke-width="3.2"/>
</g>
<text x="197.6" y="813.4" font-size="15.8" font-weight="normal" fill="#000" textLength="29.8" lengthAdjust="spacingAndGlyphs" stroke="#000" stroke-width="0.35">15</text>
<text x="197.6" y="924.1" font-size="15.8" font-weight="normal" fill="#000" textLength="29.8" lengthAdjust="spacingAndGlyphs" stroke="#000" stroke-width="0.35">10</text>
<text x="213.6" y="1034.1" font-size="15.8" font-weight="normal" fill="#000" textLength="13.8" lengthAdjust="spacingAndGlyphs" stroke="#000" stroke-width="0.35">0</text>
<text x="187.2" y="1144.5" font-size="15.8" font-weight="normal" fill="#000" textLength="39.0" lengthAdjust="spacingAndGlyphs" stroke="#000" stroke-width="0.35">-10</text>
<text transform="translate(167.6,931.3) rotate(-90)" font-size="22.5" font-weight="bold" fill="#000" textLength="107.5" lengthAdjust="spacingAndGlyphs">N2 amplitude (µV)</text>
<text x="283.0" y="1208.0" font-size="10.6" font-weight="bold" fill="#000" textLength="20.0" lengthAdjust="spacingAndGlyphs">ob</text>
<text x="339.5" y="1208.0" font-size="10.6" font-weight="bold" fill="#000" textLength="54.3" lengthAdjust="spacingAndGlyphs">non-ob</text>
<text x="419.5" y="1208.0" font-size="10.6" font-weight="bold" fill="#000" textLength="19.3" lengthAdjust="spacingAndGlyphs">ob</text>
<text x="463.8" y="1208.0" font-size="10.6" font-weight="bold" fill="#000" textLength="54.2" lengthAdjust="spacingAndGlyphs">non-ob</text>
<text x="530.0" y="1208.0" font-size="10.6" font-weight="bold" fill="#000" textLength="20.0" lengthAdjust="spacingAndGlyphs">ob</text>
<text x="585.5" y="1207.2" font-size="10.6" font-weight="bold" fill="#000" textLength="54.5" lengthAdjust="spacingAndGlyphs">non-ob</text>
<text x="707.0" y="1208.5" font-size="10.6" font-weight="bold" fill="#000" textLength="20.4" lengthAdjust="spacingAndGlyphs">ob</text>
<text x="762.7" y="1208.5" font-size="10.6" font-weight="bold" fill="#000" textLength="55.5" lengthAdjust="spacingAndGlyphs">non-ob</text>
<text x="842.0" y="1208.5" font-size="10.6" font-weight="bold" fill="#000" textLength="19.5" lengthAdjust="spacingAndGlyphs">ob</text>
<text x="885.3" y="1208.5" font-size="10.6" font-weight="bold" fill="#000" textLength="54.4" lengthAdjust="spacingAndGlyphs">non-ob</text>
<text x="952.4" y="1206.6" font-size="10.6" font-weight="bold" fill="#000" textLength="19.1" lengthAdjust="spacingAndGlyphs">ob</text>
<text x="1008.0" y="1208.5" font-size="10.6" font-weight="bold" fill="#000" textLength="53.6" lengthAdjust="spacingAndGlyphs">non-ob</text>
<text x="311.3" y="1222.6" font-size="10.6" font-weight="bold" fill="#000" textLength="45.0" lengthAdjust="spacingAndGlyphs">friend</text>
<text x="408.8" y="1222.8" font-size="10.6" font-weight="bold" fill="#000" textLength="107.5" lengthAdjust="spacingAndGlyphs">Acquaintance</text>
<text x="552.0" y="1222.8" font-size="10.6" font-weight="bold" fill="#000" textLength="65.5" lengthAdjust="spacingAndGlyphs">Stranger</text>
<text x="747.3" y="1222.8" font-size="10.6" font-weight="bold" fill="#000" textLength="45.2" lengthAdjust="spacingAndGlyphs">friend</text>
<text x="827.8" y="1222.8" font-size="10.6" font-weight="bold" fill="#000" textLength="108.1" lengthAdjust="spacingAndGlyphs">Acquaintance</text>
<text x="970.4" y="1222.8" font-size="10.6" font-weight="bold" fill="#000" textLength="66.3" lengthAdjust="spacingAndGlyphs">Stranger</text>
<text x="392.0" y="1242.6" font-size="16.4" font-weight="bold" fill="#000" textLength="118.0" lengthAdjust="spacingAndGlyphs">Low altruists</text>
<text x="830.9" y="1243.6" font-size="16.4" font-weight="bold" fill="#000" textLength="122.6" lengthAdjust="spacingAndGlyphs">High altruists</text>
<g stroke="#000" stroke-width="2.7" fill="none" stroke-linejoin="miter">
<path d="M319.2 907.6V892.6H376.3V907.6"/>
<path d="M348 878.3V863H463.3V878.3"/>
<path d="M351.7 848.7V832.3H569.7V848.7"/>
<path d="M429.5 910V895.3H489.5V910"/>
<path d="M538.7 909.7V895.7H598.4V909.7"/>
</g>
<path d="M341.7 885.2L341.7 881.3M341.7 885.2L347.6 884.0M341.7 885.2L345.3 888.4M341.7 885.2L338.0 888.4M341.7 885.2L335.8 884.0M356.6 885.2L356.6 881.3M356.6 885.2L362.5 884.0M356.6 885.2L360.3 888.4M356.6 885.2L353.0 888.4M356.6 885.2L350.7 884.0" stroke="#000" stroke-width="1.7" fill="none"/>
<path d="M396.1 855.2L396.1 851.3M396.1 855.2L401.0 854.0M396.1 855.2L399.1 858.4M396.1 855.2L393.1 858.4M396.1 855.2L391.3 854.0M407.5 855.2L407.5 851.3M407.5 855.2L412.3 854.0M407.5 855.2L410.5 858.4M407.5 855.2L404.5 858.4M407.5 855.2L402.7 854.0M418.9 855.2L418.9 851.3M418.9 855.2L423.7 854.0M418.9 855.2L421.9 858.4M418.9 855.2L415.9 858.4M418.9 855.2L414.0 854.0" stroke="#000" stroke-width="1.7" fill="none"/>
<path d="M455.0 825.4L455.0 821.6M455.0 825.4L460.0 824.2M455.0 825.4L458.1 828.5M455.0 825.4L451.9 828.5M455.0 825.4L450.0 824.2M466.7 825.4L466.7 821.6M466.7 825.4L471.6 824.2M466.7 825.4L469.7 828.5M466.7 825.4L463.6 828.5M466.7 825.4L461.7 824.2M478.3 825.4L478.3 821.6M478.3 825.4L483.3 824.2M478.3 825.4L481.4 828.5M478.3 825.4L475.2 828.5M478.3 825.4L473.3 824.2" stroke="#000" stroke-width="1.7" fill="none"/>
<path d="M453.2 887.1L453.2 883.0M453.2 887.1L459.4 885.8M453.2 887.1L457.0 890.4M453.2 887.1L449.4 890.4M453.2 887.1L447.0 885.8M468.8 887.1L468.8 883.0M468.8 887.1L475.0 885.8M468.8 887.1L472.6 890.4M468.8 887.1L465.0 890.4M468.8 887.1L462.6 885.8" stroke="#000" stroke-width="1.7" fill="none"/>
<path d="M562.9 887.4L562.9 883.3M562.9 887.4L569.1 886.2M562.9 887.4L566.7 890.8M562.9 887.4L559.1 890.8M562.9 887.4L556.7 886.2M578.5 887.4L578.5 883.3M578.5 887.4L584.7 886.2M578.5 887.4L582.3 890.8M578.5 887.4L574.7 890.8M578.5 887.4L572.3 886.2" stroke="#000" stroke-width="1.7" fill="none"/>
<g stroke="#555555" fill="none" stroke-linecap="round">
<rect x="302.6" y="985.5" width="34.8" height="21.9" fill="#c3c3c3" stroke="none"/>
<path d="M319.7 919.2V984.2M319.7 1008.7V1049.2" stroke-width="2.8" stroke-linecap="butt"/>
<path d="M310.7 919.2H328.7M310.7 1049.2H328.7" stroke-width="2.5"/>
<g fill="#555555" stroke="none"><ellipse cx="319.7" cy="939.2" rx="4.6" ry="2.8"/><ellipse cx="319.7" cy="947.5" rx="4.6" ry="2.8"/><ellipse cx="319.7" cy="950" rx="4.6" ry="2.8"/><ellipse cx="319.7" cy="970" rx="4.6" ry="2.8"/><ellipse cx="319.7" cy="978.7" rx="4.6" ry="2.8"/><ellipse cx="319.7" cy="986" rx="4.6" ry="2.8"/><ellipse cx="319.7" cy="989" rx="4.6" ry="2.8"/><ellipse cx="319.7" cy="992" rx="4.6" ry="2.8"/><ellipse cx="319.7" cy="995" rx="4.6" ry="2.8"/><ellipse cx="319.7" cy="998" rx="4.6" ry="2.8"/><ellipse cx="319.7" cy="1006" rx="4.6" ry="2.8"/><ellipse cx="319.7" cy="1009.5" rx="4.6" ry="2.8"/><ellipse cx="319.7" cy="1019.2" rx="4.6" ry="2.8"/><ellipse cx="319.7" cy="1030" rx="4.6" ry="2.8"/><ellipse cx="319.7" cy="1034" rx="4.6" ry="2.8"/><ellipse cx="319.7" cy="919.2" rx="4.6" ry="2.8"/><ellipse cx="319.7" cy="1049.2" rx="4.6" ry="2.8"/></g>
<rect x="302.6" y="985.5" width="34.8" height="21.9" stroke-width="2.6" stroke-linejoin="round"/>
<path d="M302.6 994.2H337.4" stroke-width="2.6" stroke-linecap="butt"/>
</g>
<g stroke="#ea4141" fill="none" stroke-linecap="round">
<rect x="358.0" y="992.1" width="35.4" height="32.4" fill="#f8c6c6" stroke="none"/>
<path d="M375.8 953.3V990.8M375.8 1025.8V1052.8" stroke-width="2.8" stroke-linecap="butt"/>
<path d="M366.8 953.3H384.8M366.8 1052.8H384.8" stroke-width="2.5"/>
<g fill="#ea4141" stroke="none"><ellipse cx="375.8" cy="965" rx="4.6" ry="2.8"/><ellipse cx="375.8" cy="976" rx="4.6" ry="2.8"/><ellipse cx="375.8" cy="982" rx="4.6" ry="2.8"/><ellipse cx="375.8" cy="985.5" rx="4.6" ry="2.8"/><ellipse cx="375.8" cy="992" rx="4.6" ry="2.8"/><ellipse cx="375.8" cy="995.2" rx="4.6" ry="2.8"/><ellipse cx="375.8" cy="998.4" rx="4.6" ry="2.8"/><ellipse cx="375.8" cy="1001.6" rx="4.6" ry="2.8"/><ellipse cx="375.8" cy="1004.8" rx="4.6" ry="2.8"/><ellipse cx="375.8" cy="1008.0" rx="4.6" ry="2.8"/><ellipse cx="375.8" cy="1011.2" rx="4.6" ry="2.8"/><ellipse cx="375.8" cy="1014.4" rx="4.6" ry="2.8"/><ellipse cx="375.8" cy="1017.6" rx="4.6" ry="2.8"/><ellipse cx="375.8" cy="1020.8" rx="4.6" ry="2.8"/><ellipse cx="375.8" cy="1024.0" rx="4.6" ry="2.8"/><ellipse cx="375.8" cy="1027.2" rx="4.6" ry="2.8"/><ellipse cx="375.8" cy="1030.4" rx="4.6" ry="2.8"/><ellipse cx="375.8" cy="1033.6" rx="4.6" ry="2.8"/><ellipse cx="375.8" cy="1036.8" rx="4.6" ry="2.8"/><ellipse cx="375.8" cy="1040.0" rx="4.6" ry="2.8"/><ellipse cx="375.8" cy="953.3" rx="4.6" ry="2.8"/><ellipse cx="375.8" cy="1052.8" rx="4.6" ry="2.8"/></g>
<rect x="358.0" y="992.1" width="35.4" height="32.4" stroke-width="2.6" stroke-linejoin="round"/>
<path d="M358.0 1008.3H393.4" stroke-width="2.6" stroke-linecap="butt"/>
</g>
<g stroke="#1d6de0" fill="none" stroke-linecap="round">
<rect x="413.8" y="1012.1" width="35.2" height="47.1" fill="#b1cbf2" stroke="none"/>
<path d="M431.3 933.3V1010.8M431.3 1060.5V1121.7" stroke-width="2.8" stroke-linecap="butt"/>
<path d="M422.3 933.3H440.3M422.3 1121.7H440.3" stroke-width="2.5"/>
<g fill="#1d6de0" stroke="none"><ellipse cx="431.3" cy="966.7" rx="4.6" ry="2.8"/><ellipse cx="431.3" cy="977.5" rx="4.6" ry="2.8"/><ellipse cx="431.3" cy="988.3" rx="4.6" ry="2.8"/><ellipse cx="431.3" cy="1000.8" rx="4.6" ry="2.8"/><ellipse cx="431.3" cy="1019" rx="4.6" ry="2.8"/><ellipse cx="431.3" cy="1029" rx="4.6" ry="2.8"/><ellipse cx="431.3" cy="1032.4" rx="4.6" ry="2.8"/><ellipse cx="431.3" cy="1035.8" rx="4.6" ry="2.8"/><ellipse cx="431.3" cy="1039.2" rx="4.6" ry="2.8"/><ellipse cx="431.3" cy="1042.6" rx="4.6" ry="2.8"/><ellipse cx="431.3" cy="1046.0" rx="4.6" ry="2.8"/><ellipse cx="431.3" cy="1049.4" rx="4.6" ry="2.8"/><ellipse cx="431.3" cy="1052.8" rx="4.6" ry="2.8"/><ellipse cx="431.3" cy="1056.2" rx="4.6" ry="2.8"/><ellipse cx="431.3" cy="1059.6" rx="4.6" ry="2.8"/><ellipse cx="431.3" cy="1078.5" rx="4.6" ry="2.8"/><ellipse cx="431.3" cy="1083" rx="4.6" ry="2.8"/><ellipse cx="431.3" cy="1107.5" rx="4.6" ry="2.8"/><ellipse cx="431.3" cy="933.3" rx="4.6" ry="2.8"/><ellipse cx="431.3" cy="1121.7" rx="4.6" ry="2.8"/></g>
<rect x="413.8" y="1012.1" width="35.2" height="47.1" stroke-width="2.6" stroke-linejoin="round"/>
<path d="M413.8 1040.5H449.0" stroke-width="2.6" stroke-linecap="butt"/>
</g>
<g stroke="#2fa868" fill="none" stroke-linecap="round">
<rect x="469.8" y="1029.9" width="34.4" height="30.6" fill="#bde3ce" stroke="none"/>
<path d="M487.1 995.7V1028.6M487.1 1061.8V1125.3" stroke-width="2.8" stroke-linecap="butt"/>
<path d="M478.1 995.7H496.1M478.1 1125.3H496.1" stroke-width="2.5"/>
<g fill="#2fa868" stroke="none"><ellipse cx="487.1" cy="997.5" rx="4.6" ry="2.8"/><ellipse cx="487.1" cy="1010.2" rx="4.6" ry="2.8"/><ellipse cx="487.1" cy="1014.7" rx="4.6" ry="2.8"/><ellipse cx="487.1" cy="1026" rx="4.6" ry="2.8"/><ellipse cx="487.1" cy="1029.2" rx="4.6" ry="2.8"/><ellipse cx="487.1" cy="1032.4" rx="4.6" ry="2.8"/><ellipse cx="487.1" cy="1035.6" rx="4.6" ry="2.8"/><ellipse cx="487.1" cy="1038.8" rx="4.6" ry="2.8"/><ellipse cx="487.1" cy="1042.0" rx="4.6" ry="2.8"/><ellipse cx="487.1" cy="1046" rx="4.6" ry="2.8"/><ellipse cx="487.1" cy="1049.2" rx="4.6" ry="2.8"/><ellipse cx="487.1" cy="1052.4" rx="4.6" ry="2.8"/><ellipse cx="487.1" cy="1055.6" rx="4.6" ry="2.8"/><ellipse cx="487.1" cy="1058.8" rx="4.6" ry="2.8"/><ellipse cx="487.1" cy="1068.5" rx="4.6" ry="2.8"/><ellipse cx="487.1" cy="1073" rx="4.6" ry="2.8"/><ellipse cx="487.1" cy="1083" rx="4.6" ry="2.8"/><ellipse cx="487.1" cy="1094.4" rx="4.6" ry="2.8"/><ellipse cx="487.1" cy="1104" rx="4.6" ry="2.8"/><ellipse cx="487.1" cy="995.7" rx="4.6" ry="2.8"/><ellipse cx="487.1" cy="1125.3" rx="4.6" ry="2.8"/></g>
<rect x="469.8" y="1029.9" width="34.4" height="30.6" stroke-width="2.6" stroke-linejoin="round"/>
<path d="M469.8 1037H504.2" stroke-width="2.6" stroke-linecap="butt"/>
</g>
<g stroke="#b67de1" fill="none" stroke-linecap="round">
<rect x="525.5" y="1016.0" width="34.9" height="51.9" fill="#e6d3f6" stroke="none"/>
<path d="M542.8 950.3V1014.7M542.8 1069.2V1112.3" stroke-width="2.8" stroke-linecap="butt"/>
<path d="M533.8 950.3H551.8M533.8 1112.3H551.8" stroke-width="2.5"/>
<g fill="#b67de1" stroke="none"><ellipse cx="542.8" cy="965.3" rx="4.6" ry="2.8"/><ellipse cx="542.8" cy="988.9" rx="4.6" ry="2.8"/><ellipse cx="542.8" cy="992.2" rx="4.6" ry="2.8"/><ellipse cx="542.8" cy="1008.4" rx="4.6" ry="2.8"/><ellipse cx="542.8" cy="1016.9" rx="4.6" ry="2.8"/><ellipse cx="542.8" cy="1039.8" rx="4.6" ry="2.8"/><ellipse cx="542.8" cy="1048.3" rx="4.6" ry="2.8"/><ellipse cx="542.8" cy="1052.8" rx="4.6" ry="2.8"/><ellipse cx="542.8" cy="1062.9" rx="4.6" ry="2.8"/><ellipse cx="542.8" cy="1067.4" rx="4.6" ry="2.8"/><ellipse cx="542.8" cy="1077.5" rx="4.6" ry="2.8"/><ellipse cx="542.8" cy="1080.9" rx="4.6" ry="2.8"/><ellipse cx="542.8" cy="1088.7" rx="4.6" ry="2.8"/><ellipse cx="542.8" cy="1092.1" rx="4.6" ry="2.8"/><ellipse cx="542.8" cy="950.3" rx="4.6" ry="2.8"/><ellipse cx="542.8" cy="1112.3" rx="4.6" ry="2.8"/></g>
<rect x="525.5" y="1016.0" width="34.9" height="51.9" stroke-width="2.6" stroke-linejoin="round"/>
<path d="M525.5 1048.8H560.4" stroke-width="2.6" stroke-linecap="butt"/>
</g>
<g stroke="#cf9b0c" fill="none" stroke-linecap="round">
<rect x="580.9" y="1031.2" width="35.1" height="28.2" fill="#efdda8" stroke="none"/>
<path d="M598.7 982.1V1029.9M598.7 1060.7V1119" stroke-width="2.8" stroke-linecap="butt"/>
<path d="M589.7 982.1H607.7M589.7 1119H607.7" stroke-width="2.5"/>
<g fill="#cf9b0c" stroke="none"><ellipse cx="598.7" cy="990" rx="4.6" ry="2.8"/><ellipse cx="598.7" cy="1020.3" rx="4.6" ry="2.8"/><ellipse cx="598.7" cy="1023.7" rx="4.6" ry="2.8"/><ellipse cx="598.7" cy="1028" rx="4.6" ry="2.8"/><ellipse cx="598.7" cy="1031.2" rx="4.6" ry="2.8"/><ellipse cx="598.7" cy="1034.4" rx="4.6" ry="2.8"/><ellipse cx="598.7" cy="1037.6" rx="4.6" ry="2.8"/><ellipse cx="598.7" cy="1040.8" rx="4.6" ry="2.8"/><ellipse cx="598.7" cy="1044.0" rx="4.6" ry="2.8"/><ellipse cx="598.7" cy="1047.2" rx="4.6" ry="2.8"/><ellipse cx="598.7" cy="1050.4" rx="4.6" ry="2.8"/><ellipse cx="598.7" cy="1053.6" rx="4.6" ry="2.8"/><ellipse cx="598.7" cy="1066.3" rx="4.6" ry="2.8"/><ellipse cx="598.7" cy="1075.3" rx="4.6" ry="2.8"/><ellipse cx="598.7" cy="1078.6" rx="4.6" ry="2.8"/><ellipse cx="598.7" cy="1106.7" rx="4.6" ry="2.8"/><ellipse cx="598.7" cy="1113.4" rx="4.6" ry="2.8"/><ellipse cx="598.7" cy="982.1" rx="4.6" ry="2.8"/><ellipse cx="598.7" cy="1119" rx="4.6" ry="2.8"/></g>
<rect x="580.9" y="1031.2" width="35.1" height="28.2" stroke-width="2.6" stroke-linejoin="round"/>
<path d="M580.9 1046.8H616.0" stroke-width="2.6" stroke-linecap="butt"/>
</g>
<g stroke="#555555" fill="none" stroke-linecap="round">
<rect x="720.5" y="1023.5" width="35.2" height="34.4" fill="#c3c3c3" stroke="none"/>
<path d="M738 988.7V1022.2M738 1059.2V1106.3" stroke-width="2.8" stroke-linecap="butt"/>
<path d="M729 988.7H747M729 1106.3H747" stroke-width="2.5"/>
<g fill="#555555" stroke="none"><ellipse cx="738" cy="1000.8" rx="4.6" ry="2.8"/><ellipse cx="738" cy="1011.7" rx="4.6" ry="2.8"/><ellipse cx="738" cy="1018.3" rx="4.6" ry="2.8"/><ellipse cx="738" cy="1023.3" rx="4.6" ry="2.8"/><ellipse cx="738" cy="1030" rx="4.6" ry="2.8"/><ellipse cx="738" cy="1033.2" rx="4.6" ry="2.8"/><ellipse cx="738" cy="1036.4" rx="4.6" ry="2.8"/><ellipse cx="738" cy="1039.6" rx="4.6" ry="2.8"/><ellipse cx="738" cy="1042.8" rx="4.6" ry="2.8"/><ellipse cx="738" cy="1046.0" rx="4.6" ry="2.8"/><ellipse cx="738" cy="1049.2" rx="4.6" ry="2.8"/><ellipse cx="738" cy="1052.4" rx="4.6" ry="2.8"/><ellipse cx="738" cy="1057.5" rx="4.6" ry="2.8"/><ellipse cx="738" cy="1070" rx="4.6" ry="2.8"/><ellipse cx="738" cy="1080" rx="4.6" ry="2.8"/><ellipse cx="738" cy="1092" rx="4.6" ry="2.8"/><ellipse cx="738" cy="1101.7" rx="4.6" ry="2.8"/><ellipse cx="738" cy="988.7" rx="4.6" ry="2.8"/><ellipse cx="738" cy="1106.3" rx="4.6" ry="2.8"/></g>
<rect x="720.5" y="1023.5" width="35.2" height="34.4" stroke-width="2.6" stroke-linejoin="round"/>
<path d="M720.5 1043.8H755.7" stroke-width="2.6" stroke-linecap="butt"/>
</g>
<g stroke="#ea4141" fill="none" stroke-linecap="round">
<rect x="776.0" y="1023.0" width="35.2" height="42.9" fill="#f8c6c6" stroke="none"/>
<path d="M793.8 955V1021.7M793.8 1067.2V1081.7" stroke-width="2.8" stroke-linecap="butt"/>
<path d="M784.8 955H802.8M784.8 1081.7H802.8" stroke-width="2.5"/>
<g fill="#ea4141" stroke="none"><ellipse cx="793.8" cy="1000.8" rx="4.6" ry="2.8"/><ellipse cx="793.8" cy="1013.3" rx="4.6" ry="2.8"/><ellipse cx="793.8" cy="1016.5" rx="4.6" ry="2.8"/><ellipse cx="793.8" cy="1019.7" rx="4.6" ry="2.8"/><ellipse cx="793.8" cy="1022.9" rx="4.6" ry="2.8"/><ellipse cx="793.8" cy="1026.1" rx="4.6" ry="2.8"/><ellipse cx="793.8" cy="1029.3" rx="4.6" ry="2.8"/><ellipse cx="793.8" cy="1038.3" rx="4.6" ry="2.8"/><ellipse cx="793.8" cy="1043.3" rx="4.6" ry="2.8"/><ellipse cx="793.8" cy="1048.3" rx="4.6" ry="2.8"/><ellipse cx="793.8" cy="1057.5" rx="4.6" ry="2.8"/><ellipse cx="793.8" cy="1066.7" rx="4.6" ry="2.8"/><ellipse cx="793.8" cy="1073.3" rx="4.6" ry="2.8"/><ellipse cx="793.8" cy="1077.5" rx="4.6" ry="2.8"/><ellipse cx="793.8" cy="955" rx="4.6" ry="2.8"/><ellipse cx="793.8" cy="1081.7" rx="4.6" ry="2.8"/></g>
<rect x="776.0" y="1023.0" width="35.2" height="42.9" stroke-width="2.6" stroke-linejoin="round"/>
<path d="M776.0 1038.7H811.2" stroke-width="2.6" stroke-linecap="butt"/>
</g>
<g stroke="#1d6de0" fill="none" stroke-linecap="round">
<rect x="832.1" y="1017.1" width="34.9" height="43.6" fill="#b1cbf2" stroke="none"/>
<path d="M849.5 984.2V1015.8M849.5 1062V1107.5" stroke-width="2.8" stroke-linecap="butt"/>
<path d="M840.5 984.2H858.5M840.5 1107.5H858.5" stroke-width="2.5"/>
<g fill="#1d6de0" stroke="none"><ellipse cx="849.5" cy="998.3" rx="4.6" ry="2.8"/><ellipse cx="849.5" cy="1001.7" rx="4.6" ry="2.8"/><ellipse cx="849.5" cy="1011.7" rx="4.6" ry="2.8"/><ellipse cx="849.5" cy="1015" rx="4.6" ry="2.8"/><ellipse cx="849.5" cy="1026.7" rx="4.6" ry="2.8"/><ellipse cx="849.5" cy="1034.2" rx="4.6" ry="2.8"/><ellipse cx="849.5" cy="1038.3" rx="4.6" ry="2.8"/><ellipse cx="849.5" cy="1045" rx="4.6" ry="2.8"/><ellipse cx="849.5" cy="1050" rx="4.6" ry="2.8"/><ellipse cx="849.5" cy="1063.3" rx="4.6" ry="2.8"/><ellipse cx="849.5" cy="1068.3" rx="4.6" ry="2.8"/><ellipse cx="849.5" cy="1073.3" rx="4.6" ry="2.8"/><ellipse cx="849.5" cy="1077.5" rx="4.6" ry="2.8"/><ellipse cx="849.5" cy="1081.7" rx="4.6" ry="2.8"/><ellipse cx="849.5" cy="984.2" rx="4.6" ry="2.8"/><ellipse cx="849.5" cy="1107.5" rx="4.6" ry="2.8"/></g>
<rect x="832.1" y="1017.1" width="34.9" height="43.6" stroke-width="2.6" stroke-linejoin="round"/>
<path d="M832.1 1041.3H867.0" stroke-width="2.6" stroke-linecap="butt"/>
</g>
<g stroke="#2fa868" fill="none" stroke-linecap="round">
<rect x="887.6" y="1021.6" width="35.3" height="37.9" fill="#bde3ce" stroke="none"/>
<path d="M905.3 989.2V1020.3M905.3 1060.8V1102.5" stroke-width="2.8" stroke-linecap="butt"/>
<path d="M896.3 989.2H914.3M896.3 1102.5H914.3" stroke-width="2.5"/>
<g fill="#2fa868" stroke="none"><ellipse cx="905.3" cy="993.3" rx="4.6" ry="2.8"/><ellipse cx="905.3" cy="998.3" rx="4.6" ry="2.8"/><ellipse cx="905.3" cy="1005.8" rx="4.6" ry="2.8"/><ellipse cx="905.3" cy="1011.7" rx="4.6" ry="2.8"/><ellipse cx="905.3" cy="1016.7" rx="4.6" ry="2.8"/><ellipse cx="905.3" cy="1019.9" rx="4.6" ry="2.8"/><ellipse cx="905.3" cy="1023.1" rx="4.6" ry="2.8"/><ellipse cx="905.3" cy="1026.3" rx="4.6" ry="2.8"/><ellipse cx="905.3" cy="1029.5" rx="4.6" ry="2.8"/><ellipse cx="905.3" cy="1032.7" rx="4.6" ry="2.8"/><ellipse cx="905.3" cy="1035.9" rx="4.6" ry="2.8"/><ellipse cx="905.3" cy="1039.1" rx="4.6" ry="2.8"/><ellipse cx="905.3" cy="1042.3" rx="4.6" ry="2.8"/><ellipse cx="905.3" cy="1061.7" rx="4.6" ry="2.8"/><ellipse cx="905.3" cy="1065.0" rx="4.6" ry="2.8"/><ellipse cx="905.3" cy="1068.3" rx="4.6" ry="2.8"/><ellipse cx="905.3" cy="1071.6" rx="4.6" ry="2.8"/><ellipse cx="905.3" cy="1086.7" rx="4.6" ry="2.8"/><ellipse cx="905.3" cy="1090.8" rx="4.6" ry="2.8"/><ellipse cx="905.3" cy="989.2" rx="4.6" ry="2.8"/><ellipse cx="905.3" cy="1102.5" rx="4.6" ry="2.8"/></g>
<rect x="887.6" y="1021.6" width="35.3" height="37.9" stroke-width="2.6" stroke-linejoin="round"/>
<path d="M887.6 1036.2H922.9" stroke-width="2.6" stroke-linecap="butt"/>
</g>
<g stroke="#b67de1" fill="none" stroke-linecap="round">
<rect x="943.3" y="1018.8" width="35.4" height="39.9" fill="#e6d3f6" stroke="none"/>
<path d="M960.8 972.8V1017.5M960.8 1060V1094.2" stroke-width="2.8" stroke-linecap="butt"/>
<path d="M951.8 972.8H969.8M951.8 1094.2H969.8" stroke-width="2.5"/>
<g fill="#b67de1" stroke="none"><ellipse cx="960.8" cy="988.3" rx="4.6" ry="2.8"/><ellipse cx="960.8" cy="999.2" rx="4.6" ry="2.8"/><ellipse cx="960.8" cy="1002.5" rx="4.6" ry="2.8"/><ellipse cx="960.8" cy="1012.5" rx="4.6" ry="2.8"/><ellipse cx="960.8" cy="1017.5" rx="4.6" ry="2.8"/><ellipse cx="960.8" cy="1027.5" rx="4.6" ry="2.8"/><ellipse cx="960.8" cy="1030" rx="4.6" ry="2.8"/><ellipse cx="960.8" cy="1036.7" rx="4.6" ry="2.8"/><ellipse cx="960.8" cy="1040.8" rx="4.6" ry="2.8"/><ellipse cx="960.8" cy="1046.7" rx="4.6" ry="2.8"/><ellipse cx="960.8" cy="1050" rx="4.6" ry="2.8"/><ellipse cx="960.8" cy="1060" rx="4.6" ry="2.8"/><ellipse cx="960.8" cy="1064" rx="4.6" ry="2.8"/><ellipse cx="960.8" cy="1068.3" rx="4.6" ry="2.8"/><ellipse cx="960.8" cy="1080.8" rx="4.6" ry="2.8"/><ellipse cx="960.8" cy="1084" rx="4.6" ry="2.8"/><ellipse cx="960.8" cy="1087.5" rx="4.6" ry="2.8"/><ellipse cx="960.8" cy="972.8" rx="4.6" ry="2.8"/><ellipse cx="960.8" cy="1094.2" rx="4.6" ry="2.8"/></g>
<rect x="943.3" y="1018.8" width="35.4" height="39.9" stroke-width="2.6" stroke-linejoin="round"/>
<path d="M943.3 1040H978.7" stroke-width="2.6" stroke-linecap="butt"/>
</g>
<g stroke="#cf9b0c" fill="none" stroke-linecap="round">
<rect x="998.8" y="1030.8" width="35.4" height="21.6" fill="#efdda8" stroke="none"/>
<path d="M1016.7 965.3V1029.5M1016.7 1053.7V1093.8" stroke-width="2.8" stroke-linecap="butt"/>
<path d="M1007.7 965.3H1025.7M1007.7 1093.8H1025.7" stroke-width="2.5"/>
<g fill="#cf9b0c" stroke="none"><ellipse cx="1016.7" cy="992.5" rx="4.6" ry="2.8"/><ellipse cx="1016.7" cy="1000.8" rx="4.6" ry="2.8"/><ellipse cx="1016.7" cy="1007.5" rx="4.6" ry="2.8"/><ellipse cx="1016.7" cy="1020.8" rx="4.6" ry="2.8"/><ellipse cx="1016.7" cy="1025" rx="4.6" ry="2.8"/><ellipse cx="1016.7" cy="1030" rx="4.6" ry="2.8"/><ellipse cx="1016.7" cy="1033.2" rx="4.6" ry="2.8"/><ellipse cx="1016.7" cy="1036.4" rx="4.6" ry="2.8"/><ellipse cx="1016.7" cy="1039.6" rx="4.6" ry="2.8"/><ellipse cx="1016.7" cy="1042.8" rx="4.6" ry="2.8"/><ellipse cx="1016.7" cy="1046.0" rx="4.6" ry="2.8"/><ellipse cx="1016.7" cy="1049.2" rx="4.6" ry="2.8"/><ellipse cx="1016.7" cy="1052.4" rx="4.6" ry="2.8"/><ellipse cx="1016.7" cy="1059.2" rx="4.6" ry="2.8"/><ellipse cx="1016.7" cy="1063.3" rx="4.6" ry="2.8"/><ellipse cx="1016.7" cy="1067.5" rx="4.6" ry="2.8"/><ellipse cx="1016.7" cy="1073.3" rx="4.6" ry="2.8"/><ellipse cx="1016.7" cy="1090.8" rx="4.6" ry="2.8"/><ellipse cx="1016.7" cy="965.3" rx="4.6" ry="2.8"/><ellipse cx="1016.7" cy="1093.8" rx="4.6" ry="2.8"/></g>
<rect x="998.8" y="1030.8" width="35.4" height="21.6" stroke-width="2.6" stroke-linejoin="round"/>
<path d="M998.8 1042H1034.2" stroke-width="2.6" stroke-linecap="butt"/>
</g>
</svg></body></html>
